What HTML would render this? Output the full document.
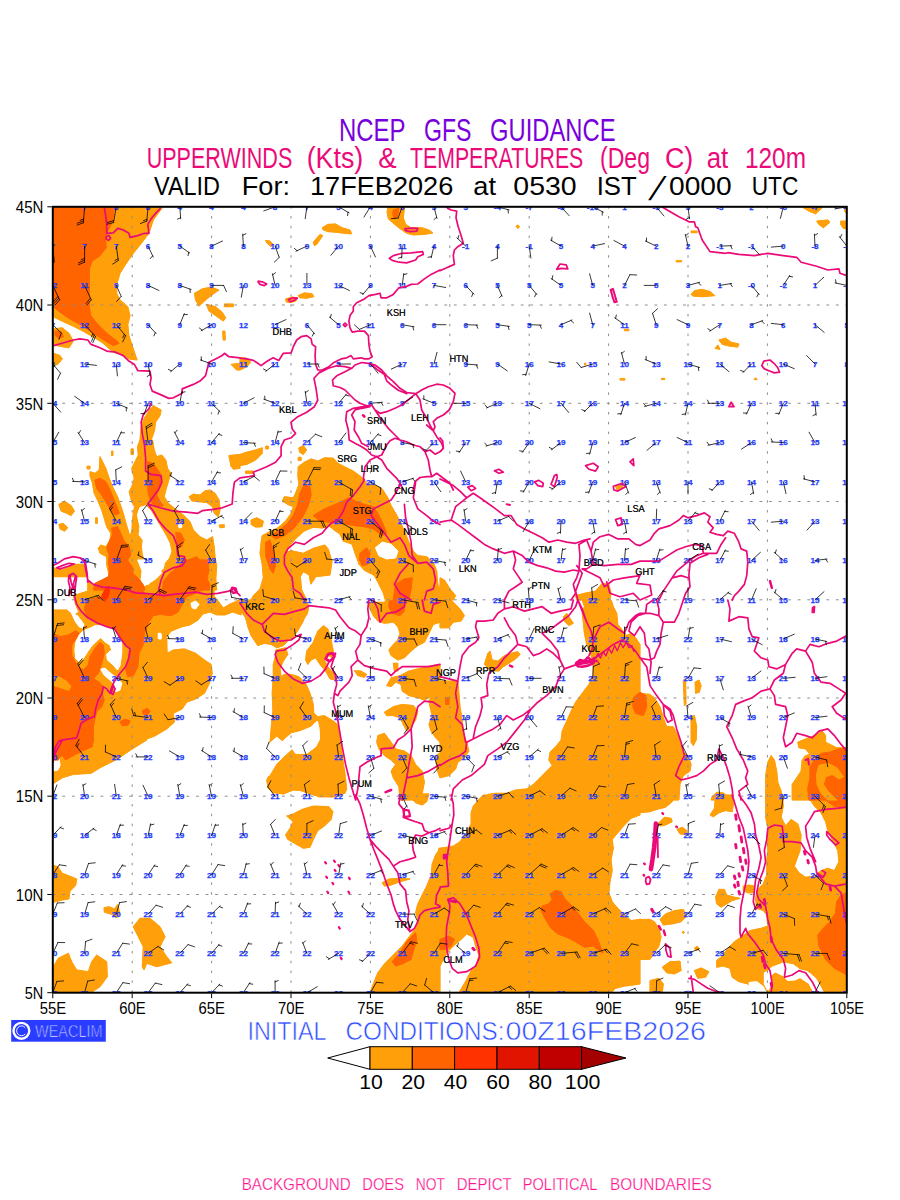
<!DOCTYPE html>
<html lang="en"><head><meta charset="utf-8"><title>NCEP GFS GUIDANCE - Upperwinds and Temperatures at 120m</title>
<style>html,body{margin:0;padding:0;background:#fff}body{width:900px;height:1200px;overflow:hidden}svg{display:block}text{font-family:"Liberation Sans",sans-serif}</style>
</head><body>
<svg width="900" height="1200" viewBox="0 0 900 1200">
<rect width="900" height="1200" fill="#fff"/>
<defs><clipPath id="mc"><rect x="52.8" y="206.8" width="794.0" height="785.9"/></clipPath></defs>
<g clip-path="url(#mc)">
<g fill="#FFA00A" stroke="#FFA00A" stroke-width="0.8" stroke-linejoin="round"><path d="M53.8 207.8L162.2 207.8L153.3 220.0L148.9 233.3L142.2 242.2L133.3 253.3L125.6 264.4L120.0 273.3L116.7 284.4L116.7 293.3L120.0 300.0L127.8 306.7L130.0 315.6L127.8 324.4L128.9 335.6L133.3 348.9L137.1 360.0L128.9 358.9L122.2 354.4L115.6 353.3L110.0 349.3L101.8 342.2L91.8 336.2L83.3 331.3L73.3 326.2L61.8 320.9L53.8 317.1Z"/><path d="M53.8 328.9L62.2 327.8L68.9 333.3L73.3 341.1L68.9 347.8L62.2 346.7L53.8 344.9Z"/><path d="M53.8 353.3L60.0 355.6L62.2 358.9L57.8 364.4L53.8 365.6Z"/><path d="M194.4 293.3L202.2 288.9L211.1 287.1L218.9 290.0L211.1 295.6L204.4 301.1L198.9 306.2L195.6 300.0Z"/><path d="M206.7 304.4L215.6 306.7L222.2 312.2L225.6 317.8L223.3 321.1L215.6 315.6L208.9 311.1Z"/><path d="M224.4 304.0L233.3 304.0L233.3 306.7L224.4 306.7Z"/><path d="M222.7 331.1L224.9 331.1L225.3 340.0L223.1 340.0Z"/><path d="M231.1 364.4L240.0 363.3L240.0 370.0L236.7 370.0Z"/><path d="M322.2 227.8L327.8 224.4L335.6 224.0L342.2 227.8L350.0 230.0L351.6 233.8L344.4 233.3L335.6 232.2L327.8 231.6L323.3 230.0Z"/><path d="M313.3 242.2L320.0 234.4L322.7 235.6L316.7 244.4L314.4 245.6Z"/><path d="M265.6 240.4L270.0 241.1L273.3 244.4L271.1 246.7L267.1 243.3Z"/><path d="M387.8 207.8L404.4 207.8L403.3 217.8L405.6 224.4L411.1 227.8L422.2 227.8L428.9 230.0L432.9 232.9L424.4 234.4L413.3 234.9L406.7 233.3L398.9 227.8L393.3 223.3L388.4 218.9L387.1 212.2Z"/><path d="M298.2 295.6L304.4 292.9L312.2 293.8L313.8 296.7L306.7 298.2L300.0 297.8Z"/><path d="M285.6 298.9L292.2 297.1L297.3 297.8L295.6 301.1L290.0 302.7L286.2 301.8Z"/><path d="M240.0 357.8L246.7 358.2L250.7 362.2L246.7 366.7L240.0 370.0Z"/><path d="M516.0 226.2L517.8 225.1L519.6 226.7L517.8 228.4Z"/><path d="M624.4 329.3L628.9 329.3L628.9 330.7L624.4 330.7Z"/><path d="M620.0 378.7L624.9 378.7L624.9 380.0L620.0 380.0Z"/><path d="M584.4 363.3L585.8 363.3L585.8 364.9L584.4 364.9Z"/><path d="M691.1 294.4L694.4 290.7L702.2 289.3L710.0 291.6L714.9 295.6L703.3 296.7L693.3 296.2Z"/><path d="M718.9 340.0L725.6 338.2L731.1 342.2L738.9 344.0L737.8 347.1L730.0 346.2L722.2 344.4Z"/><path d="M715.1 348.4L717.8 344.9L720.0 349.3Z"/><path d="M676.2 260.7L681.6 260.7L681.6 261.8L676.2 261.8Z"/><path d="M691.1 231.1L697.1 231.1L697.1 232.7L691.1 232.7Z"/><path d="M661.6 378.4L664.7 378.4L664.7 379.6L661.6 379.6Z"/><path d="M754.0 379.6L755.6 377.8L757.1 379.6Z"/><path d="M803.3 207.8L822.2 207.8L815.6 213.8L808.9 211.1Z"/><path d="M816.7 221.1L827.8 220.0L830.0 222.2L823.3 227.8L818.9 224.4Z"/><path d="M840.7 221.1L846.9 221.1L846.9 228.9L843.3 228.4L840.7 224.4Z"/><path d="M844.4 208.4L846.9 208.4L846.9 213.8L845.1 212.2Z"/><path d="M100.0 456.7L102.5 461.7L105.8 468.3L109.2 478.3L113.3 488.3L117.5 496.7L120.5 505.0L123.3 513.3L125.5 521.7L128.0 530.0L130.0 536.7L132.0 530.0L132.3 521.7L133.3 513.3L134.5 506.7L131.7 501.7L129.2 491.7L132.5 485.0L134.2 478.3L131.7 468.3L135.0 461.7L138.3 455.0L137.5 446.7L140.0 440.0L152.5 440.0L154.2 450.0L156.7 456.7L161.7 455.0L165.8 460.0L167.5 468.3L170.8 473.3L168.3 481.7L165.8 490.0L164.2 496.7L168.3 503.3L176.7 510.0L183.3 515.0L190.0 521.7L193.3 530.0L200.0 536.7L206.7 540.0L212.5 536.7L214.2 546.7L215.0 556.7L216.7 566.7L215.8 578.3L216.7 590.0L90.0 590.0L90.0 580.0L95.0 576.7L101.7 575.0L108.3 571.7L106.7 565.0L106.7 556.7L100.0 553.3L98.3 548.3L100.8 545.0L105.8 546.7L110.0 540.0L110.8 533.3L106.7 526.7L104.2 518.3L101.7 510.0L98.3 501.7L94.2 493.3L92.5 483.3L90.0 475.8L90.0 471.7L95.0 473.3L99.2 470.0Z"/><path d="M189.2 496.7L193.3 494.2L200.0 495.0L205.0 490.8L210.0 490.0L215.0 493.3L219.2 500.0L220.0 510.0L218.3 516.7L214.2 513.3L212.5 506.7L206.7 502.5L198.3 501.7L191.7 500.8Z"/><path d="M219.2 525.0L224.2 524.7L224.2 527.5L220.0 527.7Z"/><path d="M230.8 465.0L234.2 460.0L240.0 458.3L240.0 468.3L233.3 469.2Z"/><path d="M140.0 440.0L141.1 426.7L144.4 417.8L148.9 411.1L153.3 405.6L161.1 410.0L160.0 415.6L155.6 422.2L154.4 431.1L151.1 440.0L152.4 441.1L140.0 441.1Z"/><path d="M131.1 448.9L133.3 448.9L133.3 454.4L131.1 454.4Z"/><path d="M111.6 451.1L112.9 451.1L112.9 455.6L111.6 455.6Z"/><path d="M87.1 466.2L90.0 466.2L90.0 468.9L87.1 468.9Z"/><path d="M58.9 504.4L64.4 501.1L71.1 505.6L74.4 511.1L71.1 515.6L66.7 513.3L61.1 511.1Z"/><path d="M58.9 524.4L63.3 523.3L67.8 527.8L64.4 531.1L60.0 528.9Z"/><path d="M95.6 517.8L97.3 517.8L97.3 523.3L95.6 523.3Z"/><path d="M53.8 576.7L53.8 567.8L62.2 570.0L73.3 564.4L84.4 564.4L87.8 576.7Z"/><path d="M87.8 591.1L87.8 582.2L214.0 582.2L214.0 596.0L219.3 602.7L223.3 608.0L230.0 604.0L236.7 601.3L241.1 602.2L241.1 614.9L232.9 612.0L224.9 614.9L216.9 614.9L210.0 612.0L202.9 614.0L198.0 620.0L190.0 624.9L182.2 626.7L171.1 631.1L166.7 636.7L167.1 653.3L173.3 650.0L184.4 648.9L195.6 653.3L204.4 660.0L211.1 664.4L212.2 673.3L208.9 684.4L204.4 693.3L195.6 698.9L186.7 702.2L182.2 708.9L173.3 713.3L174.4 722.2L166.7 728.9L155.6 735.6L144.4 740.0L135.6 744.4L128.9 751.1L117.8 757.8L113.3 760.0L53.8 760.0L53.8 610.0L66.7 610.0L73.3 615.6L78.9 612.2L75.6 604.4L73.3 595.6L87.8 591.1Z"/><path d="M90.0 580.0L214.0 580.0L214.0 591.1L90.0 591.1Z"/><path d="M53.8 740.0L146.7 740.0L137.8 745.6L128.9 751.1L117.8 758.9L106.7 764.4L100.0 767.8L91.1 773.3L73.3 774.4L62.2 777.8L53.8 783.3Z"/><path d="M53.8 865.6L57.8 866.7L62.2 873.3L71.1 876.7L76.7 878.9L75.6 885.6L70.0 891.1L68.9 898.9L62.2 900.0L53.8 902.2Z"/><path d="M104.0 907.8L108.9 906.7L114.4 908.9L117.8 904.4L119.6 913.3L116.7 917.8L112.2 914.4L104.4 912.2Z"/><path d="M133.3 926.7L140.0 918.3L150.0 918.3L160.0 926.7L165.0 936.7L160.0 946.7L166.7 956.7L171.7 962.7L156.7 966.7L146.7 963.3L144.0 970.0L142.3 966.7L143.3 946.7L138.3 936.7Z"/><path d="M53.3 966.7L58.3 958.3L68.3 953.3L71.7 961.7L76.7 970.0L88.3 971.7L91.7 961.7L96.7 955.0L106.7 961.7L107.3 976.7L100.0 986.7L90.0 993.3L53.3 993.3Z"/><path d="M251.1 600.0L253.3 595.6L260.0 588.9L263.3 577.8L262.2 564.4L260.0 553.3L261.1 542.2L262.2 535.6L268.9 532.2L277.8 527.8L285.6 521.1L291.1 513.3L293.3 506.7L287.8 504.4L282.2 501.1L284.4 496.7L293.3 497.8L295.6 493.3L298.9 484.4L297.8 475.6L298.2 466.7L304.4 462.2L311.1 458.9L317.8 461.1L324.4 457.8L333.3 458.2L337.8 463.3L344.4 466.7L353.3 471.1L361.1 476.7L366.7 483.3L375.6 485.6L382.2 488.9L387.8 497.8L391.1 505.6L395.6 513.3L400.0 521.1L404.4 531.1L408.9 542.2L413.3 551.1L417.8 555.6L426.7 556.7L433.3 562.2L436.7 571.1L437.8 584.4L440.0 588.9L440.0 600.0Z"/><path d="M228.9 455.6L240.0 454.4L246.7 452.2L255.6 450.0L262.2 447.8L262.2 453.3L255.6 460.0L246.7 464.4L240.0 465.6L231.1 466.7Z"/><path d="M298.9 447.8L303.3 445.6L306.7 450.0L303.3 454.4L299.6 452.2Z"/><path d="M251.1 520.0L256.7 517.8L263.3 521.1L262.2 526.7L255.6 527.1L251.1 524.4Z"/><path d="M265.6 446.2L268.4 446.2L268.4 448.9L265.6 448.9Z"/><path d="M298.2 457.3L301.1 457.3L301.1 460.4L298.2 460.4Z"/><path d="M245.6 471.1L253.3 471.1L253.3 473.3L245.6 473.3Z"/><path d="M440.0 577.8L444.4 580.0L450.0 588.9L455.6 595.6L453.3 600.0L440.0 600.0Z"/><path d="M575.6 595.6L584.4 593.3L595.6 591.1L602.2 583.3L608.9 584.4L611.1 593.3L610.0 600.0L576.7 600.0Z"/><path d="M615.6 486.2L622.2 484.4L622.7 487.8L616.7 489.3Z"/><path d="M237.8 600.0L306.7 600.0L305.6 611.1L303.3 621.1L298.2 630.0L293.3 636.7L287.8 641.1L283.3 645.6L276.7 647.8L271.1 644.4L264.4 643.3L257.8 645.6L251.1 635.6L247.8 626.7L245.6 617.8L240.0 610.0L237.8 608.9Z"/><path d="M275.6 650.0L285.6 647.8L287.8 654.4L283.3 661.1L280.0 668.9L281.1 676.7L284.4 674.4L291.1 674.4L298.9 676.7L305.6 683.3L310.0 693.3L313.3 704.4L313.8 713.3L317.8 716.7L324.4 715.6L333.3 721.1L337.3 724.4L340.0 737.8L342.2 755.6L344.9 773.3L346.7 788.9L344.9 793.3L333.3 797.1L315.6 795.6L300.0 790.4L293.3 790.0L283.3 794.0L273.3 792.7L268.2 788.2L266.7 780.0L268.9 775.6L266.7 768.9L267.8 755.6L270.0 743.3L271.1 728.9L272.9 711.1L272.2 693.3L273.3 675.6L273.3 664.4L275.6 655.6Z"/><path d="M305.6 660.0L306.7 651.1L313.3 642.2L317.8 631.1L323.3 625.6L327.8 628.9L331.1 640.0L333.3 651.1L332.2 657.8L328.9 655.6L324.4 660.0L327.8 666.7L333.3 673.3L335.6 680.0L330.0 678.9L325.6 671.1L320.0 664.4L315.6 657.8L311.1 660.0L307.8 664.4Z"/><path d="M368.9 600.0L440.0 600.0L440.0 622.2L433.3 624.4L428.9 633.3L424.4 642.2L417.8 645.6L411.1 651.1L404.4 657.8L397.8 660.0L391.1 655.6L388.9 650.0L393.3 644.4L397.8 640.0L400.0 633.3L397.8 626.7L393.3 622.2L384.4 623.3L377.8 621.1L373.3 615.6L370.0 608.9Z"/><path d="M386.7 685.6L391.1 677.8L400.0 675.6L408.9 671.1L417.8 668.9L426.7 666.7L440.0 664.4L440.0 697.8L435.6 700.0L428.9 697.8L424.4 700.0L417.8 697.8L408.9 695.6L402.2 691.1L401.1 684.4L395.6 682.2L391.1 686.7Z"/><path d="M393.3 663.3L397.8 663.3L397.8 671.1L394.4 671.1Z"/><path d="M354.4 670.7L361.1 671.1L366.7 674.4L364.4 677.3L357.8 675.6Z"/><path d="M384.4 712.2L393.3 706.7L402.2 704.4L413.3 705.6L417.8 711.1L415.6 720.0L411.1 726.7L406.7 731.1L403.3 724.4L400.0 717.8L393.3 715.6L386.7 715.6Z"/><path d="M377.8 735.6L384.4 733.3L391.1 742.2L395.6 748.9L404.4 751.1L411.1 755.6L415.6 764.4L422.2 771.1L424.4 782.2L422.2 793.3L417.8 800.0L400.0 800.0L398.9 786.7L393.3 777.8L391.1 771.1L395.6 764.4L391.1 760.0L384.4 755.6L378.9 748.9L376.7 742.2Z"/><path d="M428.9 700.0L440.0 697.8L440.0 742.2L435.6 737.8L431.1 731.1L428.9 724.4L432.2 715.6L430.0 706.7Z"/><path d="M435.6 755.6L440.0 753.3L440.0 777.8L436.7 768.9Z"/><path d="M582.2 600.0L584.4 606.7L582.2 613.3L583.3 622.2L584.4 633.3L586.7 644.4L591.1 655.6L593.3 666.7L593.3 675.6L588.9 684.4L582.2 693.3L575.6 702.2L571.1 711.1L566.7 721.1L562.2 731.1L561.1 740.0L555.6 746.7L550.0 752.2L548.9 760.0L552.2 765.6L546.7 771.1L540.0 777.8L533.3 784.4L526.7 788.9L515.6 790.0L506.7 793.3L495.6 793.3L487.8 794.4L482.2 800.0L640.0 800.0L640.0 644.4L635.6 637.8L631.1 633.3L626.7 635.6L617.8 624.4L616.7 613.3L613.3 606.7L611.1 600.0Z"/><path d="M440.0 600.0L451.1 600.0L460.0 608.9L464.4 615.6L461.1 621.1L453.3 622.2L448.9 627.8L440.0 627.8Z"/><path d="M440.0 681.1L457.8 681.1L458.9 693.3L460.0 706.7L462.2 720.0L463.3 733.3L466.7 742.2L468.9 751.1L464.4 757.8L457.8 762.2L455.6 768.9L448.9 775.6L440.0 777.8Z"/><path d="M484.4 664.4L487.8 653.3L490.0 651.1L492.2 660.0L497.8 661.1L504.4 655.6L511.1 653.3L517.8 651.6L520.0 654.4L515.6 658.9L508.9 663.3L503.3 666.7L498.9 671.1L492.2 670.7L487.8 667.8Z"/><path d="M563.3 616.7L566.7 613.3L571.1 620.0L573.3 623.3L568.9 625.6L564.4 621.1Z"/><path d="M638.9 693.3L650.0 694.4L654.4 697.8L660.0 706.7L663.3 717.8L666.7 726.7L673.3 726.7L678.9 737.8L682.2 751.1L687.8 755.6L691.1 764.4L690.0 771.1L683.3 775.6L680.0 784.4L678.9 800.0L638.9 800.0Z"/><path d="M683.3 680.0L685.6 678.9L686.0 704.4L684.4 705.6Z"/><path d="M695.1 682.2L698.9 680.0L701.1 685.6L699.3 692.2L695.6 693.3Z"/><path d="M691.1 716.7L694.4 715.6L696.7 726.7L696.2 740.0L693.3 745.6L691.1 742.2Z"/><path d="M712.2 796.7L716.7 792.2L723.3 792.9L727.8 796.7L730.0 800.0L711.1 800.0Z"/><path d="M765.6 775.6L767.8 762.2L771.1 755.6L774.4 760.0L776.7 771.1L777.8 782.2L781.1 791.1L783.3 800.0L765.6 800.0Z"/><path d="M797.8 742.2L805.6 738.9L814.4 735.6L822.2 731.1L825.6 735.6L825.6 742.2L836.7 747.8L846.9 747.8L846.9 800.0L792.2 800.0L792.2 784.4L796.7 777.8L801.1 771.1L802.2 760.0L805.6 755.6L810.0 754.4L805.6 748.9L798.9 747.8Z"/><path d="M286.7 816.1L293.3 813.9L302.2 809.4L313.3 806.1L328.9 806.6L332.9 811.7L331.1 819.4L324.4 826.1L317.8 830.6L313.3 839.4L310.0 847.2L303.3 848.3L295.6 843.9L287.8 839.4L285.6 835.0L290.0 828.3L293.3 821.7Z"/><path d="M315.6 792.8L333.3 792.8L328.9 796.8L317.8 796.8Z"/><path d="M408.9 793.9L428.9 793.9L426.7 801.7L422.2 805.0L415.6 802.8L411.1 798.3Z"/><path d="M382.2 882.8L388.9 879.0L400.0 878.3L410.0 879.0L400.0 881.7L391.1 885.0L384.4 886.1Z"/><path d="M440.0 848.3L435.6 855.0L432.2 863.9L431.1 875.0L426.7 886.1L422.2 895.0L417.8 903.9L415.6 912.8L417.8 919.4L415.6 928.3L408.9 937.2L402.2 946.1L393.3 955.0L384.4 963.9L377.8 972.8L373.3 983.9L370.0 992.8L440.0 992.8Z"/><path d="M438.9 848.3L446.7 847.2L453.3 846.1L460.0 841.7L466.7 832.8L471.1 823.9L471.1 812.8L473.3 806.1L477.8 800.6L483.3 795.0L640.0 795.0L640.0 815.0L631.1 818.3L624.4 825.0L617.8 832.8L612.2 839.4L613.3 848.3L611.1 859.4L612.2 870.6L610.0 881.7L608.9 892.8L612.2 901.7L617.8 908.3L624.4 915.0L631.1 920.6L640.0 919.4L640.0 983.9L633.3 985.0L624.4 986.1L615.6 988.3L611.1 992.8L458.9 992.8L462.2 987.2L466.7 979.4L471.1 970.6L476.7 963.9L478.9 955.0L475.6 946.1L473.3 937.2L466.7 933.9L461.1 939.4L455.6 943.9L448.9 950.6L444.4 957.2L440.0 966.1L438.9 966.1Z"/><path d="M638.9 795.0L675.6 795.0L672.2 801.7L665.6 807.2L656.7 809.4L650.0 811.7L638.9 812.8Z"/><path d="M658.9 822.8L664.4 817.2L671.1 818.3L672.2 821.7L665.6 825.0L660.0 826.1Z"/><path d="M677.1 829.4L682.2 827.2L686.7 830.6L685.6 834.6L680.0 833.9Z"/><path d="M710.0 815.0L714.4 808.3L715.6 795.0L732.2 795.0L733.3 803.9L732.2 811.7L725.6 810.6L718.9 812.8L713.3 816.8Z"/><path d="M715.6 897.2L718.9 889.4L724.4 889.4L726.7 895.0L734.4 897.2L740.0 898.3L732.2 900.6L726.7 903.9L721.1 907.2L716.7 903.9Z"/><path d="M743.3 886.1L748.9 885.0L754.4 886.1L754.4 892.8L747.8 892.8L743.3 890.6Z"/><path d="M660.0 919.4L665.6 913.9L674.4 910.6L683.3 909.4L686.7 916.1L681.1 921.7L672.2 923.9L663.3 925.0Z"/><path d="M638.9 919.4L650.0 919.4L654.4 921.7L658.9 928.3L661.1 937.2L658.9 946.1L654.4 952.8L650.0 959.4L638.9 959.4Z"/><path d="M662.2 967.2L670.0 961.7L680.0 961.2L681.1 970.6L674.4 973.9L666.7 972.8Z"/><path d="M694.4 970.6L701.1 967.9L708.9 971.7L705.6 977.2L697.8 978.3Z"/><path d="M694.4 948.3L697.1 946.1L699.3 948.8L696.2 950.6Z"/><path d="M682.2 932.3L683.3 931.2L684.4 932.3L683.3 933.4Z"/><path d="M650.0 980.6L658.9 978.3L663.3 983.9L662.2 992.8L650.0 992.8Z"/><path d="M765.6 795.0L782.2 795.0L783.3 806.1L781.1 817.2L785.6 826.1L791.1 819.4L797.8 823.9L801.1 835.0L800.0 850.6L796.7 859.4L794.4 866.1L798.9 872.8L805.6 877.2L814.4 876.1L821.1 870.6L827.8 868.3L834.4 870.6L838.9 861.7L837.8 850.6L832.2 839.4L827.8 830.6L825.6 821.7L821.1 812.8L814.4 806.1L810.0 799.4L805.6 795.0L846.9 795.0L846.9 992.8L822.2 992.8L754.4 992.8L747.8 983.9L738.9 981.7L732.2 977.2L730.0 968.3L723.3 966.1L716.7 967.2L716.7 960.6L723.3 955.0L727.8 948.3L734.4 941.7L741.1 937.2L750.0 930.6L761.1 928.3L767.8 926.1L766.7 915.0L763.3 910.6L756.7 908.3L755.6 899.4L756.7 890.6L763.3 883.9L766.7 875.0L766.7 861.7L767.8 850.6L766.7 839.4L767.8 828.3L765.6 817.2Z"/><path d="M53.8 207.8L162.2 207.8L153.3 220.0L148.9 233.3L142.2 242.2L133.3 253.3L125.6 264.4L120.0 273.3L116.7 284.4L116.7 293.3L120.0 300.0L127.8 306.7L130.0 315.6L127.8 324.4L128.9 335.6L133.3 348.9L137.1 360.0L128.9 358.9L122.2 354.4L115.6 353.3L110.0 349.3L101.8 342.2L91.8 336.2L83.3 331.3L73.3 326.2L61.8 320.9L53.8 317.1Z"/><path d="M53.8 328.9L62.2 327.8L68.9 333.3L73.3 341.1L68.9 347.8L62.2 346.7L53.8 344.9Z"/><path d="M53.8 353.3L60.0 355.6L62.2 358.9L57.8 364.4L53.8 365.6Z"/><path d="M194.4 293.3L202.2 288.9L211.1 287.1L218.9 290.0L211.1 295.6L204.4 301.1L198.9 306.2L195.6 300.0Z"/><path d="M206.7 304.4L215.6 306.7L222.2 312.2L225.6 317.8L223.3 321.1L215.6 315.6L208.9 311.1Z"/><path d="M224.4 304.0L233.3 304.0L233.3 306.7L224.4 306.7Z"/><path d="M222.7 331.1L224.9 331.1L225.3 340.0L223.1 340.0Z"/><path d="M231.1 364.4L240.0 363.3L240.0 370.0L236.7 370.0Z"/><path d="M322.2 227.8L327.8 224.4L335.6 224.0L342.2 227.8L350.0 230.0L351.6 233.8L344.4 233.3L335.6 232.2L327.8 231.6L323.3 230.0Z"/><path d="M313.3 242.2L320.0 234.4L322.7 235.6L316.7 244.4L314.4 245.6Z"/><path d="M265.6 240.4L270.0 241.1L273.3 244.4L271.1 246.7L267.1 243.3Z"/><path d="M387.8 207.8L404.4 207.8L403.3 217.8L405.6 224.4L411.1 227.8L422.2 227.8L428.9 230.0L432.9 232.9L424.4 234.4L413.3 234.9L406.7 233.3L398.9 227.8L393.3 223.3L388.4 218.9L387.1 212.2Z"/><path d="M298.2 295.6L304.4 292.9L312.2 293.8L313.8 296.7L306.7 298.2L300.0 297.8Z"/><path d="M285.6 298.9L292.2 297.1L297.3 297.8L295.6 301.1L290.0 302.7L286.2 301.8Z"/><path d="M240.0 357.8L246.7 358.2L250.7 362.2L246.7 366.7L240.0 370.0Z"/><path d="M516.0 226.2L517.8 225.1L519.6 226.7L517.8 228.4Z"/><path d="M624.4 329.3L628.9 329.3L628.9 330.7L624.4 330.7Z"/><path d="M620.0 378.7L624.9 378.7L624.9 380.0L620.0 380.0Z"/><path d="M584.4 363.3L585.8 363.3L585.8 364.9L584.4 364.9Z"/><path d="M691.1 294.4L694.4 290.7L702.2 289.3L710.0 291.6L714.9 295.6L703.3 296.7L693.3 296.2Z"/><path d="M718.9 340.0L725.6 338.2L731.1 342.2L738.9 344.0L737.8 347.1L730.0 346.2L722.2 344.4Z"/><path d="M715.1 348.4L717.8 344.9L720.0 349.3Z"/><path d="M676.2 260.7L681.6 260.7L681.6 261.8L676.2 261.8Z"/><path d="M691.1 231.1L697.1 231.1L697.1 232.7L691.1 232.7Z"/><path d="M661.6 378.4L664.7 378.4L664.7 379.6L661.6 379.6Z"/><path d="M754.0 379.6L755.6 377.8L757.1 379.6Z"/><path d="M803.3 207.8L822.2 207.8L815.6 213.8L808.9 211.1Z"/><path d="M816.7 221.1L827.8 220.0L830.0 222.2L823.3 227.8L818.9 224.4Z"/><path d="M840.7 221.1L846.9 221.1L846.9 228.9L843.3 228.4L840.7 224.4Z"/><path d="M844.4 208.4L846.9 208.4L846.9 213.8L845.1 212.2Z"/><path d="M100.0 456.7L102.5 461.7L105.8 468.3L109.2 478.3L113.3 488.3L117.5 496.7L120.5 505.0L123.3 513.3L125.5 521.7L128.0 530.0L130.0 536.7L132.0 530.0L132.3 521.7L133.3 513.3L134.5 506.7L131.7 501.7L129.2 491.7L132.5 485.0L134.2 478.3L131.7 468.3L135.0 461.7L138.3 455.0L137.5 446.7L140.0 440.0L152.5 440.0L154.2 450.0L156.7 456.7L161.7 455.0L165.8 460.0L167.5 468.3L170.8 473.3L168.3 481.7L165.8 490.0L164.2 496.7L168.3 503.3L176.7 510.0L183.3 515.0L190.0 521.7L193.3 530.0L200.0 536.7L206.7 540.0L212.5 536.7L214.2 546.7L215.0 556.7L216.7 566.7L215.8 578.3L216.7 590.0L90.0 590.0L90.0 580.0L95.0 576.7L101.7 575.0L108.3 571.7L106.7 565.0L106.7 556.7L100.0 553.3L98.3 548.3L100.8 545.0L105.8 546.7L110.0 540.0L110.8 533.3L106.7 526.7L104.2 518.3L101.7 510.0L98.3 501.7L94.2 493.3L92.5 483.3L90.0 475.8L90.0 471.7L95.0 473.3L99.2 470.0Z"/><path d="M189.2 496.7L193.3 494.2L200.0 495.0L205.0 490.8L210.0 490.0L215.0 493.3L219.2 500.0L220.0 510.0L218.3 516.7L214.2 513.3L212.5 506.7L206.7 502.5L198.3 501.7L191.7 500.8Z"/><path d="M219.2 525.0L224.2 524.7L224.2 527.5L220.0 527.7Z"/><path d="M230.8 465.0L234.2 460.0L240.0 458.3L240.0 468.3L233.3 469.2Z"/><path d="M140.0 440.0L141.1 426.7L144.4 417.8L148.9 411.1L153.3 405.6L161.1 410.0L160.0 415.6L155.6 422.2L154.4 431.1L151.1 440.0L152.4 441.1L140.0 441.1Z"/><path d="M131.1 448.9L133.3 448.9L133.3 454.4L131.1 454.4Z"/><path d="M111.6 451.1L112.9 451.1L112.9 455.6L111.6 455.6Z"/><path d="M87.1 466.2L90.0 466.2L90.0 468.9L87.1 468.9Z"/><path d="M58.9 504.4L64.4 501.1L71.1 505.6L74.4 511.1L71.1 515.6L66.7 513.3L61.1 511.1Z"/><path d="M58.9 524.4L63.3 523.3L67.8 527.8L64.4 531.1L60.0 528.9Z"/><path d="M95.6 517.8L97.3 517.8L97.3 523.3L95.6 523.3Z"/><path d="M53.8 576.7L53.8 567.8L62.2 570.0L73.3 564.4L84.4 564.4L87.8 576.7Z"/><path d="M87.8 591.1L87.8 582.2L214.0 582.2L214.0 596.0L219.3 602.7L223.3 608.0L230.0 604.0L236.7 601.3L241.1 602.2L241.1 614.9L232.9 612.0L224.9 614.9L216.9 614.9L210.0 612.0L202.9 614.0L198.0 620.0L190.0 624.9L182.2 626.7L171.1 631.1L166.7 636.7L167.1 653.3L173.3 650.0L184.4 648.9L195.6 653.3L204.4 660.0L211.1 664.4L212.2 673.3L208.9 684.4L204.4 693.3L195.6 698.9L186.7 702.2L182.2 708.9L173.3 713.3L174.4 722.2L166.7 728.9L155.6 735.6L144.4 740.0L135.6 744.4L128.9 751.1L117.8 757.8L113.3 760.0L53.8 760.0L53.8 610.0L66.7 610.0L73.3 615.6L78.9 612.2L75.6 604.4L73.3 595.6L87.8 591.1Z"/><path d="M90.0 580.0L214.0 580.0L214.0 591.1L90.0 591.1Z"/><path d="M53.8 740.0L146.7 740.0L137.8 745.6L128.9 751.1L117.8 758.9L106.7 764.4L100.0 767.8L91.1 773.3L73.3 774.4L62.2 777.8L53.8 783.3Z"/><path d="M53.8 865.6L57.8 866.7L62.2 873.3L71.1 876.7L76.7 878.9L75.6 885.6L70.0 891.1L68.9 898.9L62.2 900.0L53.8 902.2Z"/><path d="M104.0 907.8L108.9 906.7L114.4 908.9L117.8 904.4L119.6 913.3L116.7 917.8L112.2 914.4L104.4 912.2Z"/><path d="M133.3 926.7L140.0 918.3L150.0 918.3L160.0 926.7L165.0 936.7L160.0 946.7L166.7 956.7L171.7 962.7L156.7 966.7L146.7 963.3L144.0 970.0L142.3 966.7L143.3 946.7L138.3 936.7Z"/><path d="M53.3 966.7L58.3 958.3L68.3 953.3L71.7 961.7L76.7 970.0L88.3 971.7L91.7 961.7L96.7 955.0L106.7 961.7L107.3 976.7L100.0 986.7L90.0 993.3L53.3 993.3Z"/><path d="M251.1 600.0L253.3 595.6L260.0 588.9L263.3 577.8L262.2 564.4L260.0 553.3L261.1 542.2L262.2 535.6L268.9 532.2L277.8 527.8L285.6 521.1L291.1 513.3L293.3 506.7L287.8 504.4L282.2 501.1L284.4 496.7L293.3 497.8L295.6 493.3L298.9 484.4L297.8 475.6L298.2 466.7L304.4 462.2L311.1 458.9L317.8 461.1L324.4 457.8L333.3 458.2L337.8 463.3L344.4 466.7L353.3 471.1L361.1 476.7L366.7 483.3L375.6 485.6L382.2 488.9L387.8 497.8L391.1 505.6L395.6 513.3L400.0 521.1L404.4 531.1L408.9 542.2L413.3 551.1L417.8 555.6L426.7 556.7L433.3 562.2L436.7 571.1L437.8 584.4L440.0 588.9L440.0 600.0Z"/><path d="M228.9 455.6L240.0 454.4L246.7 452.2L255.6 450.0L262.2 447.8L262.2 453.3L255.6 460.0L246.7 464.4L240.0 465.6L231.1 466.7Z"/><path d="M298.9 447.8L303.3 445.6L306.7 450.0L303.3 454.4L299.6 452.2Z"/><path d="M251.1 520.0L256.7 517.8L263.3 521.1L262.2 526.7L255.6 527.1L251.1 524.4Z"/><path d="M265.6 446.2L268.4 446.2L268.4 448.9L265.6 448.9Z"/><path d="M298.2 457.3L301.1 457.3L301.1 460.4L298.2 460.4Z"/><path d="M245.6 471.1L253.3 471.1L253.3 473.3L245.6 473.3Z"/><path d="M440.0 577.8L444.4 580.0L450.0 588.9L455.6 595.6L453.3 600.0L440.0 600.0Z"/><path d="M575.6 595.6L584.4 593.3L595.6 591.1L602.2 583.3L608.9 584.4L611.1 593.3L610.0 600.0L576.7 600.0Z"/><path d="M615.6 486.2L622.2 484.4L622.7 487.8L616.7 489.3Z"/><path d="M237.8 600.0L306.7 600.0L305.6 611.1L303.3 621.1L298.2 630.0L293.3 636.7L287.8 641.1L283.3 645.6L276.7 647.8L271.1 644.4L264.4 643.3L257.8 645.6L251.1 635.6L247.8 626.7L245.6 617.8L240.0 610.0L237.8 608.9Z"/><path d="M275.6 650.0L285.6 647.8L287.8 654.4L283.3 661.1L280.0 668.9L281.1 676.7L284.4 674.4L291.1 674.4L298.9 676.7L305.6 683.3L310.0 693.3L313.3 704.4L313.8 713.3L317.8 716.7L324.4 715.6L333.3 721.1L337.3 724.4L340.0 737.8L342.2 755.6L344.9 773.3L346.7 788.9L344.9 793.3L333.3 797.1L315.6 795.6L300.0 790.4L293.3 790.0L283.3 794.0L273.3 792.7L268.2 788.2L266.7 780.0L268.9 775.6L266.7 768.9L267.8 755.6L270.0 743.3L271.1 728.9L272.9 711.1L272.2 693.3L273.3 675.6L273.3 664.4L275.6 655.6Z"/><path d="M305.6 660.0L306.7 651.1L313.3 642.2L317.8 631.1L323.3 625.6L327.8 628.9L331.1 640.0L333.3 651.1L332.2 657.8L328.9 655.6L324.4 660.0L327.8 666.7L333.3 673.3L335.6 680.0L330.0 678.9L325.6 671.1L320.0 664.4L315.6 657.8L311.1 660.0L307.8 664.4Z"/><path d="M368.9 600.0L440.0 600.0L440.0 622.2L433.3 624.4L428.9 633.3L424.4 642.2L417.8 645.6L411.1 651.1L404.4 657.8L397.8 660.0L391.1 655.6L388.9 650.0L393.3 644.4L397.8 640.0L400.0 633.3L397.8 626.7L393.3 622.2L384.4 623.3L377.8 621.1L373.3 615.6L370.0 608.9Z"/><path d="M386.7 685.6L391.1 677.8L400.0 675.6L408.9 671.1L417.8 668.9L426.7 666.7L440.0 664.4L440.0 697.8L435.6 700.0L428.9 697.8L424.4 700.0L417.8 697.8L408.9 695.6L402.2 691.1L401.1 684.4L395.6 682.2L391.1 686.7Z"/><path d="M393.3 663.3L397.8 663.3L397.8 671.1L394.4 671.1Z"/><path d="M354.4 670.7L361.1 671.1L366.7 674.4L364.4 677.3L357.8 675.6Z"/><path d="M384.4 712.2L393.3 706.7L402.2 704.4L413.3 705.6L417.8 711.1L415.6 720.0L411.1 726.7L406.7 731.1L403.3 724.4L400.0 717.8L393.3 715.6L386.7 715.6Z"/><path d="M377.8 735.6L384.4 733.3L391.1 742.2L395.6 748.9L404.4 751.1L411.1 755.6L415.6 764.4L422.2 771.1L424.4 782.2L422.2 793.3L417.8 800.0L400.0 800.0L398.9 786.7L393.3 777.8L391.1 771.1L395.6 764.4L391.1 760.0L384.4 755.6L378.9 748.9L376.7 742.2Z"/><path d="M428.9 700.0L440.0 697.8L440.0 742.2L435.6 737.8L431.1 731.1L428.9 724.4L432.2 715.6L430.0 706.7Z"/><path d="M435.6 755.6L440.0 753.3L440.0 777.8L436.7 768.9Z"/><path d="M582.2 600.0L584.4 606.7L582.2 613.3L583.3 622.2L584.4 633.3L586.7 644.4L591.1 655.6L593.3 666.7L593.3 675.6L588.9 684.4L582.2 693.3L575.6 702.2L571.1 711.1L566.7 721.1L562.2 731.1L561.1 740.0L555.6 746.7L550.0 752.2L548.9 760.0L552.2 765.6L546.7 771.1L540.0 777.8L533.3 784.4L526.7 788.9L515.6 790.0L506.7 793.3L495.6 793.3L487.8 794.4L482.2 800.0L640.0 800.0L640.0 644.4L635.6 637.8L631.1 633.3L626.7 635.6L617.8 624.4L616.7 613.3L613.3 606.7L611.1 600.0Z"/><path d="M440.0 600.0L451.1 600.0L460.0 608.9L464.4 615.6L461.1 621.1L453.3 622.2L448.9 627.8L440.0 627.8Z"/><path d="M440.0 681.1L457.8 681.1L458.9 693.3L460.0 706.7L462.2 720.0L463.3 733.3L466.7 742.2L468.9 751.1L464.4 757.8L457.8 762.2L455.6 768.9L448.9 775.6L440.0 777.8Z"/><path d="M484.4 664.4L487.8 653.3L490.0 651.1L492.2 660.0L497.8 661.1L504.4 655.6L511.1 653.3L517.8 651.6L520.0 654.4L515.6 658.9L508.9 663.3L503.3 666.7L498.9 671.1L492.2 670.7L487.8 667.8Z"/><path d="M563.3 616.7L566.7 613.3L571.1 620.0L573.3 623.3L568.9 625.6L564.4 621.1Z"/><path d="M638.9 693.3L650.0 694.4L654.4 697.8L660.0 706.7L663.3 717.8L666.7 726.7L673.3 726.7L678.9 737.8L682.2 751.1L687.8 755.6L691.1 764.4L690.0 771.1L683.3 775.6L680.0 784.4L678.9 800.0L638.9 800.0Z"/><path d="M683.3 680.0L685.6 678.9L686.0 704.4L684.4 705.6Z"/><path d="M695.1 682.2L698.9 680.0L701.1 685.6L699.3 692.2L695.6 693.3Z"/><path d="M691.1 716.7L694.4 715.6L696.7 726.7L696.2 740.0L693.3 745.6L691.1 742.2Z"/><path d="M712.2 796.7L716.7 792.2L723.3 792.9L727.8 796.7L730.0 800.0L711.1 800.0Z"/><path d="M765.6 775.6L767.8 762.2L771.1 755.6L774.4 760.0L776.7 771.1L777.8 782.2L781.1 791.1L783.3 800.0L765.6 800.0Z"/><path d="M797.8 742.2L805.6 738.9L814.4 735.6L822.2 731.1L825.6 735.6L825.6 742.2L836.7 747.8L846.9 747.8L846.9 800.0L792.2 800.0L792.2 784.4L796.7 777.8L801.1 771.1L802.2 760.0L805.6 755.6L810.0 754.4L805.6 748.9L798.9 747.8Z"/><path d="M286.7 816.1L293.3 813.9L302.2 809.4L313.3 806.1L328.9 806.6L332.9 811.7L331.1 819.4L324.4 826.1L317.8 830.6L313.3 839.4L310.0 847.2L303.3 848.3L295.6 843.9L287.8 839.4L285.6 835.0L290.0 828.3L293.3 821.7Z"/><path d="M315.6 792.8L333.3 792.8L328.9 796.8L317.8 796.8Z"/><path d="M408.9 793.9L428.9 793.9L426.7 801.7L422.2 805.0L415.6 802.8L411.1 798.3Z"/><path d="M382.2 882.8L388.9 879.0L400.0 878.3L410.0 879.0L400.0 881.7L391.1 885.0L384.4 886.1Z"/><path d="M440.0 848.3L435.6 855.0L432.2 863.9L431.1 875.0L426.7 886.1L422.2 895.0L417.8 903.9L415.6 912.8L417.8 919.4L415.6 928.3L408.9 937.2L402.2 946.1L393.3 955.0L384.4 963.9L377.8 972.8L373.3 983.9L370.0 992.8L440.0 992.8Z"/><path d="M438.9 848.3L446.7 847.2L453.3 846.1L460.0 841.7L466.7 832.8L471.1 823.9L471.1 812.8L473.3 806.1L477.8 800.6L483.3 795.0L640.0 795.0L640.0 815.0L631.1 818.3L624.4 825.0L617.8 832.8L612.2 839.4L613.3 848.3L611.1 859.4L612.2 870.6L610.0 881.7L608.9 892.8L612.2 901.7L617.8 908.3L624.4 915.0L631.1 920.6L640.0 919.4L640.0 983.9L633.3 985.0L624.4 986.1L615.6 988.3L611.1 992.8L458.9 992.8L462.2 987.2L466.7 979.4L471.1 970.6L476.7 963.9L478.9 955.0L475.6 946.1L473.3 937.2L466.7 933.9L461.1 939.4L455.6 943.9L448.9 950.6L444.4 957.2L440.0 966.1L438.9 966.1Z"/><path d="M638.9 795.0L675.6 795.0L672.2 801.7L665.6 807.2L656.7 809.4L650.0 811.7L638.9 812.8Z"/><path d="M658.9 822.8L664.4 817.2L671.1 818.3L672.2 821.7L665.6 825.0L660.0 826.1Z"/><path d="M677.1 829.4L682.2 827.2L686.7 830.6L685.6 834.6L680.0 833.9Z"/><path d="M710.0 815.0L714.4 808.3L715.6 795.0L732.2 795.0L733.3 803.9L732.2 811.7L725.6 810.6L718.9 812.8L713.3 816.8Z"/><path d="M715.6 897.2L718.9 889.4L724.4 889.4L726.7 895.0L734.4 897.2L740.0 898.3L732.2 900.6L726.7 903.9L721.1 907.2L716.7 903.9Z"/><path d="M743.3 886.1L748.9 885.0L754.4 886.1L754.4 892.8L747.8 892.8L743.3 890.6Z"/><path d="M660.0 919.4L665.6 913.9L674.4 910.6L683.3 909.4L686.7 916.1L681.1 921.7L672.2 923.9L663.3 925.0Z"/><path d="M638.9 919.4L650.0 919.4L654.4 921.7L658.9 928.3L661.1 937.2L658.9 946.1L654.4 952.8L650.0 959.4L638.9 959.4Z"/><path d="M662.2 967.2L670.0 961.7L680.0 961.2L681.1 970.6L674.4 973.9L666.7 972.8Z"/><path d="M694.4 970.6L701.1 967.9L708.9 971.7L705.6 977.2L697.8 978.3Z"/><path d="M694.4 948.3L697.1 946.1L699.3 948.8L696.2 950.6Z"/><path d="M682.2 932.3L683.3 931.2L684.4 932.3L683.3 933.4Z"/><path d="M650.0 980.6L658.9 978.3L663.3 983.9L662.2 992.8L650.0 992.8Z"/><path d="M765.6 795.0L782.2 795.0L783.3 806.1L781.1 817.2L785.6 826.1L791.1 819.4L797.8 823.9L801.1 835.0L800.0 850.6L796.7 859.4L794.4 866.1L798.9 872.8L805.6 877.2L814.4 876.1L821.1 870.6L827.8 868.3L834.4 870.6L838.9 861.7L837.8 850.6L832.2 839.4L827.8 830.6L825.6 821.7L821.1 812.8L814.4 806.1L810.0 799.4L805.6 795.0L846.9 795.0L846.9 992.8L822.2 992.8L754.4 992.8L747.8 983.9L738.9 981.7L732.2 977.2L730.0 968.3L723.3 966.1L716.7 967.2L716.7 960.6L723.3 955.0L727.8 948.3L734.4 941.7L741.1 937.2L750.0 930.6L761.1 928.3L767.8 926.1L766.7 915.0L763.3 910.6L756.7 908.3L755.6 899.4L756.7 890.6L763.3 883.9L766.7 875.0L766.7 861.7L767.8 850.6L766.7 839.4L767.8 828.3L765.6 817.2Z"/></g>
<g fill="#fff" stroke="#fff" stroke-width="0.8" stroke-linejoin="round"><path d="M140.0 507.5L145.8 505.8L150.0 510.0L155.0 518.3L160.0 526.7L165.0 535.0L169.2 543.3L170.8 551.7L168.3 558.3L164.2 563.3L163.3 568.3L156.7 573.3L151.7 580.0L147.5 585.0L144.2 581.7L145.8 573.3L148.3 566.7L145.0 560.0L143.3 553.3L142.5 546.7L143.3 540.0L139.2 535.0L140.0 526.7L137.5 515.0Z"/><path d="M178.3 524.2L181.3 523.8L182.0 527.0L179.2 528.0Z"/><path d="M87.8 573.3L95.6 570.0L106.7 571.1L108.9 577.8L100.0 583.3L92.2 584.4Z"/><path d="M137.8 560.0L160.0 560.0L161.1 573.3L155.6 578.9L148.9 583.3L144.4 585.6L141.1 580.0L142.2 571.1Z"/><path d="M191.1 603.3L195.6 601.1L198.9 604.4L195.6 608.9L192.2 607.8Z"/><path d="M158.9 634.4L161.1 634.4L161.1 638.9L158.9 638.9Z"/><path d="M75.8 642.5L79.2 635.0L83.3 630.8L90.0 628.3L95.0 625.8L101.7 625.8L110.0 626.7L115.0 630.0L118.3 636.7L121.7 643.3L121.7 653.3L120.0 665.0L117.5 670.0L113.3 665.0L107.5 660.0L106.7 654.2L111.7 650.0L110.0 645.0L105.0 641.7L100.8 637.5L96.7 640.8L91.7 645.8L87.5 651.7L83.3 658.3L79.2 661.7L75.8 658.3L75.0 650.0Z"/><path d="M100.8 669.2L105.0 668.3L111.7 674.2L117.5 678.3L121.7 683.3L120.0 690.0L115.8 691.7L115.0 685.0L110.0 680.0L104.2 675.0Z"/><path d="M71.7 613.3L77.5 615.8L83.7 624.2L83.0 628.0L79.2 626.7L75.0 620.8Z"/><path d="M158.3 633.3L160.8 633.3L160.8 638.3L158.3 638.3Z"/><path d="M52.2 744.4L56.7 746.7L58.9 755.6L60.0 765.6L57.8 770.0L52.2 771.1Z"/><path d="M285.6 553.3L291.1 545.6L296.7 538.9L304.4 532.2L313.3 528.4L322.2 529.3L328.9 527.1L334.4 531.6L338.9 534.4L342.7 542.2L351.1 544.9L353.8 553.3L357.8 564.4L364.4 571.6L373.3 576.0L377.8 584.4L382.2 593.3L384.4 601.1L291.1 601.1L287.8 595.6L284.4 591.1L280.0 586.7L278.9 575.6L282.2 564.4Z"/><path d="M375.6 547.8L382.2 542.2L391.1 544.4L397.8 551.1L395.6 557.8L386.7 558.9L378.9 555.6Z"/><path d="M270.0 743.3L276.7 737.3L282.2 741.8L291.1 734.0L300.0 731.8L311.1 727.3L317.3 721.1L318.9 727.8L319.6 738.9L315.6 746.7L306.7 753.3L295.6 753.3L292.2 748.4L284.4 755.6L275.6 764.4L268.9 775.6L264.4 771.1L265.6 755.6Z"/><path d="M765.8 974.2L771.7 967.5L783.3 963.0L793.7 965.0L800.0 970.0L807.5 971.7L815.3 978.0L820.8 987.5L823.7 993.0L814.2 993.0L809.2 983.7L800.0 977.5L794.7 980.0L787.5 980.3L783.3 975.8L775.0 971.7L768.7 977.5Z"/><path d="M749.2 982.5L756.7 981.7L763.3 986.7L766.3 993.0L749.2 993.0Z"/><path d="M764.4 972.8L770.0 970.6L772.2 983.9L767.8 990.6L764.4 983.9Z"/><path d="M140.0 507.5L145.8 505.8L150.0 510.0L155.0 518.3L160.0 526.7L165.0 535.0L169.2 543.3L170.8 551.7L168.3 558.3L164.2 563.3L163.3 568.3L156.7 573.3L151.7 580.0L147.5 585.0L144.2 581.7L145.8 573.3L148.3 566.7L145.0 560.0L143.3 553.3L142.5 546.7L143.3 540.0L139.2 535.0L140.0 526.7L137.5 515.0Z"/><path d="M178.3 524.2L181.3 523.8L182.0 527.0L179.2 528.0Z"/><path d="M87.8 573.3L95.6 570.0L106.7 571.1L108.9 577.8L100.0 583.3L92.2 584.4Z"/><path d="M137.8 560.0L160.0 560.0L161.1 573.3L155.6 578.9L148.9 583.3L144.4 585.6L141.1 580.0L142.2 571.1Z"/><path d="M191.1 603.3L195.6 601.1L198.9 604.4L195.6 608.9L192.2 607.8Z"/><path d="M158.9 634.4L161.1 634.4L161.1 638.9L158.9 638.9Z"/><path d="M75.8 642.5L79.2 635.0L83.3 630.8L90.0 628.3L95.0 625.8L101.7 625.8L110.0 626.7L115.0 630.0L118.3 636.7L121.7 643.3L121.7 653.3L120.0 665.0L117.5 670.0L113.3 665.0L107.5 660.0L106.7 654.2L111.7 650.0L110.0 645.0L105.0 641.7L100.8 637.5L96.7 640.8L91.7 645.8L87.5 651.7L83.3 658.3L79.2 661.7L75.8 658.3L75.0 650.0Z"/><path d="M100.8 669.2L105.0 668.3L111.7 674.2L117.5 678.3L121.7 683.3L120.0 690.0L115.8 691.7L115.0 685.0L110.0 680.0L104.2 675.0Z"/><path d="M71.7 613.3L77.5 615.8L83.7 624.2L83.0 628.0L79.2 626.7L75.0 620.8Z"/><path d="M158.3 633.3L160.8 633.3L160.8 638.3L158.3 638.3Z"/><path d="M52.2 744.4L56.7 746.7L58.9 755.6L60.0 765.6L57.8 770.0L52.2 771.1Z"/><path d="M285.6 553.3L291.1 545.6L296.7 538.9L304.4 532.2L313.3 528.4L322.2 529.3L328.9 527.1L334.4 531.6L338.9 534.4L342.7 542.2L351.1 544.9L353.8 553.3L357.8 564.4L364.4 571.6L373.3 576.0L377.8 584.4L382.2 593.3L384.4 601.1L291.1 601.1L287.8 595.6L284.4 591.1L280.0 586.7L278.9 575.6L282.2 564.4Z"/><path d="M375.6 547.8L382.2 542.2L391.1 544.4L397.8 551.1L395.6 557.8L386.7 558.9L378.9 555.6Z"/><path d="M270.0 743.3L276.7 737.3L282.2 741.8L291.1 734.0L300.0 731.8L311.1 727.3L317.3 721.1L318.9 727.8L319.6 738.9L315.6 746.7L306.7 753.3L295.6 753.3L292.2 748.4L284.4 755.6L275.6 764.4L268.9 775.6L264.4 771.1L265.6 755.6Z"/><path d="M765.8 974.2L771.7 967.5L783.3 963.0L793.7 965.0L800.0 970.0L807.5 971.7L815.3 978.0L820.8 987.5L823.7 993.0L814.2 993.0L809.2 983.7L800.0 977.5L794.7 980.0L787.5 980.3L783.3 975.8L775.0 971.7L768.7 977.5Z"/><path d="M749.2 982.5L756.7 981.7L763.3 986.7L766.3 993.0L749.2 993.0Z"/><path d="M764.4 972.8L770.0 970.6L772.2 983.9L767.8 990.6L764.4 983.9Z"/></g>
<g fill="#FFA00A" stroke="#FFA00A" stroke-width="0.8" stroke-linejoin="round"><path d="M266.7 541.7L280.0 545.0L286.7 551.7L291.7 550.8L303.3 553.3L313.3 548.3L325.0 545.0L328.3 549.2L332.0 561.7L330.0 575.0L315.8 576.7L310.8 584.2L309.2 575.0L303.3 571.7L300.3 576.7L301.7 590.0L305.8 598.3L308.7 606.7L307.5 613.3L303.3 620.0L296.7 626.7L286.7 633.3L280.0 635.0L266.7 633.3Z"/><path d="M266.7 541.7L280.0 545.0L286.7 551.7L291.7 550.8L303.3 553.3L313.3 548.3L325.0 545.0L328.3 549.2L332.0 561.7L330.0 575.0L315.8 576.7L310.8 584.2L309.2 575.0L303.3 571.7L300.3 576.7L301.7 590.0L305.8 598.3L308.7 606.7L307.5 613.3L303.3 620.0L296.7 626.7L286.7 633.3L280.0 635.0L266.7 633.3Z"/></g>
<g fill="#FF6400" stroke="#FF6400" stroke-width="0.8" stroke-linejoin="round"><path d="M53.8 207.8L114.4 207.8L112.2 222.2L106.7 233.3L105.6 240.0L106.2 247.8L100.0 255.6L92.2 261.1L89.3 268.9L89.3 306.7L90.7 315.6L97.8 324.4L106.7 333.3L115.6 340.0L118.9 343.3L113.3 345.6L102.2 338.9L93.3 332.9L80.0 324.4L68.9 318.2L60.0 312.2L53.8 307.1Z"/><path d="M55.1 331.1L61.1 331.6L63.3 336.7L58.9 338.2L55.1 335.6Z"/><path d="M393.3 210.0L398.9 208.4L397.3 216.7L394.4 218.9L392.9 214.4Z"/><path d="M95.0 480.0L100.0 478.3L105.8 481.7L110.0 490.0L113.3 498.3L116.7 506.7L119.2 513.3L115.0 515.0L110.8 510.0L106.7 503.3L101.7 495.0L96.7 488.3Z"/><path d="M111.7 528.3L117.5 526.7L120.8 533.3L123.3 540.0L129.2 546.7L130.8 555.0L127.5 560.0L131.7 566.7L132.5 573.3L138.3 578.3L143.3 585.0L145.0 590.0L93.3 590.0L95.0 583.3L101.7 580.0L108.3 576.7L110.0 570.0L108.3 563.3L109.2 555.0L106.7 548.3L110.0 540.0L112.5 535.0Z"/><path d="M147.5 461.7L152.5 463.3L156.7 468.3L160.0 473.3L161.7 481.7L159.2 488.3L156.7 495.0L160.0 501.7L163.3 505.8L156.7 506.7L150.8 501.7L148.3 493.3L147.5 483.3L148.3 473.3Z"/><path d="M175.8 532.5L180.8 533.3L184.2 540.0L181.7 546.7L177.5 548.3L176.7 540.0Z"/><path d="M170.0 573.3L176.7 568.3L183.3 565.0L188.3 560.0L196.7 556.7L201.7 561.7L206.7 563.3L209.2 570.0L206.7 578.3L210.0 585.0L209.2 590.0L163.3 590.0L163.3 581.7Z"/><path d="M85.6 603.3L91.1 598.9L102.2 596.7L106.7 588.9L111.1 577.8L108.9 568.9L113.3 563.3L128.9 562.2L133.3 568.9L132.2 576.7L137.8 584.4L144.4 593.3L151.1 595.6L161.1 591.1L164.4 582.2L171.1 573.3L177.8 566.7L184.4 560.0L208.9 560.0L207.8 568.9L206.7 580.0L204.4 588.9L195.6 593.3L186.7 596.7L182.2 604.4L177.8 612.2L171.1 615.6L160.0 614.4L153.3 615.6L148.9 622.2L144.4 633.3L143.3 644.4L138.9 653.3L137.8 666.7L133.3 675.6L127.8 676.7L125.6 668.9L128.9 657.8L130.0 648.9L124.4 644.4L120.0 636.7L114.4 628.9L106.7 625.6L97.8 622.2L87.8 616.7L84.4 610.0Z"/><path d="M53.0 633.3L60.0 636.7L68.3 635.0L75.8 630.8L79.2 633.3L75.0 640.0L71.7 645.0L71.7 655.0L75.0 661.7L78.3 666.7L83.3 670.0L88.3 665.0L90.0 656.7L95.0 648.3L100.0 642.5L103.3 645.0L104.2 653.3L101.7 663.3L98.3 673.3L93.3 678.3L98.3 681.7L103.3 686.7L101.7 691.7L104.2 700.0L101.7 706.7L96.7 711.7L95.0 718.3L93.3 726.7L93.3 741.7L88.3 745.0L81.7 748.3L76.7 753.3L71.7 755.0L65.0 753.3L60.0 756.7L58.3 760.0L53.0 760.0Z"/><path d="M120.0 721.7L125.0 719.2L130.0 720.8L128.3 725.0L122.5 725.8Z"/><path d="M142.5 710.8L147.5 708.3L150.0 711.7L146.7 715.0L143.3 714.2Z"/><path d="M58.9 740.0L93.3 740.0L92.2 746.7L84.4 750.0L77.8 753.3L71.1 756.7L65.6 760.0L61.1 753.3L58.9 746.7Z"/><path d="M304.4 484.4L310.0 486.7L311.1 495.6L307.8 506.7L302.2 517.8L293.3 528.9L284.4 535.6L275.6 538.9L271.1 535.6L277.8 531.1L286.7 524.4L293.3 515.6L297.8 504.4L300.0 493.3Z"/><path d="M265.6 542.2L270.0 540.0L273.3 551.1L275.6 564.4L273.3 573.3L270.0 568.9L265.6 555.6Z"/><path d="M313.3 515.6L324.4 508.9L337.8 503.3L348.9 497.8L355.6 501.1L364.4 504.4L373.3 506.7L377.8 513.3L382.2 522.2L386.7 533.3L382.2 535.6L373.3 528.9L364.4 526.7L355.6 525.6L346.7 524.4L337.8 523.3L328.9 522.2L320.0 521.1Z"/><path d="M360.0 553.3L366.7 547.8L370.0 553.3L367.8 564.4L362.2 565.6L359.6 560.0Z"/><path d="M395.6 584.4L404.4 578.9L412.2 577.8L411.1 588.9L408.9 600.0L393.3 600.0Z"/><path d="M389.3 601.1L403.3 600.0L404.4 611.1L400.0 615.6L392.2 613.3L388.9 606.7Z"/><path d="M633.3 697.8L640.0 692.2L645.6 695.6L646.7 706.7L643.3 715.6L635.6 713.3L632.9 706.7Z"/><path d="M445.6 697.8L448.9 697.8L448.9 704.4L445.6 704.4Z"/><path d="M810.0 766.7L814.4 760.0L821.1 753.3L830.0 752.2L838.9 748.9L846.9 747.8L846.9 800.0L808.9 800.0L807.8 788.9L810.0 777.8Z"/><path d="M392.2 961.7L400.0 952.8L406.7 941.7L411.1 937.2L415.6 932.8L416.7 941.7L413.3 950.6L411.1 959.4L402.2 963.9L395.6 966.1Z"/><path d="M550.0 893.9L555.6 890.6L561.1 891.7L564.4 898.3L571.1 905.0L577.8 912.8L584.4 921.7L593.3 930.6L597.8 939.4L601.1 948.3L603.3 952.8L598.9 950.6L593.3 946.1L584.4 947.2L575.6 941.7L566.7 937.2L557.8 933.9L551.1 928.3L545.6 919.4L541.1 910.6L542.2 906.1L548.9 903.9L552.2 899.4Z"/><path d="M440.0 939.4L448.9 936.1L454.4 939.4L451.1 946.1L444.4 949.4L440.0 949.4Z"/><path d="M821.1 795.0L846.9 795.0L846.9 806.1L841.1 807.2L834.4 806.1L827.8 801.7Z"/><path d="M846.9 892.8L841.1 895.0L836.7 901.7L835.6 912.8L830.0 921.7L823.3 928.3L817.8 935.0L818.9 946.1L825.6 959.4L834.4 968.3L843.3 972.8L846.9 975.0Z"/><path d="M53.8 207.8L114.4 207.8L112.2 222.2L106.7 233.3L105.6 240.0L106.2 247.8L100.0 255.6L92.2 261.1L89.3 268.9L89.3 306.7L90.7 315.6L97.8 324.4L106.7 333.3L115.6 340.0L118.9 343.3L113.3 345.6L102.2 338.9L93.3 332.9L80.0 324.4L68.9 318.2L60.0 312.2L53.8 307.1Z"/><path d="M55.1 331.1L61.1 331.6L63.3 336.7L58.9 338.2L55.1 335.6Z"/><path d="M393.3 210.0L398.9 208.4L397.3 216.7L394.4 218.9L392.9 214.4Z"/><path d="M95.0 480.0L100.0 478.3L105.8 481.7L110.0 490.0L113.3 498.3L116.7 506.7L119.2 513.3L115.0 515.0L110.8 510.0L106.7 503.3L101.7 495.0L96.7 488.3Z"/><path d="M111.7 528.3L117.5 526.7L120.8 533.3L123.3 540.0L129.2 546.7L130.8 555.0L127.5 560.0L131.7 566.7L132.5 573.3L138.3 578.3L143.3 585.0L145.0 590.0L93.3 590.0L95.0 583.3L101.7 580.0L108.3 576.7L110.0 570.0L108.3 563.3L109.2 555.0L106.7 548.3L110.0 540.0L112.5 535.0Z"/><path d="M147.5 461.7L152.5 463.3L156.7 468.3L160.0 473.3L161.7 481.7L159.2 488.3L156.7 495.0L160.0 501.7L163.3 505.8L156.7 506.7L150.8 501.7L148.3 493.3L147.5 483.3L148.3 473.3Z"/><path d="M175.8 532.5L180.8 533.3L184.2 540.0L181.7 546.7L177.5 548.3L176.7 540.0Z"/><path d="M170.0 573.3L176.7 568.3L183.3 565.0L188.3 560.0L196.7 556.7L201.7 561.7L206.7 563.3L209.2 570.0L206.7 578.3L210.0 585.0L209.2 590.0L163.3 590.0L163.3 581.7Z"/><path d="M85.6 603.3L91.1 598.9L102.2 596.7L106.7 588.9L111.1 577.8L108.9 568.9L113.3 563.3L128.9 562.2L133.3 568.9L132.2 576.7L137.8 584.4L144.4 593.3L151.1 595.6L161.1 591.1L164.4 582.2L171.1 573.3L177.8 566.7L184.4 560.0L208.9 560.0L207.8 568.9L206.7 580.0L204.4 588.9L195.6 593.3L186.7 596.7L182.2 604.4L177.8 612.2L171.1 615.6L160.0 614.4L153.3 615.6L148.9 622.2L144.4 633.3L143.3 644.4L138.9 653.3L137.8 666.7L133.3 675.6L127.8 676.7L125.6 668.9L128.9 657.8L130.0 648.9L124.4 644.4L120.0 636.7L114.4 628.9L106.7 625.6L97.8 622.2L87.8 616.7L84.4 610.0Z"/><path d="M53.0 633.3L60.0 636.7L68.3 635.0L75.8 630.8L79.2 633.3L75.0 640.0L71.7 645.0L71.7 655.0L75.0 661.7L78.3 666.7L83.3 670.0L88.3 665.0L90.0 656.7L95.0 648.3L100.0 642.5L103.3 645.0L104.2 653.3L101.7 663.3L98.3 673.3L93.3 678.3L98.3 681.7L103.3 686.7L101.7 691.7L104.2 700.0L101.7 706.7L96.7 711.7L95.0 718.3L93.3 726.7L93.3 741.7L88.3 745.0L81.7 748.3L76.7 753.3L71.7 755.0L65.0 753.3L60.0 756.7L58.3 760.0L53.0 760.0Z"/><path d="M120.0 721.7L125.0 719.2L130.0 720.8L128.3 725.0L122.5 725.8Z"/><path d="M142.5 710.8L147.5 708.3L150.0 711.7L146.7 715.0L143.3 714.2Z"/><path d="M58.9 740.0L93.3 740.0L92.2 746.7L84.4 750.0L77.8 753.3L71.1 756.7L65.6 760.0L61.1 753.3L58.9 746.7Z"/><path d="M304.4 484.4L310.0 486.7L311.1 495.6L307.8 506.7L302.2 517.8L293.3 528.9L284.4 535.6L275.6 538.9L271.1 535.6L277.8 531.1L286.7 524.4L293.3 515.6L297.8 504.4L300.0 493.3Z"/><path d="M265.6 542.2L270.0 540.0L273.3 551.1L275.6 564.4L273.3 573.3L270.0 568.9L265.6 555.6Z"/><path d="M313.3 515.6L324.4 508.9L337.8 503.3L348.9 497.8L355.6 501.1L364.4 504.4L373.3 506.7L377.8 513.3L382.2 522.2L386.7 533.3L382.2 535.6L373.3 528.9L364.4 526.7L355.6 525.6L346.7 524.4L337.8 523.3L328.9 522.2L320.0 521.1Z"/><path d="M360.0 553.3L366.7 547.8L370.0 553.3L367.8 564.4L362.2 565.6L359.6 560.0Z"/><path d="M395.6 584.4L404.4 578.9L412.2 577.8L411.1 588.9L408.9 600.0L393.3 600.0Z"/><path d="M389.3 601.1L403.3 600.0L404.4 611.1L400.0 615.6L392.2 613.3L388.9 606.7Z"/><path d="M633.3 697.8L640.0 692.2L645.6 695.6L646.7 706.7L643.3 715.6L635.6 713.3L632.9 706.7Z"/><path d="M445.6 697.8L448.9 697.8L448.9 704.4L445.6 704.4Z"/><path d="M810.0 766.7L814.4 760.0L821.1 753.3L830.0 752.2L838.9 748.9L846.9 747.8L846.9 800.0L808.9 800.0L807.8 788.9L810.0 777.8Z"/><path d="M392.2 961.7L400.0 952.8L406.7 941.7L411.1 937.2L415.6 932.8L416.7 941.7L413.3 950.6L411.1 959.4L402.2 963.9L395.6 966.1Z"/><path d="M550.0 893.9L555.6 890.6L561.1 891.7L564.4 898.3L571.1 905.0L577.8 912.8L584.4 921.7L593.3 930.6L597.8 939.4L601.1 948.3L603.3 952.8L598.9 950.6L593.3 946.1L584.4 947.2L575.6 941.7L566.7 937.2L557.8 933.9L551.1 928.3L545.6 919.4L541.1 910.6L542.2 906.1L548.9 903.9L552.2 899.4Z"/><path d="M440.0 939.4L448.9 936.1L454.4 939.4L451.1 946.1L444.4 949.4L440.0 949.4Z"/><path d="M821.1 795.0L846.9 795.0L846.9 806.1L841.1 807.2L834.4 806.1L827.8 801.7Z"/><path d="M846.9 892.8L841.1 895.0L836.7 901.7L835.6 912.8L830.0 921.7L823.3 928.3L817.8 935.0L818.9 946.1L825.6 959.4L834.4 968.3L843.3 972.8L846.9 975.0Z"/></g>
<g fill="#FFA00A" stroke="#FFA00A" stroke-width="0.8" stroke-linejoin="round"><path d="M53.0 675.8L60.0 677.5L66.7 681.3L70.8 686.3L68.7 690.3L61.7 688.0L53.0 685.3Z"/><path d="M818.9 765.6L827.8 763.3L836.7 767.8L843.3 776.7L838.9 778.9L832.2 774.4L825.6 776.7L823.3 784.4L827.8 791.1L836.7 800.0L827.8 800.0L821.1 793.3L817.1 784.4L816.7 774.4Z"/><path d="M53.0 675.8L60.0 677.5L66.7 681.3L70.8 686.3L68.7 690.3L61.7 688.0L53.0 685.3Z"/><path d="M818.9 765.6L827.8 763.3L836.7 767.8L843.3 776.7L838.9 778.9L832.2 774.4L825.6 776.7L823.3 784.4L827.8 791.1L836.7 800.0L827.8 800.0L821.1 793.3L817.1 784.4L816.7 774.4Z"/></g>
<g fill="#FF3200" stroke="#FF3200" stroke-width="0.8" stroke-linejoin="round"><path d="M102.0 595.3L105.3 589.3L108.7 586.0L109.7 590.0L108.0 596.7L104.7 601.3L102.7 599.3Z"/><path d="M102.0 595.3L105.3 589.3L108.7 586.0L109.7 590.0L108.0 596.7L104.7 601.3L102.7 599.3Z"/></g>
<path d="M52.8 894.5H846.8M52.8 796.2H846.8M52.8 698.0H846.8M52.8 599.8H846.8M52.8 501.5H846.8M52.8 403.3H846.8M52.8 305.0H846.8" stroke="#8c8c8c" stroke-width="1" stroke-dasharray="2.8 6.75" fill="none"/>
<path d="M132.2 992.7V206.8M211.6 992.7V206.8M291.0 992.7V206.8M370.4 992.7V206.8M449.8 992.7V206.8M529.2 992.7V206.8M608.6 992.7V206.8M688.0 992.7V206.8M767.4 992.7V206.8" stroke="#8c8c8c" stroke-width="1" stroke-dasharray="2.5 7.3" fill="none"/>
<g font-size="8.1" font-weight="bold" fill="#1E3CFF" stroke="#1E3CFF" stroke-width="0.25" text-anchor="middle"><text x="52.8" y="209.6">7</text><text x="84.6" y="209.6">7</text><text x="116.3" y="209.6">8</text><text x="148.1" y="209.6">8</text><text x="179.8" y="209.6">4</text><text x="211.6" y="209.6">4</text><text x="243.4" y="209.6">4</text><text x="275.1" y="209.6">8</text><text x="306.9" y="209.6">7</text><text x="338.6" y="209.6">5</text><text x="370.4" y="209.6">4</text><text x="402.2" y="209.6">9</text><text x="433.9" y="209.6">5</text><text x="465.7" y="209.6">3</text><text x="497.4" y="209.6">-4</text><text x="529.2" y="209.6">-7</text><text x="561.0" y="209.6">-8</text><text x="592.7" y="209.6">-10</text><text x="624.5" y="209.6">1</text><text x="656.2" y="209.6">-5</text><text x="688.0" y="209.6">5</text><text x="719.8" y="209.6">-3</text><text x="751.5" y="209.6">2</text><text x="783.3" y="209.6">-6</text><text x="815.0" y="209.6">-7</text><text x="846.8" y="209.6">-9</text><text x="52.8" y="248.9">7</text><text x="84.6" y="248.9">7</text><text x="116.3" y="248.9">7</text><text x="148.1" y="248.9">6</text><text x="179.8" y="248.9">5</text><text x="211.6" y="248.9">8</text><text x="243.4" y="248.9">8</text><text x="275.1" y="248.9">10</text><text x="306.9" y="248.9">9</text><text x="338.6" y="248.9">10</text><text x="370.4" y="248.9">9</text><text x="402.2" y="248.9">11</text><text x="433.9" y="248.9">4</text><text x="465.7" y="248.9">-1</text><text x="497.4" y="248.9">4</text><text x="529.2" y="248.9">-1</text><text x="561.0" y="248.9">5</text><text x="592.7" y="248.9">4</text><text x="624.5" y="248.9">4</text><text x="656.2" y="248.9">2</text><text x="688.0" y="248.9">2</text><text x="719.8" y="248.9">-1</text><text x="751.5" y="248.9">-1</text><text x="783.3" y="248.9">0</text><text x="815.0" y="248.9">-8</text><text x="846.8" y="248.9">-9</text><text x="52.8" y="288.2">12</text><text x="84.6" y="288.2">11</text><text x="116.3" y="288.2">9</text><text x="148.1" y="288.2">8</text><text x="179.8" y="288.2">8</text><text x="211.6" y="288.2">9</text><text x="243.4" y="288.2">10</text><text x="275.1" y="288.2">10</text><text x="306.9" y="288.2">13</text><text x="338.6" y="288.2">12</text><text x="370.4" y="288.2">9</text><text x="402.2" y="288.2">11</text><text x="433.9" y="288.2">7</text><text x="465.7" y="288.2">6</text><text x="497.4" y="288.2">5</text><text x="529.2" y="288.2">5</text><text x="561.0" y="288.2">5</text><text x="592.7" y="288.2">5</text><text x="624.5" y="288.2">2</text><text x="656.2" y="288.2">5</text><text x="688.0" y="288.2">3</text><text x="719.8" y="288.2">1</text><text x="751.5" y="288.2">-0</text><text x="783.3" y="288.2">-2</text><text x="815.0" y="288.2">1</text><text x="846.8" y="288.2">-1</text><text x="52.8" y="327.5">7</text><text x="84.6" y="327.5">12</text><text x="116.3" y="327.5">12</text><text x="148.1" y="327.5">9</text><text x="179.8" y="327.5">9</text><text x="211.6" y="327.5">10</text><text x="243.4" y="327.5">12</text><text x="275.1" y="327.5">11</text><text x="306.9" y="327.5">6</text><text x="338.6" y="327.5">5</text><text x="370.4" y="327.5">11</text><text x="402.2" y="327.5">6</text><text x="433.9" y="327.5">6</text><text x="465.7" y="327.5">6</text><text x="497.4" y="327.5">5</text><text x="529.2" y="327.5">5</text><text x="561.0" y="327.5">4</text><text x="592.7" y="327.5">7</text><text x="624.5" y="327.5">11</text><text x="656.2" y="327.5">9</text><text x="688.0" y="327.5">9</text><text x="719.8" y="327.5">7</text><text x="751.5" y="327.5">8</text><text x="783.3" y="327.5">6</text><text x="815.0" y="327.5">1</text><text x="846.8" y="327.5">5</text><text x="52.8" y="366.8">8</text><text x="84.6" y="366.8">12</text><text x="116.3" y="366.8">13</text><text x="148.1" y="366.8">10</text><text x="179.8" y="366.8">9</text><text x="211.6" y="366.8">10</text><text x="243.4" y="366.8">11</text><text x="275.1" y="366.8">11</text><text x="306.9" y="366.8">11</text><text x="338.6" y="366.8">5</text><text x="370.4" y="366.8">6</text><text x="402.2" y="366.8">17</text><text x="433.9" y="366.8">11</text><text x="465.7" y="366.8">9</text><text x="497.4" y="366.8">9</text><text x="529.2" y="366.8">16</text><text x="561.0" y="366.8">16</text><text x="592.7" y="366.8">15</text><text x="624.5" y="366.8">10</text><text x="656.2" y="366.8">13</text><text x="688.0" y="366.8">13</text><text x="719.8" y="366.8">11</text><text x="751.5" y="366.8">11</text><text x="783.3" y="366.8">10</text><text x="815.0" y="366.8">7</text><text x="846.8" y="366.8">8</text><text x="52.8" y="406.1">14</text><text x="84.6" y="406.1">14</text><text x="116.3" y="406.1">11</text><text x="148.1" y="406.1">13</text><text x="179.8" y="406.1">10</text><text x="211.6" y="406.1">11</text><text x="243.4" y="406.1">10</text><text x="275.1" y="406.1">12</text><text x="306.9" y="406.1">16</text><text x="338.6" y="406.1">12</text><text x="370.4" y="406.1">6</text><text x="402.2" y="406.1">9</text><text x="433.9" y="406.1">5</text><text x="465.7" y="406.1">15</text><text x="497.4" y="406.1">19</text><text x="529.2" y="406.1">17</text><text x="561.0" y="406.1">17</text><text x="592.7" y="406.1">16</text><text x="624.5" y="406.1">14</text><text x="656.2" y="406.1">14</text><text x="688.0" y="406.1">14</text><text x="719.8" y="406.1">13</text><text x="751.5" y="406.1">13</text><text x="783.3" y="406.1">12</text><text x="815.0" y="406.1">11</text><text x="846.8" y="406.1">10</text><text x="52.8" y="445.4">15</text><text x="84.6" y="445.4">13</text><text x="116.3" y="445.4">11</text><text x="148.1" y="445.4">10</text><text x="179.8" y="445.4">14</text><text x="211.6" y="445.4">14</text><text x="243.4" y="445.4">13</text><text x="275.1" y="445.4">14</text><text x="306.9" y="445.4">21</text><text x="338.6" y="445.4">19</text><text x="370.4" y="445.4">11</text><text x="402.2" y="445.4">8</text><text x="433.9" y="445.4">11</text><text x="465.7" y="445.4">17</text><text x="497.4" y="445.4">20</text><text x="529.2" y="445.4">20</text><text x="561.0" y="445.4">19</text><text x="592.7" y="445.4">19</text><text x="624.5" y="445.4">15</text><text x="656.2" y="445.4">17</text><text x="688.0" y="445.4">11</text><text x="719.8" y="445.4">15</text><text x="751.5" y="445.4">16</text><text x="783.3" y="445.4">16</text><text x="815.0" y="445.4">15</text><text x="846.8" y="445.4">14</text><text x="52.8" y="484.7">15</text><text x="84.6" y="484.7">13</text><text x="116.3" y="484.7">14</text><text x="148.1" y="484.7">12</text><text x="179.8" y="484.7">12</text><text x="211.6" y="484.7">14</text><text x="243.4" y="484.7">16</text><text x="275.1" y="484.7">16</text><text x="306.9" y="484.7">21</text><text x="338.6" y="484.7">21</text><text x="370.4" y="484.7">20</text><text x="402.2" y="484.7">15</text><text x="433.9" y="484.7">10</text><text x="465.7" y="484.7">13</text><text x="497.4" y="484.7">15</text><text x="529.2" y="484.7">20</text><text x="561.0" y="484.7">19</text><text x="592.7" y="484.7">19</text><text x="624.5" y="484.7">19</text><text x="656.2" y="484.7">13</text><text x="688.0" y="484.7">14</text><text x="719.8" y="484.7">15</text><text x="751.5" y="484.7">14</text><text x="783.3" y="484.7">13</text><text x="815.0" y="484.7">17</text><text x="846.8" y="484.7">16</text><text x="52.8" y="524.0">14</text><text x="84.6" y="524.0">15</text><text x="116.3" y="524.0">14</text><text x="148.1" y="524.0">12</text><text x="179.8" y="524.0">13</text><text x="211.6" y="524.0">14</text><text x="243.4" y="524.0">14</text><text x="275.1" y="524.0">20</text><text x="306.9" y="524.0">21</text><text x="338.6" y="524.0">23</text><text x="370.4" y="524.0">22</text><text x="402.2" y="524.0">21</text><text x="433.9" y="524.0">20</text><text x="465.7" y="524.0">14</text><text x="497.4" y="524.0">11</text><text x="529.2" y="524.0">18</text><text x="561.0" y="524.0">20</text><text x="592.7" y="524.0">21</text><text x="624.5" y="524.0">21</text><text x="656.2" y="524.0">17</text><text x="688.0" y="524.0">13</text><text x="719.8" y="524.0">10</text><text x="751.5" y="524.0">17</text><text x="783.3" y="524.0">14</text><text x="815.0" y="524.0">13</text><text x="846.8" y="524.0">12</text><text x="52.8" y="563.3">21</text><text x="84.6" y="563.3">20</text><text x="116.3" y="563.3">16</text><text x="148.1" y="563.3">15</text><text x="179.8" y="563.3">12</text><text x="211.6" y="563.3">13</text><text x="243.4" y="563.3">17</text><text x="275.1" y="563.3">20</text><text x="306.9" y="563.3">20</text><text x="338.6" y="563.3">22</text><text x="370.4" y="563.3">20</text><text x="402.2" y="563.3">21</text><text x="433.9" y="563.3">22</text><text x="465.7" y="563.3">20</text><text x="497.4" y="563.3">20</text><text x="529.2" y="563.3">20</text><text x="561.0" y="563.3">17</text><text x="592.7" y="563.3">19</text><text x="624.5" y="563.3">15</text><text x="656.2" y="563.3">19</text><text x="688.0" y="563.3">25</text><text x="719.8" y="563.3">17</text><text x="751.5" y="563.3">14</text><text x="783.3" y="563.3">16</text><text x="815.0" y="563.3">14</text><text x="846.8" y="563.3">13</text><text x="52.8" y="602.5">20</text><text x="84.6" y="602.5">19</text><text x="116.3" y="602.5">16</text><text x="148.1" y="602.5">17</text><text x="179.8" y="602.5">16</text><text x="211.6" y="602.5">20</text><text x="243.4" y="602.5">13</text><text x="275.1" y="602.5">20</text><text x="306.9" y="602.5">21</text><text x="338.6" y="602.5">22</text><text x="370.4" y="602.5">20</text><text x="402.2" y="602.5">21</text><text x="433.9" y="602.5">21</text><text x="465.7" y="602.5">21</text><text x="497.4" y="602.5">21</text><text x="529.2" y="602.5">19</text><text x="561.0" y="602.5">20</text><text x="592.7" y="602.5">22</text><text x="624.5" y="602.5">21</text><text x="656.2" y="602.5">21</text><text x="688.0" y="602.5">19</text><text x="719.8" y="602.5">19</text><text x="751.5" y="602.5">11</text><text x="783.3" y="602.5">15</text><text x="815.0" y="602.5">15</text><text x="846.8" y="602.5">14</text><text x="52.8" y="641.8">19</text><text x="84.6" y="641.8">18</text><text x="116.3" y="641.8">18</text><text x="148.1" y="641.8">19</text><text x="179.8" y="641.8">18</text><text x="211.6" y="641.8">18</text><text x="243.4" y="641.8">17</text><text x="275.1" y="641.8">17</text><text x="306.9" y="641.8">20</text><text x="338.6" y="641.8">23</text><text x="370.4" y="641.8">23</text><text x="402.2" y="641.8">20</text><text x="433.9" y="641.8">21</text><text x="465.7" y="641.8">18</text><text x="497.4" y="641.8">14</text><text x="529.2" y="641.8">17</text><text x="561.0" y="641.8">21</text><text x="592.7" y="641.8">22</text><text x="624.5" y="641.8">22</text><text x="656.2" y="641.8">11</text><text x="688.0" y="641.8">22</text><text x="719.8" y="641.8">17</text><text x="751.5" y="641.8">12</text><text x="783.3" y="641.8">18</text><text x="815.0" y="641.8">18</text><text x="846.8" y="641.8">17</text><text x="52.8" y="681.1">17</text><text x="84.6" y="681.1">18</text><text x="116.3" y="681.1">20</text><text x="148.1" y="681.1">19</text><text x="179.8" y="681.1">19</text><text x="211.6" y="681.1">17</text><text x="243.4" y="681.1">17</text><text x="275.1" y="681.1">18</text><text x="306.9" y="681.1">22</text><text x="338.6" y="681.1">23</text><text x="370.4" y="681.1">25</text><text x="402.2" y="681.1">25</text><text x="433.9" y="681.1">23</text><text x="465.7" y="681.1">21</text><text x="497.4" y="681.1">21</text><text x="529.2" y="681.1">19</text><text x="561.0" y="681.1">21</text><text x="592.7" y="681.1">22</text><text x="624.5" y="681.1">22</text><text x="656.2" y="681.1">23</text><text x="688.0" y="681.1">23</text><text x="719.8" y="681.1">17</text><text x="751.5" y="681.1">13</text><text x="783.3" y="681.1">21</text><text x="815.0" y="681.1">18</text><text x="846.8" y="681.1">18</text><text x="52.8" y="720.4">19</text><text x="84.6" y="720.4">20</text><text x="116.3" y="720.4">20</text><text x="148.1" y="720.4">21</text><text x="179.8" y="720.4">20</text><text x="211.6" y="720.4">19</text><text x="243.4" y="720.4">18</text><text x="275.1" y="720.4">19</text><text x="306.9" y="720.4">20</text><text x="338.6" y="720.4">23</text><text x="370.4" y="720.4">24</text><text x="402.2" y="720.4">24</text><text x="433.9" y="720.4">21</text><text x="465.7" y="720.4">19</text><text x="497.4" y="720.4">18</text><text x="529.2" y="720.4">20</text><text x="561.0" y="720.4">21</text><text x="592.7" y="720.4">22</text><text x="624.5" y="720.4">22</text><text x="656.2" y="720.4">23</text><text x="688.0" y="720.4">24</text><text x="719.8" y="720.4">19</text><text x="751.5" y="720.4">19</text><text x="783.3" y="720.4">22</text><text x="815.0" y="720.4">22</text><text x="846.8" y="720.4">21</text><text x="52.8" y="759.7">15</text><text x="84.6" y="759.7">21</text><text x="116.3" y="759.7">22</text><text x="148.1" y="759.7">22</text><text x="179.8" y="759.7">19</text><text x="211.6" y="759.7">18</text><text x="243.4" y="759.7">18</text><text x="275.1" y="759.7">20</text><text x="306.9" y="759.7">20</text><text x="338.6" y="759.7">22</text><text x="370.4" y="759.7">23</text><text x="402.2" y="759.7">22</text><text x="433.9" y="759.7">20</text><text x="465.7" y="759.7">19</text><text x="497.4" y="759.7">19</text><text x="529.2" y="759.7">19</text><text x="561.0" y="759.7">22</text><text x="592.7" y="759.7">22</text><text x="624.5" y="759.7">19</text><text x="656.2" y="759.7">20</text><text x="688.0" y="759.7">25</text><text x="719.8" y="759.7">26</text><text x="751.5" y="759.7">26</text><text x="783.3" y="759.7">25</text><text x="815.0" y="759.7">28</text><text x="846.8" y="759.7">27</text><text x="52.8" y="799.0">22</text><text x="84.6" y="799.0">20</text><text x="116.3" y="799.0">21</text><text x="148.1" y="799.0">19</text><text x="179.8" y="799.0">19</text><text x="211.6" y="799.0">19</text><text x="243.4" y="799.0">19</text><text x="275.1" y="799.0">21</text><text x="306.9" y="799.0">21</text><text x="338.6" y="799.0">22</text><text x="370.4" y="799.0">21</text><text x="402.2" y="799.0">21</text><text x="433.9" y="799.0">20</text><text x="465.7" y="799.0">20</text><text x="497.4" y="799.0">20</text><text x="529.2" y="799.0">19</text><text x="561.0" y="799.0">19</text><text x="592.7" y="799.0">19</text><text x="624.5" y="799.0">20</text><text x="656.2" y="799.0">21</text><text x="688.0" y="799.0">25</text><text x="719.8" y="799.0">23</text><text x="751.5" y="799.0">24</text><text x="783.3" y="799.0">25</text><text x="815.0" y="799.0">23</text><text x="846.8" y="799.0">22</text><text x="52.8" y="838.3">19</text><text x="84.6" y="838.3">18</text><text x="116.3" y="838.3">18</text><text x="148.1" y="838.3">18</text><text x="179.8" y="838.3">19</text><text x="211.6" y="838.3">19</text><text x="243.4" y="838.3">20</text><text x="275.1" y="838.3">21</text><text x="306.9" y="838.3">22</text><text x="338.6" y="838.3">22</text><text x="370.4" y="838.3">22</text><text x="402.2" y="838.3">20</text><text x="433.9" y="838.3">18</text><text x="465.7" y="838.3">20</text><text x="497.4" y="838.3">20</text><text x="529.2" y="838.3">20</text><text x="561.0" y="838.3">20</text><text x="592.7" y="838.3">20</text><text x="624.5" y="838.3">21</text><text x="656.2" y="838.3">22</text><text x="688.0" y="838.3">22</text><text x="719.8" y="838.3">24</text><text x="751.5" y="838.3">22</text><text x="783.3" y="838.3">23</text><text x="815.0" y="838.3">24</text><text x="846.8" y="838.3">23</text><text x="52.8" y="877.6">18</text><text x="84.6" y="877.6">20</text><text x="116.3" y="877.6">19</text><text x="148.1" y="877.6">20</text><text x="179.8" y="877.6">20</text><text x="211.6" y="877.6">20</text><text x="243.4" y="877.6">21</text><text x="275.1" y="877.6">21</text><text x="306.9" y="877.6">21</text><text x="338.6" y="877.6">22</text><text x="370.4" y="877.6">22</text><text x="402.2" y="877.6">19</text><text x="433.9" y="877.6">19</text><text x="465.7" y="877.6">20</text><text x="497.4" y="877.6">21</text><text x="529.2" y="877.6">21</text><text x="561.0" y="877.6">21</text><text x="592.7" y="877.6">21</text><text x="624.5" y="877.6">21</text><text x="656.2" y="877.6">22</text><text x="688.0" y="877.6">22</text><text x="719.8" y="877.6">23</text><text x="751.5" y="877.6">23</text><text x="783.3" y="877.6">22</text><text x="815.0" y="877.6">24</text><text x="846.8" y="877.6">23</text><text x="52.8" y="916.9">19</text><text x="84.6" y="916.9">19</text><text x="116.3" y="916.9">20</text><text x="148.1" y="916.9">22</text><text x="179.8" y="916.9">21</text><text x="211.6" y="916.9">21</text><text x="243.4" y="916.9">21</text><text x="275.1" y="916.9">21</text><text x="306.9" y="916.9">22</text><text x="338.6" y="916.9">22</text><text x="370.4" y="916.9">22</text><text x="402.2" y="916.9">21</text><text x="433.9" y="916.9">21</text><text x="465.7" y="916.9">21</text><text x="497.4" y="916.9">21</text><text x="529.2" y="916.9">22</text><text x="561.0" y="916.9">22</text><text x="592.7" y="916.9">22</text><text x="624.5" y="916.9">22</text><text x="656.2" y="916.9">23</text><text x="688.0" y="916.9">23</text><text x="719.8" y="916.9">23</text><text x="751.5" y="916.9">22</text><text x="783.3" y="916.9">22</text><text x="815.0" y="916.9">22</text><text x="846.8" y="916.9">22</text><text x="52.8" y="956.2">20</text><text x="84.6" y="956.2">20</text><text x="116.3" y="956.2">21</text><text x="148.1" y="956.2">22</text><text x="179.8" y="956.2">22</text><text x="211.6" y="956.2">22</text><text x="243.4" y="956.2">22</text><text x="275.1" y="956.2">22</text><text x="306.9" y="956.2">22</text><text x="338.6" y="956.2">22</text><text x="370.4" y="956.2">22</text><text x="402.2" y="956.2">21</text><text x="433.9" y="956.2">21</text><text x="465.7" y="956.2">19</text><text x="497.4" y="956.2">22</text><text x="529.2" y="956.2">23</text><text x="561.0" y="956.2">23</text><text x="592.7" y="956.2">22</text><text x="624.5" y="956.2">23</text><text x="656.2" y="956.2">23</text><text x="688.0" y="956.2">23</text><text x="719.8" y="956.2">23</text><text x="751.5" y="956.2">22</text><text x="783.3" y="956.2">22</text><text x="815.0" y="956.2">22</text><text x="846.8" y="956.2">22</text><text x="52.8" y="995.5">22</text><text x="84.6" y="995.5">21</text><text x="116.3" y="995.5">22</text><text x="148.1" y="995.5">22</text><text x="179.8" y="995.5">22</text><text x="211.6" y="995.5">22</text><text x="243.4" y="995.5">22</text><text x="275.1" y="995.5">22</text><text x="306.9" y="995.5">23</text><text x="338.6" y="995.5">22</text><text x="370.4" y="995.5">22</text><text x="402.2" y="995.5">22</text><text x="433.9" y="995.5">22</text><text x="465.7" y="995.5">22</text><text x="497.4" y="995.5">23</text><text x="529.2" y="995.5">23</text><text x="561.0" y="995.5">23</text><text x="592.7" y="995.5">23</text><text x="624.5" y="995.5">23</text><text x="656.2" y="995.5">23</text><text x="688.0" y="995.5">23</text><text x="719.8" y="995.5">23</text><text x="751.5" y="995.5">22</text><text x="783.3" y="995.5">24</text><text x="815.0" y="995.5">22</text><text x="846.8" y="995.5">22</text></g>
<path d="M53.8 345.6L62.2 343.3L73.3 340.0L80.0 338.9L87.8 340.0L91.1 344.4L100.0 347.8L106.7 351.1L115.6 352.2L123.3 355.6L128.9 361.1L134.4 364.4L137.8 370.7L150.0 371.1L151.1 377.8L150.0 384.4L152.2 391.1L160.0 394.4L168.9 398.4L173.3 397.8L182.2 393.3L182.2 388.9L193.3 384.4L200.0 381.1L205.6 375.6L208.9 362.2L215.6 358.9L222.2 355.6L224.4 353.3L228.9 356.7L240.0 357.8M104.4 207.8L105.6 215.6L106.7 224.4L106.7 233.3L113.3 232.9L117.8 228.4L123.3 230.0L128.9 233.3L130.0 237.3L137.8 235.6L144.4 233.3L148.9 233.3L147.8 224.4L151.1 218.9L155.6 213.3L160.0 208.9M106.2 236.7L108.9 235.6L110.7 238.2L108.4 240.4L106.2 238.9ZM258.2 281.1L262.2 281.8L266.7 284.0L264.4 285.6L260.0 284.4L258.2 282.2ZM288.4 299.6L293.3 297.8L297.3 298.2L294.4 300.4L290.0 301.8ZM404.9 228.9L411.1 228.2L417.8 228.4L416.7 231.1L410.0 231.6L405.6 230.7ZM389.3 258.2L393.3 255.6L402.2 253.3L411.1 252.9L422.7 251.6L423.3 254.4L417.8 256.7L415.6 260.0L406.7 262.9L398.9 262.2L392.2 260.4ZM343.3 324.9L345.1 323.1L346.9 324.9L345.1 326.7ZM240.0 358.2L246.7 358.9L253.3 360.4L257.8 363.3L261.1 365.6L265.6 362.2L270.0 359.6L273.3 357.8L275.6 358.9L278.9 360.4L281.1 356.7L283.3 353.3L291.1 352.9L293.3 346.7L296.7 340.0L301.1 336.7L306.7 335.6L311.1 338.9L312.2 344.4L315.6 346.7L315.1 355.6L315.6 364.4L317.8 370.0L322.2 370.0L328.9 366.7L334.4 362.2L341.1 358.9L346.7 357.8L351.1 355.6L353.3 358.9L361.1 357.8L364.4 358.9L368.9 358.9L372.2 356.7L370.0 351.1L368.9 344.4L368.4 335.6L364.4 331.1L357.8 331.1L352.2 332.2L350.0 327.8L348.9 321.1L350.0 315.6L353.3 311.1L353.3 306.7L356.7 302.7L364.4 298.9L368.9 295.6L375.6 294.4L380.0 293.3L381.1 297.8L386.7 297.8L393.3 294.4L398.9 287.8L405.6 286.7L411.1 284.4L417.8 284.0L424.4 278.9L431.1 274.4L440.0 270.0M440.0 270.7L448.9 266.7L454.4 264.4L453.3 255.6L454.4 250.0L457.8 246.7L463.3 243.3L461.1 235.6L458.2 226.7L456.0 217.8L456.7 211.1L451.1 210.0L447.8 208.4L446.7 206.9M556.7 269.3L560.0 264.0L566.2 264.9L567.8 268.9L561.1 268.4ZM662.2 206.9L671.1 212.2L678.9 216.7L685.6 220.0L688.9 221.8L694.4 221.8L695.6 226.7L697.8 227.8L702.2 240.0L710.0 251.6L725.6 253.3L727.8 252.7L738.9 254.4L754.4 255.6L761.1 254.4L767.8 253.3L783.3 255.6L796.7 257.3L801.1 262.2L816.7 266.2L827.8 270.0L838.9 268.9L840.0 273.3L846.9 275.6M761.8 365.6L763.8 361.1L770.0 360.0L774.0 363.3L777.8 367.8L779.6 372.2L774.4 372.9L768.9 370.7L764.4 368.9ZM151.1 403.3L148.9 408.9L143.3 414.4L141.1 422.2L142.2 433.3L144.4 444.4L145.6 457.8L145.6 471.1L151.1 474.4L161.1 475.6L161.8 482.2L158.9 488.9L153.3 496.7L147.8 504.0M147.8 504.0L160.0 507.8L173.3 511.1L186.7 512.2L197.8 513.3L202.2 510.7L213.3 509.3L222.2 507.8L232.2 504.0L232.9 493.3L234.4 482.2L240.0 477.8M147.8 504.0L153.3 511.1L158.9 521.1L165.6 528.9L173.3 535.6L176.7 544.4L177.8 555.6L184.4 556.7L185.6 561.1L182.2 565.6L173.3 567.8L164.4 572.2L161.1 580.0L158.9 588.9L160.0 593.3M84.4 560.0L85.6 568.9L87.8 580.0L93.3 584.4L102.2 587.1L113.3 587.8L126.7 590.0L135.6 592.9L144.4 593.3L155.6 594.4L164.4 595.6L173.3 594.4L184.4 593.3L195.6 592.2L206.7 594.4L217.8 593.3L228.9 591.1L233.3 588.9L236.7 592.2L240.0 595.6M52.9 565.6L57.8 563.3L64.4 558.9L73.3 556.7L81.1 558.2L85.6 563.3L87.1 573.3L87.8 582.2M56.7 567.8L62.2 565.6L68.9 563.3L74.4 564.0L66.7 566.7L60.0 568.9ZM68.9 575.6L73.3 573.3L75.6 575.6L73.3 584.4L71.1 591.1L68.9 595.6L70.0 587.8L68.4 581.1ZM70.0 575.6L73.3 573.3L76.7 576.7L75.6 584.4L74.4 595.6L76.7 604.4L81.1 611.1L87.8 617.8L97.8 623.3L106.7 626.7L114.4 628.9L120.0 637.8L125.6 645.6L130.0 648.9L128.9 657.8L125.6 666.7L120.0 673.3L114.4 681.1L111.1 688.9L110.0 693.3L106.7 688.9L103.3 686.7L102.2 693.3L98.2 700.0L95.6 708.9L94.4 716.7L87.8 718.9L81.1 723.3L78.9 731.1L76.7 737.8L64.4 739.6L58.9 741.1L55.6 746.7L53.8 753.3L52.9 760.0M70.0 575.6L71.1 582.2L73.3 588.9L75.6 584.4M111.1 693.3L113.3 685.6L115.1 688.9L112.9 694.4ZM52.9 762.2L54.4 755.6L56.7 750.0L60.0 744.4L62.2 740.0M317.8 400.0L314.4 406.7L306.7 412.2L297.8 416.7L291.1 422.2L292.2 428.9L295.6 433.3L291.1 437.8L284.4 440.0L281.1 446.7L281.1 455.6L275.6 462.2L266.7 466.7L258.9 470.0L253.3 472.2L254.4 475.6L248.9 476.7L240.0 477.8M364.4 480.0L360.0 486.7L353.3 495.6L346.7 502.2L343.3 511.1L337.8 520.0L331.1 523.3L325.6 528.9L322.2 533.3L313.3 537.8L304.4 544.4L295.6 542.2L287.8 548.9L284.4 555.6L284.4 564.4L287.8 571.1L292.2 577.8L293.3 588.9L300.0 593.3L304.4 600.0M400.0 484.4L395.6 493.3L391.1 500.0L382.2 504.4L373.3 508.9L371.1 515.6L377.8 524.4L384.4 533.3L391.1 542.2L400.0 537.8L404.4 544.4L408.9 555.6L417.8 563.3L426.7 562.2L433.3 568.9L435.6 580.0L433.3 588.9L426.7 591.1L424.4 600.0M415.6 482.2L413.3 497.8L417.8 508.9L426.7 515.6L433.3 521.1L440.0 524.4M404.4 504.4L405.6 517.8L408.9 531.1L411.1 542.2L412.2 555.6L417.8 563.3M408.9 563.3L400.0 573.3L394.4 584.4L400.0 593.3L411.1 600.0M440.0 478.9L446.7 482.2L453.3 485.6L460.0 491.1L466.7 497.8L473.3 493.3L480.0 497.8L487.8 503.3L495.6 508.9L504.4 515.6L511.1 515.6L516.7 524.4L524.4 528.9L533.3 533.3L542.2 537.8L548.9 542.2L557.8 540.0L566.7 542.2L575.6 543.3L584.4 540.0L590.0 538.9M451.1 520.0L457.8 524.4L466.7 531.1L475.6 537.8L484.4 544.4L493.3 548.9L504.4 553.3L513.3 551.1L522.2 555.6L528.9 562.2L537.8 565.6L546.7 567.8L555.6 571.1L564.4 572.2L573.3 570.0L578.9 571.1L580.0 555.6L578.9 544.4M466.7 497.8L455.6 506.7L451.1 520.0L440.0 522.2M440.0 437.8L442.7 441.1L443.3 447.8L441.1 451.1M578.9 544.4L586.7 540.0L591.1 551.1L593.3 542.2L600.0 536.7L608.9 534.4L617.8 538.9L628.9 538.9L635.6 544.4L640.0 545.6L650.0 540.0M593.3 564.4L604.4 565.6L617.8 564.4L631.1 564.4L640.0 561.1L650.0 561.1M513.3 551.1L515.6 560.0L513.3 568.9L517.8 575.6L522.2 582.2L515.6 586.7L508.9 591.1L504.4 600.0M578.9 571.1L576.7 577.8L573.3 584.4L575.6 593.3L571.1 600.0M582.2 568.9L591.1 573.3L600.0 577.8L604.4 586.7L613.3 580.0L624.4 577.8L640.0 575.6M640.0 575.0L636.7 583.3L650.0 585.0L651.7 595.0L640.0 600.0L633.3 593.3L620.0 596.7L610.0 593.3L606.7 581.7M591.1 551.1L593.3 564.4L586.7 568.9L582.2 568.9M494.4 470.7L498.9 469.3L503.3 472.2L498.9 473.3ZM467.8 487.1L472.2 485.6L475.6 488.4L471.1 490.7ZM534.4 481.8L538.9 480.4L543.3 483.3L542.7 486.7L537.8 485.6ZM551.1 484.4L554.4 475.6L556.7 474.4L557.3 477.3L554.4 486.7ZM585.6 465.6L593.3 463.3L598.2 466.7L595.6 471.1L588.9 469.3ZM613.3 486.2L622.2 483.3L625.6 486.7L617.8 491.1L613.8 490.0ZM630.0 461.8L633.3 458.9L633.8 465.6ZM615.6 519.6L621.1 517.8L622.2 524.4L617.8 525.6ZM650.0 540.0L654.4 533.3L658.9 528.9L670.0 525.6L678.9 520.0L683.3 515.6L687.8 517.8L696.7 515.6L704.4 512.9L710.0 516.7L707.8 522.2L713.3 527.8L710.0 532.2L716.7 534.4L723.3 535.6L727.8 531.1L734.4 533.3L738.9 542.2L741.1 548.9L746.7 551.1L747.8 562.2L746.7 575.6L744.4 584.4L738.9 591.1L734.4 595.6L732.2 600.0M650.0 561.1L658.9 561.1L667.8 555.6L676.7 550.0L685.6 546.7L694.4 544.4L702.2 545.6L703.3 553.3L696.7 555.6L690.0 560.0L683.3 565.6L676.7 571.1L672.2 577.8L667.8 584.4L663.3 591.1L658.9 600.0M703.3 553.3L710.0 553.3L716.7 553.3L721.1 544.4L725.6 537.8M690.0 563.3L698.9 557.8L707.8 554.4M690.0 563.3L688.9 575.6L690.0 586.7L685.6 593.3L683.3 600.0M672.2 577.8L681.1 575.6L687.8 577.8M728.9 406.7L731.1 402.2L734.0 406.7ZM240.0 603.3L246.7 613.3L253.3 620.0L262.2 624.4L264.4 631.1L271.1 636.7L280.0 641.1L291.1 640.0L295.6 636.7L301.1 634.4L298.9 640.0L293.3 644.4L284.4 650.0L276.7 651.1L275.1 654.4L277.8 662.2L284.4 671.1L293.3 678.9L302.2 683.3L311.1 681.1L320.0 675.6L325.6 668.9L328.9 662.2L325.6 658.9L328.9 653.3L335.6 653.3L333.3 660.0L331.1 666.7L335.6 675.6L336.7 684.4L334.4 693.3L333.3 702.2L335.6 711.1L337.8 720.0L340.0 733.3L342.2 746.7L345.6 764.4L348.9 777.8L352.2 788.9L355.6 800.0M262.2 624.4L268.9 617.8L273.3 613.3L284.4 614.4L295.6 611.1L304.4 608.9L308.9 605.6L317.8 606.7L328.9 607.8L335.6 610.0L340.0 616.7L344.4 622.2L348.9 627.8L355.6 631.1L361.1 635.6L366.7 626.7L368.9 617.8L367.8 608.9L368.9 600.0M361.1 635.6L360.0 644.4L355.6 651.1L357.8 660.0L351.1 666.7L352.2 675.6L348.9 682.2L344.4 686.7L340.0 691.1L337.8 695.6L334.4 693.3M357.8 660.0L364.4 665.6L375.6 668.9L386.7 671.1L391.1 675.6L395.6 671.1L402.2 666.7L415.6 666.7L428.9 666.7L440.0 664.4M355.6 800.0L357.8 788.9L358.9 777.8L360.0 766.7L366.7 762.2L375.6 757.8L381.1 755.6L381.1 748.9L393.3 747.8L397.8 740.0L404.4 735.6L411.1 728.9L415.6 715.6L417.8 706.7L424.4 701.1L433.3 702.2L440.0 706.7M411.1 728.9L412.2 746.7L408.9 764.4L406.7 777.8L404.4 788.9L402.2 800.0M406.7 777.8L417.8 775.6L428.9 771.1L440.0 764.4M373.3 600.0L377.8 608.9L380.0 622.2L386.7 613.3L395.6 612.2L404.4 606.7L405.6 600.0M422.2 600.0L424.4 611.1L431.1 613.3L433.3 604.4L440.0 602.2M451.1 800.0L453.3 788.9L462.2 780.0L471.1 775.6L484.4 764.4L487.8 755.6L497.8 748.9L506.7 742.2L515.6 731.1L524.4 720.0L531.1 708.9L537.8 702.2L546.7 695.6L555.6 686.7L560.0 675.6L564.4 668.9L573.3 665.6L577.8 664.4M595.6 657.8L604.4 651.1L613.3 644.4L622.2 640.0L628.9 644.4L635.6 651.1L640.0 657.8L646.7 666.7L650.0 685.6M440.0 765.6L448.9 760.0L460.0 755.6L465.6 751.1L466.7 742.2L475.6 737.8L484.4 733.3L493.3 728.9L500.0 724.4L506.7 715.6L513.3 720.0L522.2 715.6L531.1 708.9M457.8 681.1L460.0 666.7L462.2 655.6L468.9 646.7L475.6 642.2L478.9 637.8L475.6 626.7L476.7 621.1L484.4 621.1L493.3 620.0L497.8 613.3L504.4 608.9L504.4 600.0M440.0 676.7L448.9 678.9L457.8 681.1L455.6 693.3L457.8 706.7L455.6 717.8L462.2 724.4L465.6 742.2M504.4 617.8L508.9 626.7L515.6 635.6L517.8 644.4L511.1 651.1L504.4 657.8L497.8 666.7L488.9 673.3L486.7 684.4L487.8 695.6L481.1 697.8L482.2 706.7L480.0 715.6L475.6 726.7L473.3 737.8M504.4 608.9L513.3 606.7L524.4 611.1L533.3 608.9L542.2 606.7L551.1 613.3L560.0 611.1L571.1 608.9L573.3 600.0M517.8 644.4L526.7 646.7L533.3 655.6L540.0 653.3L546.7 648.9L553.3 653.3L560.0 660.0L564.4 668.9M542.2 633.3L551.1 642.2L557.8 651.1L560.0 660.0M542.2 633.3L551.1 628.9L560.0 622.2L568.9 615.6L575.6 606.7L577.8 600.0M577.8 600.0L582.2 611.1L586.7 622.2L591.1 631.1L593.3 640.0L600.0 626.7L608.9 622.2L617.8 628.9L624.4 633.3L628.9 622.2L635.6 615.6L640.0 613.3L650.0 613.3M593.3 640.0L592.2 648.9L588.9 655.6M727.8 600.0L730.0 608.9L728.9 621.1L738.9 616.7L747.8 617.8L748.9 628.9L752.2 636.7L758.9 637.8L754.4 651.1L761.1 657.8L767.8 660.0L768.9 666.7L776.7 668.9L785.6 664.4L783.3 673.3L774.4 680.0L770.0 688.9L774.4 695.6L775.6 704.4L785.6 706.7L787.8 715.6L785.6 726.7L783.3 737.8L785.6 746.7L792.2 742.2L796.7 733.3L805.6 735.6L812.2 737.8L818.9 731.1L827.8 728.9L834.4 735.6L841.1 744.4L846.9 751.1M785.6 664.4L792.2 653.3L796.7 648.9L805.6 651.1L810.0 644.4L818.9 646.7L827.8 643.3L836.7 641.1L846.9 635.6M805.6 651.1L812.2 662.2L814.4 673.3L821.1 682.2L830.0 683.3L838.9 688.9L845.6 693.3L841.1 700.0L832.2 706.7L836.7 713.3L846.9 720.0M770.0 688.9L761.1 691.1L752.2 697.8L743.3 701.1L735.6 704.4L732.2 715.6L726.7 726.7L732.2 737.8L736.7 748.9L743.3 760.0L747.8 771.1L745.6 777.8L747.8 784.4L738.9 791.1L741.1 800.0M650.0 685.6L656.7 695.6L663.3 704.4L670.0 708.9L673.3 715.6L676.7 728.9L681.1 742.2L684.4 755.6L678.9 766.7L675.6 775.6L681.1 780.0L690.0 777.8L696.7 775.6L703.3 771.1L710.0 764.4L716.7 760.0L718.9 748.9L723.3 757.8L726.7 766.7L730.0 777.8L732.2 788.9L733.3 800.0M663.3 704.4L670.0 711.1L672.2 720.0L667.8 722.2L664.4 715.6ZM650.0 613.3L658.9 615.6L663.3 622.2L661.1 633.3L660.0 644.4L656.7 651.1L654.4 657.8L650.0 660.0L640.0 658.2M663.3 622.2L674.4 622.2L678.9 613.3L683.3 600.0M656.7 600.0L658.9 608.9L658.9 615.6M355.6 795.0L360.0 803.9L363.3 815.0L366.7 828.3L370.0 839.4L373.3 848.3L377.8 859.4L382.2 870.6L386.7 883.9L391.1 895.0L393.3 903.9L395.6 910.6L400.0 919.4L405.6 926.1L410.0 931.7L414.4 928.3L417.8 921.7L420.0 915.0L424.4 910.6L433.3 908.3L440.0 907.2M370.0 839.4L375.6 846.1L382.2 852.8L388.9 859.4L393.3 866.1L397.8 872.8L400.0 883.9L405.6 890.6L406.7 901.7L408.9 910.6L407.8 919.4L410.0 931.7M393.3 866.1L400.0 861.7L408.9 859.4L415.6 857.2L413.3 850.6L412.2 841.7L415.6 835.0L422.2 836.1L428.9 832.8L435.6 830.6L440.0 828.3M400.0 795.0L398.9 803.9L404.4 810.6L403.3 817.2L408.9 819.4L415.6 821.7L422.2 823.9L424.4 830.6L428.9 832.8M440.0 888.3L436.7 895.0L435.6 903.9L440.0 906.1M451.1 795.0L453.3 803.9L453.8 815.0L452.2 823.9L448.9 828.3L440.0 830.6M452.2 823.9L450.0 839.4L447.8 852.8L446.7 861.7L447.8 872.8L448.4 886.1L440.0 887.2M447.8 899.4L453.3 897.7L460.0 903.9L466.7 915.0L471.1 926.1L475.6 937.2L478.9 948.3L479.6 957.2L475.6 966.1L466.7 971.7L457.8 972.8L452.2 968.3L448.9 959.4L446.7 948.3L446.2 937.2L446.7 926.1L448.9 915.0L450.0 906.1ZM665.6 943.9L670.0 948.3L671.1 957.2L667.8 956.1L666.0 950.6ZM688.9 978.3L694.4 979.4L701.1 983.9L707.8 988.3L716.7 991.7L723.3 992.8M691.1 976.1L692.2 983.9L693.3 992.8M732.2 795.0L735.6 806.1L738.9 817.2L743.3 828.3L745.6 839.4L747.8 850.6L748.9 861.7L747.8 872.8L745.6 883.9L743.3 895.0L741.1 906.1L740.0 919.4L740.0 932.8L741.1 937.2L745.6 928.3L747.8 933.9L754.4 941.7L758.9 948.3L763.3 955.0L765.6 963.9L770.0 970.6L772.2 983.9L771.1 992.8M738.9 795.0L745.6 803.9L751.1 812.8L754.4 823.9L755.6 835.0L758.9 846.1L761.1 857.2L758.9 868.3L755.6 879.4L754.4 890.6L753.3 901.7L755.6 909.4L758.9 906.1M765.6 861.7L764.4 850.6L766.7 839.4L767.8 828.3L774.4 825.0L782.2 826.1L783.3 835.0L783.3 841.7L792.2 841.7L801.1 842.8L805.6 850.6L812.2 857.2L815.6 866.1L816.7 872.8L823.3 877.2L825.6 872.8L822.2 870.6M765.6 861.7L763.3 870.6L758.9 881.7L756.7 892.8L758.9 899.4L765.6 906.1L767.8 919.4L770.0 928.3L771.1 939.4L776.7 950.6L783.3 959.4L785.6 968.3L784.4 977.2L792.2 975.0L798.9 970.6L805.6 972.8L812.2 981.7L817.8 992.8M846.9 807.2L836.7 808.3L825.6 809.4L814.4 811.7L810.0 819.4L805.6 826.1L806.7 837.2L810.0 848.3L815.6 861.7M826.7 831.7L832.2 837.2L838.9 842.8L835.6 845.0L830.0 839.4L826.7 835.0ZM816.7 872.8L825.6 883.9L834.4 886.1L846.9 883.9M834.4 886.1L841.1 892.8L843.3 906.1L845.6 919.4L846.9 923.9M320.0 372.5L328.3 368.3L336.7 365.8L345.0 366.7L351.7 368.3L355.0 365.0L361.7 362.5L368.3 363.3M368.3 363.3L375.0 365.0L381.7 370.0L386.7 375.8L393.3 381.7L400.0 388.3L406.7 392.5L415.8 393.7M371.7 365.0L376.7 369.2L384.2 374.2L386.7 380.8L391.7 385.3L398.3 390.3L406.7 393.7M351.7 368.3L345.0 371.7L336.7 375.8L332.5 380.0L333.3 385.8L340.0 387.5L345.0 390.0L350.0 395.0L355.0 400.0L360.0 403.3L366.7 405.8L371.7 405.0M371.7 405.0L375.0 410.0L380.0 413.3L386.7 411.7L395.0 408.3L403.3 404.2L410.0 398.3L415.8 393.7M415.8 393.7L421.7 390.0L428.3 386.7L436.7 384.2L443.3 385.0L450.0 388.3L455.0 393.3L453.3 401.7L449.2 410.0L443.3 415.0L436.7 418.3L433.3 421.7L435.0 426.7L433.3 430.8L426.7 425.0M415.8 393.7L420.0 400.0L421.7 410.0L426.7 418.3L431.7 428.3L433.3 430.8M433.3 430.8L436.7 436.7L441.7 443.3L443.3 448.3L440.0 451.7L435.0 454.2L430.0 450.0L425.0 451.7L420.0 446.7L413.3 445.0L406.7 441.7L400.0 440.0L395.0 438.3L390.0 440.8L386.7 445.0L384.2 450.0L381.7 455.0L376.7 456.7M371.7 405.0L363.3 406.7L353.3 408.3L346.7 411.7L345.8 420.0L348.3 430.0L349.2 440.0L355.0 443.3L361.7 446.7L366.7 450.0L371.7 455.0L376.7 456.7M370.0 406.7L361.7 408.3L355.0 410.0L351.7 415.0L355.0 421.7L354.2 430.0L358.3 436.7L361.7 443.3L368.3 446.7M375.0 410.0L381.7 420.0L388.3 428.3L395.0 435.0L400.0 440.0M376.7 456.7L370.0 460.0L365.0 466.7L363.3 478.3L364.5 480.0M376.7 456.7L381.7 460.0L386.7 468.3L391.7 473.3L396.7 478.3L400.0 483.3L403.3 490.0M425.0 451.7L428.3 460.0L430.0 470.0L431.7 476.7L436.7 473.3L443.3 478.3L450.0 483.3L453.3 490.0M413.3 490.0L415.0 481.7L420.0 477.5L426.7 476.7L431.7 476.7M320.0 371.7L314.0 378.3L316.0 388.3L317.7 400.0M653.3 600.0L646.7 604.4L645.6 613.3L637.8 615.6L631.1 622.2L628.9 631.1L634.4 635.6L640.0 626.7L644.4 633.3L645.6 644.4L648.9 648.9L651.1 662.2L650.0 673.3M576.7 565.6L582.2 573.3L578.9 582.2L575.6 591.1L577.8 600.0L582.2 608.9L586.7 622.2M53.8 345.6L62.2 343.3L73.3 340.0L80.0 338.9L87.8 340.0L91.1 344.4L100.0 347.8L106.7 351.1L115.6 352.2L123.3 355.6L128.9 361.1L134.4 364.4L137.8 370.7L150.0 371.1L151.1 377.8L150.0 384.4L152.2 391.1L160.0 394.4L168.9 398.4L173.3 397.8L182.2 393.3L182.2 388.9L193.3 384.4L200.0 381.1L205.6 375.6L208.9 362.2L215.6 358.9L222.2 355.6L224.4 353.3L228.9 356.7L240.0 357.8M104.4 207.8L105.6 215.6L106.7 224.4L106.7 233.3L113.3 232.9L117.8 228.4L123.3 230.0L128.9 233.3L130.0 237.3L137.8 235.6L144.4 233.3L148.9 233.3L147.8 224.4L151.1 218.9L155.6 213.3L160.0 208.9M106.2 236.7L108.9 235.6L110.7 238.2L108.4 240.4L106.2 238.9ZM258.2 281.1L262.2 281.8L266.7 284.0L264.4 285.6L260.0 284.4L258.2 282.2ZM288.4 299.6L293.3 297.8L297.3 298.2L294.4 300.4L290.0 301.8ZM404.9 228.9L411.1 228.2L417.8 228.4L416.7 231.1L410.0 231.6L405.6 230.7ZM389.3 258.2L393.3 255.6L402.2 253.3L411.1 252.9L422.7 251.6L423.3 254.4L417.8 256.7L415.6 260.0L406.7 262.9L398.9 262.2L392.2 260.4ZM343.3 324.9L345.1 323.1L346.9 324.9L345.1 326.7ZM240.0 358.2L246.7 358.9L253.3 360.4L257.8 363.3L261.1 365.6L265.6 362.2L270.0 359.6L273.3 357.8L275.6 358.9L278.9 360.4L281.1 356.7L283.3 353.3L291.1 352.9L293.3 346.7L296.7 340.0L301.1 336.7L306.7 335.6L311.1 338.9L312.2 344.4L315.6 346.7L315.1 355.6L315.6 364.4L317.8 370.0L322.2 370.0L328.9 366.7L334.4 362.2L341.1 358.9L346.7 357.8L351.1 355.6L353.3 358.9L361.1 357.8L364.4 358.9L368.9 358.9L372.2 356.7L370.0 351.1L368.9 344.4L368.4 335.6L364.4 331.1L357.8 331.1L352.2 332.2L350.0 327.8L348.9 321.1L350.0 315.6L353.3 311.1L353.3 306.7L356.7 302.7L364.4 298.9L368.9 295.6L375.6 294.4L380.0 293.3L381.1 297.8L386.7 297.8L393.3 294.4L398.9 287.8L405.6 286.7L411.1 284.4L417.8 284.0L424.4 278.9L431.1 274.4L440.0 270.0M440.0 270.7L448.9 266.7L454.4 264.4L453.3 255.6L454.4 250.0L457.8 246.7L463.3 243.3L461.1 235.6L458.2 226.7L456.0 217.8L456.7 211.1L451.1 210.0L447.8 208.4L446.7 206.9M556.7 269.3L560.0 264.0L566.2 264.9L567.8 268.9L561.1 268.4ZM662.2 206.9L671.1 212.2L678.9 216.7L685.6 220.0L688.9 221.8L694.4 221.8L695.6 226.7L697.8 227.8L702.2 240.0L710.0 251.6L725.6 253.3L727.8 252.7L738.9 254.4L754.4 255.6L761.1 254.4L767.8 253.3L783.3 255.6L796.7 257.3L801.1 262.2L816.7 266.2L827.8 270.0L838.9 268.9L840.0 273.3L846.9 275.6M761.8 365.6L763.8 361.1L770.0 360.0L774.0 363.3L777.8 367.8L779.6 372.2L774.4 372.9L768.9 370.7L764.4 368.9ZM151.1 403.3L148.9 408.9L143.3 414.4L141.1 422.2L142.2 433.3L144.4 444.4L145.6 457.8L145.6 471.1L151.1 474.4L161.1 475.6L161.8 482.2L158.9 488.9L153.3 496.7L147.8 504.0M147.8 504.0L160.0 507.8L173.3 511.1L186.7 512.2L197.8 513.3L202.2 510.7L213.3 509.3L222.2 507.8L232.2 504.0L232.9 493.3L234.4 482.2L240.0 477.8M147.8 504.0L153.3 511.1L158.9 521.1L165.6 528.9L173.3 535.6L176.7 544.4L177.8 555.6L184.4 556.7L185.6 561.1L182.2 565.6L173.3 567.8L164.4 572.2L161.1 580.0L158.9 588.9L160.0 593.3M84.4 560.0L85.6 568.9L87.8 580.0L93.3 584.4L102.2 587.1L113.3 587.8L126.7 590.0L135.6 592.9L144.4 593.3L155.6 594.4L164.4 595.6L173.3 594.4L184.4 593.3L195.6 592.2L206.7 594.4L217.8 593.3L228.9 591.1L233.3 588.9L236.7 592.2L240.0 595.6M52.9 565.6L57.8 563.3L64.4 558.9L73.3 556.7L81.1 558.2L85.6 563.3L87.1 573.3L87.8 582.2M56.7 567.8L62.2 565.6L68.9 563.3L74.4 564.0L66.7 566.7L60.0 568.9ZM68.9 575.6L73.3 573.3L75.6 575.6L73.3 584.4L71.1 591.1L68.9 595.6L70.0 587.8L68.4 581.1ZM70.0 575.6L73.3 573.3L76.7 576.7L75.6 584.4L74.4 595.6L76.7 604.4L81.1 611.1L87.8 617.8L97.8 623.3L106.7 626.7L114.4 628.9L120.0 637.8L125.6 645.6L130.0 648.9L128.9 657.8L125.6 666.7L120.0 673.3L114.4 681.1L111.1 688.9L110.0 693.3L106.7 688.9L103.3 686.7L102.2 693.3L98.2 700.0L95.6 708.9L94.4 716.7L87.8 718.9L81.1 723.3L78.9 731.1L76.7 737.8L64.4 739.6L58.9 741.1L55.6 746.7L53.8 753.3L52.9 760.0M70.0 575.6L71.1 582.2L73.3 588.9L75.6 584.4M111.1 693.3L113.3 685.6L115.1 688.9L112.9 694.4ZM52.9 762.2L54.4 755.6L56.7 750.0L60.0 744.4L62.2 740.0M317.8 400.0L314.4 406.7L306.7 412.2L297.8 416.7L291.1 422.2L292.2 428.9L295.6 433.3L291.1 437.8L284.4 440.0L281.1 446.7L281.1 455.6L275.6 462.2L266.7 466.7L258.9 470.0L253.3 472.2L254.4 475.6L248.9 476.7L240.0 477.8M364.4 480.0L360.0 486.7L353.3 495.6L346.7 502.2L343.3 511.1L337.8 520.0L331.1 523.3L325.6 528.9L322.2 533.3L313.3 537.8L304.4 544.4L295.6 542.2L287.8 548.9L284.4 555.6L284.4 564.4L287.8 571.1L292.2 577.8L293.3 588.9L300.0 593.3L304.4 600.0M400.0 484.4L395.6 493.3L391.1 500.0L382.2 504.4L373.3 508.9L371.1 515.6L377.8 524.4L384.4 533.3L391.1 542.2L400.0 537.8L404.4 544.4L408.9 555.6L417.8 563.3L426.7 562.2L433.3 568.9L435.6 580.0L433.3 588.9L426.7 591.1L424.4 600.0M415.6 482.2L413.3 497.8L417.8 508.9L426.7 515.6L433.3 521.1L440.0 524.4M404.4 504.4L405.6 517.8L408.9 531.1L411.1 542.2L412.2 555.6L417.8 563.3M408.9 563.3L400.0 573.3L394.4 584.4L400.0 593.3L411.1 600.0M440.0 478.9L446.7 482.2L453.3 485.6L460.0 491.1L466.7 497.8L473.3 493.3L480.0 497.8L487.8 503.3L495.6 508.9L504.4 515.6L511.1 515.6L516.7 524.4L524.4 528.9L533.3 533.3L542.2 537.8L548.9 542.2L557.8 540.0L566.7 542.2L575.6 543.3L584.4 540.0L590.0 538.9M451.1 520.0L457.8 524.4L466.7 531.1L475.6 537.8L484.4 544.4L493.3 548.9L504.4 553.3L513.3 551.1L522.2 555.6L528.9 562.2L537.8 565.6L546.7 567.8L555.6 571.1L564.4 572.2L573.3 570.0L578.9 571.1L580.0 555.6L578.9 544.4M466.7 497.8L455.6 506.7L451.1 520.0L440.0 522.2M440.0 437.8L442.7 441.1L443.3 447.8L441.1 451.1M578.9 544.4L586.7 540.0L591.1 551.1L593.3 542.2L600.0 536.7L608.9 534.4L617.8 538.9L628.9 538.9L635.6 544.4L640.0 545.6L650.0 540.0M593.3 564.4L604.4 565.6L617.8 564.4L631.1 564.4L640.0 561.1L650.0 561.1M513.3 551.1L515.6 560.0L513.3 568.9L517.8 575.6L522.2 582.2L515.6 586.7L508.9 591.1L504.4 600.0M578.9 571.1L576.7 577.8L573.3 584.4L575.6 593.3L571.1 600.0M582.2 568.9L591.1 573.3L600.0 577.8L604.4 586.7L613.3 580.0L624.4 577.8L640.0 575.6M640.0 575.0L636.7 583.3L650.0 585.0L651.7 595.0L640.0 600.0L633.3 593.3L620.0 596.7L610.0 593.3L606.7 581.7M591.1 551.1L593.3 564.4L586.7 568.9L582.2 568.9M494.4 470.7L498.9 469.3L503.3 472.2L498.9 473.3ZM467.8 487.1L472.2 485.6L475.6 488.4L471.1 490.7ZM534.4 481.8L538.9 480.4L543.3 483.3L542.7 486.7L537.8 485.6ZM551.1 484.4L554.4 475.6L556.7 474.4L557.3 477.3L554.4 486.7ZM585.6 465.6L593.3 463.3L598.2 466.7L595.6 471.1L588.9 469.3ZM613.3 486.2L622.2 483.3L625.6 486.7L617.8 491.1L613.8 490.0ZM630.0 461.8L633.3 458.9L633.8 465.6ZM615.6 519.6L621.1 517.8L622.2 524.4L617.8 525.6ZM650.0 540.0L654.4 533.3L658.9 528.9L670.0 525.6L678.9 520.0L683.3 515.6L687.8 517.8L696.7 515.6L704.4 512.9L710.0 516.7L707.8 522.2L713.3 527.8L710.0 532.2L716.7 534.4L723.3 535.6L727.8 531.1L734.4 533.3L738.9 542.2L741.1 548.9L746.7 551.1L747.8 562.2L746.7 575.6L744.4 584.4L738.9 591.1L734.4 595.6L732.2 600.0M650.0 561.1L658.9 561.1L667.8 555.6L676.7 550.0L685.6 546.7L694.4 544.4L702.2 545.6L703.3 553.3L696.7 555.6L690.0 560.0L683.3 565.6L676.7 571.1L672.2 577.8L667.8 584.4L663.3 591.1L658.9 600.0M703.3 553.3L710.0 553.3L716.7 553.3L721.1 544.4L725.6 537.8M690.0 563.3L698.9 557.8L707.8 554.4M690.0 563.3L688.9 575.6L690.0 586.7L685.6 593.3L683.3 600.0M672.2 577.8L681.1 575.6L687.8 577.8M728.9 406.7L731.1 402.2L734.0 406.7ZM240.0 603.3L246.7 613.3L253.3 620.0L262.2 624.4L264.4 631.1L271.1 636.7L280.0 641.1L291.1 640.0L295.6 636.7L301.1 634.4L298.9 640.0L293.3 644.4L284.4 650.0L276.7 651.1L275.1 654.4L277.8 662.2L284.4 671.1L293.3 678.9L302.2 683.3L311.1 681.1L320.0 675.6L325.6 668.9L328.9 662.2L325.6 658.9L328.9 653.3L335.6 653.3L333.3 660.0L331.1 666.7L335.6 675.6L336.7 684.4L334.4 693.3L333.3 702.2L335.6 711.1L337.8 720.0L340.0 733.3L342.2 746.7L345.6 764.4L348.9 777.8L352.2 788.9L355.6 800.0M262.2 624.4L268.9 617.8L273.3 613.3L284.4 614.4L295.6 611.1L304.4 608.9L308.9 605.6L317.8 606.7L328.9 607.8L335.6 610.0L340.0 616.7L344.4 622.2L348.9 627.8L355.6 631.1L361.1 635.6L366.7 626.7L368.9 617.8L367.8 608.9L368.9 600.0M361.1 635.6L360.0 644.4L355.6 651.1L357.8 660.0L351.1 666.7L352.2 675.6L348.9 682.2L344.4 686.7L340.0 691.1L337.8 695.6L334.4 693.3M357.8 660.0L364.4 665.6L375.6 668.9L386.7 671.1L391.1 675.6L395.6 671.1L402.2 666.7L415.6 666.7L428.9 666.7L440.0 664.4M355.6 800.0L357.8 788.9L358.9 777.8L360.0 766.7L366.7 762.2L375.6 757.8L381.1 755.6L381.1 748.9L393.3 747.8L397.8 740.0L404.4 735.6L411.1 728.9L415.6 715.6L417.8 706.7L424.4 701.1L433.3 702.2L440.0 706.7M411.1 728.9L412.2 746.7L408.9 764.4L406.7 777.8L404.4 788.9L402.2 800.0M406.7 777.8L417.8 775.6L428.9 771.1L440.0 764.4M373.3 600.0L377.8 608.9L380.0 622.2L386.7 613.3L395.6 612.2L404.4 606.7L405.6 600.0M422.2 600.0L424.4 611.1L431.1 613.3L433.3 604.4L440.0 602.2M451.1 800.0L453.3 788.9L462.2 780.0L471.1 775.6L484.4 764.4L487.8 755.6L497.8 748.9L506.7 742.2L515.6 731.1L524.4 720.0L531.1 708.9L537.8 702.2L546.7 695.6L555.6 686.7L560.0 675.6L564.4 668.9L573.3 665.6L577.8 664.4M595.6 657.8L604.4 651.1L613.3 644.4L622.2 640.0L628.9 644.4L635.6 651.1L640.0 657.8L646.7 666.7L650.0 685.6M440.0 765.6L448.9 760.0L460.0 755.6L465.6 751.1L466.7 742.2L475.6 737.8L484.4 733.3L493.3 728.9L500.0 724.4L506.7 715.6L513.3 720.0L522.2 715.6L531.1 708.9M457.8 681.1L460.0 666.7L462.2 655.6L468.9 646.7L475.6 642.2L478.9 637.8L475.6 626.7L476.7 621.1L484.4 621.1L493.3 620.0L497.8 613.3L504.4 608.9L504.4 600.0M440.0 676.7L448.9 678.9L457.8 681.1L455.6 693.3L457.8 706.7L455.6 717.8L462.2 724.4L465.6 742.2M504.4 617.8L508.9 626.7L515.6 635.6L517.8 644.4L511.1 651.1L504.4 657.8L497.8 666.7L488.9 673.3L486.7 684.4L487.8 695.6L481.1 697.8L482.2 706.7L480.0 715.6L475.6 726.7L473.3 737.8M504.4 608.9L513.3 606.7L524.4 611.1L533.3 608.9L542.2 606.7L551.1 613.3L560.0 611.1L571.1 608.9L573.3 600.0M517.8 644.4L526.7 646.7L533.3 655.6L540.0 653.3L546.7 648.9L553.3 653.3L560.0 660.0L564.4 668.9M542.2 633.3L551.1 642.2L557.8 651.1L560.0 660.0M542.2 633.3L551.1 628.9L560.0 622.2L568.9 615.6L575.6 606.7L577.8 600.0M577.8 600.0L582.2 611.1L586.7 622.2L591.1 631.1L593.3 640.0L600.0 626.7L608.9 622.2L617.8 628.9L624.4 633.3L628.9 622.2L635.6 615.6L640.0 613.3L650.0 613.3M593.3 640.0L592.2 648.9L588.9 655.6M727.8 600.0L730.0 608.9L728.9 621.1L738.9 616.7L747.8 617.8L748.9 628.9L752.2 636.7L758.9 637.8L754.4 651.1L761.1 657.8L767.8 660.0L768.9 666.7L776.7 668.9L785.6 664.4L783.3 673.3L774.4 680.0L770.0 688.9L774.4 695.6L775.6 704.4L785.6 706.7L787.8 715.6L785.6 726.7L783.3 737.8L785.6 746.7L792.2 742.2L796.7 733.3L805.6 735.6L812.2 737.8L818.9 731.1L827.8 728.9L834.4 735.6L841.1 744.4L846.9 751.1M785.6 664.4L792.2 653.3L796.7 648.9L805.6 651.1L810.0 644.4L818.9 646.7L827.8 643.3L836.7 641.1L846.9 635.6M805.6 651.1L812.2 662.2L814.4 673.3L821.1 682.2L830.0 683.3L838.9 688.9L845.6 693.3L841.1 700.0L832.2 706.7L836.7 713.3L846.9 720.0M770.0 688.9L761.1 691.1L752.2 697.8L743.3 701.1L735.6 704.4L732.2 715.6L726.7 726.7L732.2 737.8L736.7 748.9L743.3 760.0L747.8 771.1L745.6 777.8L747.8 784.4L738.9 791.1L741.1 800.0M650.0 685.6L656.7 695.6L663.3 704.4L670.0 708.9L673.3 715.6L676.7 728.9L681.1 742.2L684.4 755.6L678.9 766.7L675.6 775.6L681.1 780.0L690.0 777.8L696.7 775.6L703.3 771.1L710.0 764.4L716.7 760.0L718.9 748.9L723.3 757.8L726.7 766.7L730.0 777.8L732.2 788.9L733.3 800.0M663.3 704.4L670.0 711.1L672.2 720.0L667.8 722.2L664.4 715.6ZM650.0 613.3L658.9 615.6L663.3 622.2L661.1 633.3L660.0 644.4L656.7 651.1L654.4 657.8L650.0 660.0L640.0 658.2M663.3 622.2L674.4 622.2L678.9 613.3L683.3 600.0M656.7 600.0L658.9 608.9L658.9 615.6M355.6 795.0L360.0 803.9L363.3 815.0L366.7 828.3L370.0 839.4L373.3 848.3L377.8 859.4L382.2 870.6L386.7 883.9L391.1 895.0L393.3 903.9L395.6 910.6L400.0 919.4L405.6 926.1L410.0 931.7L414.4 928.3L417.8 921.7L420.0 915.0L424.4 910.6L433.3 908.3L440.0 907.2M370.0 839.4L375.6 846.1L382.2 852.8L388.9 859.4L393.3 866.1L397.8 872.8L400.0 883.9L405.6 890.6L406.7 901.7L408.9 910.6L407.8 919.4L410.0 931.7M393.3 866.1L400.0 861.7L408.9 859.4L415.6 857.2L413.3 850.6L412.2 841.7L415.6 835.0L422.2 836.1L428.9 832.8L435.6 830.6L440.0 828.3M400.0 795.0L398.9 803.9L404.4 810.6L403.3 817.2L408.9 819.4L415.6 821.7L422.2 823.9L424.4 830.6L428.9 832.8M440.0 888.3L436.7 895.0L435.6 903.9L440.0 906.1M451.1 795.0L453.3 803.9L453.8 815.0L452.2 823.9L448.9 828.3L440.0 830.6M452.2 823.9L450.0 839.4L447.8 852.8L446.7 861.7L447.8 872.8L448.4 886.1L440.0 887.2M447.8 899.4L453.3 897.7L460.0 903.9L466.7 915.0L471.1 926.1L475.6 937.2L478.9 948.3L479.6 957.2L475.6 966.1L466.7 971.7L457.8 972.8L452.2 968.3L448.9 959.4L446.7 948.3L446.2 937.2L446.7 926.1L448.9 915.0L450.0 906.1ZM665.6 943.9L670.0 948.3L671.1 957.2L667.8 956.1L666.0 950.6ZM688.9 978.3L694.4 979.4L701.1 983.9L707.8 988.3L716.7 991.7L723.3 992.8M691.1 976.1L692.2 983.9L693.3 992.8M732.2 795.0L735.6 806.1L738.9 817.2L743.3 828.3L745.6 839.4L747.8 850.6L748.9 861.7L747.8 872.8L745.6 883.9L743.3 895.0L741.1 906.1L740.0 919.4L740.0 932.8L741.1 937.2L745.6 928.3L747.8 933.9L754.4 941.7L758.9 948.3L763.3 955.0L765.6 963.9L770.0 970.6L772.2 983.9L771.1 992.8M738.9 795.0L745.6 803.9L751.1 812.8L754.4 823.9L755.6 835.0L758.9 846.1L761.1 857.2L758.9 868.3L755.6 879.4L754.4 890.6L753.3 901.7L755.6 909.4L758.9 906.1M765.6 861.7L764.4 850.6L766.7 839.4L767.8 828.3L774.4 825.0L782.2 826.1L783.3 835.0L783.3 841.7L792.2 841.7L801.1 842.8L805.6 850.6L812.2 857.2L815.6 866.1L816.7 872.8L823.3 877.2L825.6 872.8L822.2 870.6M765.6 861.7L763.3 870.6L758.9 881.7L756.7 892.8L758.9 899.4L765.6 906.1L767.8 919.4L770.0 928.3L771.1 939.4L776.7 950.6L783.3 959.4L785.6 968.3L784.4 977.2L792.2 975.0L798.9 970.6L805.6 972.8L812.2 981.7L817.8 992.8M846.9 807.2L836.7 808.3L825.6 809.4L814.4 811.7L810.0 819.4L805.6 826.1L806.7 837.2L810.0 848.3L815.6 861.7M826.7 831.7L832.2 837.2L838.9 842.8L835.6 845.0L830.0 839.4L826.7 835.0ZM816.7 872.8L825.6 883.9L834.4 886.1L846.9 883.9M834.4 886.1L841.1 892.8L843.3 906.1L845.6 919.4L846.9 923.9M320.0 372.5L328.3 368.3L336.7 365.8L345.0 366.7L351.7 368.3L355.0 365.0L361.7 362.5L368.3 363.3M368.3 363.3L375.0 365.0L381.7 370.0L386.7 375.8L393.3 381.7L400.0 388.3L406.7 392.5L415.8 393.7M371.7 365.0L376.7 369.2L384.2 374.2L386.7 380.8L391.7 385.3L398.3 390.3L406.7 393.7M351.7 368.3L345.0 371.7L336.7 375.8L332.5 380.0L333.3 385.8L340.0 387.5L345.0 390.0L350.0 395.0L355.0 400.0L360.0 403.3L366.7 405.8L371.7 405.0M371.7 405.0L375.0 410.0L380.0 413.3L386.7 411.7L395.0 408.3L403.3 404.2L410.0 398.3L415.8 393.7M415.8 393.7L421.7 390.0L428.3 386.7L436.7 384.2L443.3 385.0L450.0 388.3L455.0 393.3L453.3 401.7L449.2 410.0L443.3 415.0L436.7 418.3L433.3 421.7L435.0 426.7L433.3 430.8L426.7 425.0M415.8 393.7L420.0 400.0L421.7 410.0L426.7 418.3L431.7 428.3L433.3 430.8M433.3 430.8L436.7 436.7L441.7 443.3L443.3 448.3L440.0 451.7L435.0 454.2L430.0 450.0L425.0 451.7L420.0 446.7L413.3 445.0L406.7 441.7L400.0 440.0L395.0 438.3L390.0 440.8L386.7 445.0L384.2 450.0L381.7 455.0L376.7 456.7M371.7 405.0L363.3 406.7L353.3 408.3L346.7 411.7L345.8 420.0L348.3 430.0L349.2 440.0L355.0 443.3L361.7 446.7L366.7 450.0L371.7 455.0L376.7 456.7M370.0 406.7L361.7 408.3L355.0 410.0L351.7 415.0L355.0 421.7L354.2 430.0L358.3 436.7L361.7 443.3L368.3 446.7M375.0 410.0L381.7 420.0L388.3 428.3L395.0 435.0L400.0 440.0M376.7 456.7L370.0 460.0L365.0 466.7L363.3 478.3L364.5 480.0M376.7 456.7L381.7 460.0L386.7 468.3L391.7 473.3L396.7 478.3L400.0 483.3L403.3 490.0M425.0 451.7L428.3 460.0L430.0 470.0L431.7 476.7L436.7 473.3L443.3 478.3L450.0 483.3L453.3 490.0M413.3 490.0L415.0 481.7L420.0 477.5L426.7 476.7L431.7 476.7M320.0 371.7L314.0 378.3L316.0 388.3L317.7 400.0M653.3 600.0L646.7 604.4L645.6 613.3L637.8 615.6L631.1 622.2L628.9 631.1L634.4 635.6L640.0 626.7L644.4 633.3L645.6 644.4L648.9 648.9L651.1 662.2L650.0 673.3M576.7 565.6L582.2 573.3L578.9 582.2L575.6 591.1L577.8 600.0L582.2 608.9L586.7 622.2" fill="none" stroke="#EB0A78" stroke-width="1.7" stroke-linejoin="round" stroke-linecap="round"/>
<path d="M610.7 290.0L612.9 288.9L615.6 297.8L616.7 301.8L614.4 302.2L612.2 295.6ZM506.7 504.2L510.0 504.9M812.7 607.8L814.4 606.7L814.0 612.2L812.4 612.2ZM805.6 760.0L808.2 758.9L808.9 764.4M610.7 290.0L612.9 288.9L615.6 297.8L616.7 301.8L614.4 302.2L612.2 295.6ZM506.7 504.2L510.0 504.9M812.7 607.8L814.4 606.7L814.0 612.2L812.4 612.2ZM805.6 760.0L808.2 758.9L808.9 764.4" fill="none" stroke="#EB0A78" stroke-width="2" stroke-linejoin="round" stroke-linecap="round"/>
<path d="M232.2 587.8L235.6 588.4L236.7 592.2L233.3 592.9L231.1 590.7ZM363.3 415.6L364.4 416.7M770.0 581.1L771.8 587.8M325.6 658.9L327.8 654.4L332.2 653.3L334.4 656.7L330.0 661.1ZM385.6 792.2L391.1 790.0M510.0 665.6L512.2 666.7M444.0 855.0L446.2 855.0L446.2 858.3L444.0 858.3ZM658.9 926.1L660.7 929.4M663.8 930.6L665.1 935.0M363.0 415.3L364.3 416.3M232.2 587.8L235.6 588.4L236.7 592.2L233.3 592.9L231.1 590.7ZM363.3 415.6L364.4 416.7M770.0 581.1L771.8 587.8M325.6 658.9L327.8 654.4L332.2 653.3L334.4 656.7L330.0 661.1ZM385.6 792.2L391.1 790.0M510.0 665.6L512.2 666.7M444.0 855.0L446.2 855.0L446.2 858.3L444.0 858.3ZM658.9 926.1L660.7 929.4M663.8 930.6L665.1 935.0M363.0 415.3L364.3 416.3" fill="none" stroke="#EB0A78" stroke-width="2.5" stroke-linejoin="round" stroke-linecap="round"/>
<path d="M576.0 663.3L580.0 660.0L584.4 661.1L587.8 657.3L591.1 660.4L594.4 658.2L593.3 663.3L587.8 665.6L582.2 666.7L577.8 666.2ZM576.0 663.3L580.0 660.0L584.4 661.1L587.8 657.3L591.1 660.4L594.4 658.2L593.3 663.3L587.8 665.6L582.2 666.7L577.8 666.2Z" fill="none" stroke="#EB0A78" stroke-width="2.6" stroke-linejoin="round" stroke-linecap="round"/>
<path d="M578.9 663.3L592.2 661.1M578.9 663.3L592.2 661.1" fill="none" stroke="#EB0A78" stroke-width="4" stroke-linejoin="round" stroke-linecap="round"/>
<path d="M403.3 809.4L408.9 810.6L410.0 816.1L404.4 817.2ZM325.1 862.1L326.0 863.4M334.0 860.6L334.9 861.9M338.4 865.0L339.3 866.3M334.7 869.9L335.6 871.2M326.2 876.6L327.1 877.9M332.4 882.8L333.3 884.1M348.9 877.7L349.8 879.0M327.3 891.7L328.2 893.0M348.4 891.7L349.3 893.0M338.9 927.2L339.8 928.6M340.7 957.7L341.6 959.0M403.3 809.4L408.9 810.6L410.0 816.1L404.4 817.2ZM325.1 862.1L326.0 863.4M334.0 860.6L334.9 861.9M338.4 865.0L339.3 866.3M334.7 869.9L335.6 871.2M326.2 876.6L327.1 877.9M332.4 882.8L333.3 884.1M348.9 877.7L349.8 879.0M327.3 891.7L328.2 893.0M348.4 891.7L349.3 893.0M338.9 927.2L339.8 928.6M340.7 957.7L341.6 959.0" fill="none" stroke="#EB0A78" stroke-width="2.2" stroke-linejoin="round" stroke-linecap="round"/>
<path d="M472.9 948.3L474.2 949.7M450.0 900.6L455.6 901.7M651.8 909.4L653.1 911.7M472.9 948.3L474.2 949.7M450.0 900.6L455.6 901.7M651.8 909.4L653.1 911.7" fill="none" stroke="#EB0A78" stroke-width="3" stroke-linejoin="round" stroke-linecap="round"/>
<path d="M655.9 823.6L655.2 836.7L654.1 847.8L652.4 860.0L650.9 869.1M655.9 823.6L655.2 836.7L654.1 847.8L652.4 860.0L650.9 869.1" fill="none" stroke="#EB0A78" stroke-width="4.6" stroke-linejoin="round" stroke-linecap="round"/>
<path d="M657.6 836.7L657.8 847.8L658.0 857.2M646.1 877.8L648.9 876.7L650.6 879.4L649.4 883.9L646.7 884.4L645.6 881.1ZM657.6 836.7L657.8 847.8L658.0 857.2M646.1 877.8L648.9 876.7L650.6 879.4L649.4 883.9L646.7 884.4L645.6 881.1Z" fill="none" stroke="#EB0A78" stroke-width="1.8" stroke-linejoin="round" stroke-linecap="round"/>
<path d="M662.4 813.2L663.1 813.9M676.3 826.6L677.0 827.2M644.1 863.6L644.8 864.2M643.6 874.9L644.2 875.6M662.4 813.2L663.1 813.9M676.3 826.6L677.0 827.2M644.1 863.6L644.8 864.2M643.6 874.9L644.2 875.6" fill="none" stroke="#EB0A78" stroke-width="2.4" stroke-linejoin="round" stroke-linecap="round"/>
<path d="M735.6 815.0L736.2 819.4M738.9 825.7L739.6 831.0M741.1 836.8L741.8 842.1M735.6 844.3L736.2 847.9M743.3 848.3L744.0 852.8M740.0 857.2L740.7 861.7M745.6 859.9L746.2 863.4M742.2 866.6L742.9 870.1M738.9 873.7L739.6 876.3M734.4 875.9L735.1 878.6M737.8 882.1L738.4 885.7M734.4 885.0L735.1 887.2M738.9 891.4L739.6 894.1M764.4 899.4L765.1 903.9M762.2 957.2L762.9 961.7M764.4 964.3L765.1 967.9M771.1 937.2L771.8 941.7M771.1 983.2L771.8 986.8M760.0 904.8L760.7 907.4M807.8 860.3L808.4 863.0M804.4 851.4L805.1 854.1M830.0 886.6L830.7 890.1M735.6 815.0L736.2 819.4M738.9 825.7L739.6 831.0M741.1 836.8L741.8 842.1M735.6 844.3L736.2 847.9M743.3 848.3L744.0 852.8M740.0 857.2L740.7 861.7M745.6 859.9L746.2 863.4M742.2 866.6L742.9 870.1M738.9 873.7L739.6 876.3M734.4 875.9L735.1 878.6M737.8 882.1L738.4 885.7M734.4 885.0L735.1 887.2M738.9 891.4L739.6 894.1M764.4 899.4L765.1 903.9M762.2 957.2L762.9 961.7M764.4 964.3L765.1 967.9M771.1 937.2L771.8 941.7M771.1 983.2L771.8 986.8M760.0 904.8L760.7 907.4M807.8 860.3L808.4 863.0M804.4 851.4L805.1 854.1M830.0 886.6L830.7 890.1" fill="none" stroke="#EB0A78" stroke-width="2.8" stroke-linejoin="round" stroke-linecap="round"/>
<path d="M595.6 658.2L598.2 653.3L600.4 658.2L603.3 651.6L605.8 656.0L608.9 648.4L611.6 653.3L614.7 645.6L617.3 650.7L620.4 642.7L623.1 647.8L626.2 642.2L628.9 647.8L632.0 645.6L633.8 651.6M593.3 663.3L596.7 660.0L598.9 663.3M595.6 658.2L598.2 653.3L600.4 658.2L603.3 651.6L605.8 656.0L608.9 648.4L611.6 653.3L614.7 645.6L617.3 650.7L620.4 642.7L623.1 647.8L626.2 642.2L628.9 647.8L632.0 645.6L633.8 651.6M593.3 663.3L596.7 660.0L598.9 663.3" fill="none" stroke="#EB0A78" stroke-width="1.3" stroke-linejoin="round" stroke-linecap="round"/>
<path d="M84.6 206.8L83.4 222.8M83.4 222.8L77.1 225.1M83.6 220.9L77.2 223.2M83.7 219.0L80.2 220.3M116.3 206.8L113.5 222.6M113.5 222.6L107.0 224.2M113.9 220.7L107.3 222.4M148.1 206.8L146.8 221.2M146.8 221.2L140.4 223.5M147.0 219.4L143.5 220.6M179.8 206.8L180.7 218.8M180.6 217.6L177.5 219.2M275.1 206.8L263.8 210.9M306.9 206.8L305.2 218.7M338.6 206.8L349.0 212.8M348.0 212.2L347.6 215.7M370.4 206.8L364.0 217.0M402.2 206.8L398.1 218.1M398.1 218.1L391.3 218.6M433.9 206.8L437.0 218.4M436.7 217.2L434.0 219.5M497.4 206.8L509.0 209.9M507.9 209.6L508.4 213.1M561.0 206.8L569.1 215.6M592.7 206.8L603.4 212.2M602.3 211.7L602.2 215.2M656.2 206.8L664.0 216.0M688.0 206.8L689.5 218.7M689.3 217.5L686.3 219.3M783.3 206.8L780.4 218.4M846.8 206.8L835.0 208.9M836.2 208.7L834.2 205.8M52.8 246.1L54.2 262.0M54.2 262.0L48.3 265.4M54.0 260.1L48.1 263.5M53.9 258.2L50.6 260.1M84.6 246.1L84.6 262.1M84.6 262.1L78.4 264.9M84.6 260.2L78.4 263.0M84.6 258.3L81.2 259.8M116.3 246.1L118.3 260.5M118.3 260.5L112.6 264.1M118.1 258.6L114.9 260.6M148.1 246.1L153.2 257.0M152.6 255.9L150.4 258.5M179.8 246.1L189.7 253.0M188.7 252.3L188.0 255.7M211.6 246.1L222.5 241.0M243.4 246.1L242.7 234.1M242.8 235.3L245.9 233.7M275.1 246.1L279.2 257.4M279.2 257.4L274.4 262.1M306.9 246.1L296.0 251.2M297.1 250.7L294.4 248.4M338.6 246.1L330.9 255.3M370.4 246.1L375.5 257.0M402.2 246.1L401.7 258.1M401.8 256.9L398.5 258.2M433.9 246.1L431.2 257.8M431.5 256.6L428.0 257.3M465.7 246.1L456.9 237.9M457.8 238.7L458.9 235.4M497.4 246.1L497.4 258.1M497.4 258.1L491.2 260.9M529.2 246.1L530.9 258.0M561.0 246.1L550.6 240.1M551.6 240.7L552.0 237.2M592.7 246.1L604.5 243.6M624.5 246.1L613.9 240.5M656.2 246.1L645.4 241.0M646.5 241.5L646.5 238.0M688.0 246.1L685.3 234.4M685.6 235.6L688.4 233.4M719.8 246.1L731.8 245.7M730.6 245.7L732.1 248.9M751.5 246.1L759.7 254.9M783.3 246.1L771.3 247.1M815.0 246.1L814.4 234.1M814.5 235.3L817.6 233.7M846.8 246.1L839.4 236.6M840.2 237.6L841.8 234.5M52.8 285.4L59.6 299.9M59.6 299.9L55.1 305.0M58.8 298.2L54.3 303.3M58.0 296.4L53.5 301.6M84.6 285.4L91.3 299.9M91.3 299.9L86.9 305.0M90.5 298.2L86.1 303.3M116.3 285.4L121.2 296.4M121.2 296.4L116.7 301.4M148.1 285.4L159.0 290.5M179.8 285.4L191.1 289.5M190.0 289.1L190.2 292.6M211.6 285.4L223.6 285.4M223.6 285.4L226.4 291.6M243.4 285.4L241.3 297.2M275.1 285.4L272.4 273.7M272.7 274.9L275.5 272.7M306.9 285.4L306.9 273.4M338.6 285.4L349.5 290.5M370.4 285.4L362.7 294.6M363.5 293.7L360.1 292.7M402.2 285.4L403.8 273.5M403.7 274.7L407.0 273.7M433.9 285.4L445.7 287.5M465.7 285.4L473.9 294.2M473.0 293.3L471.7 296.5M497.4 285.4L502.1 296.4M501.7 295.3L499.3 297.9M529.2 285.4L536.9 294.6M536.1 293.7L534.6 296.8M561.0 285.4L551.1 278.5M552.1 279.2L552.8 275.7M592.7 285.4L589.6 273.8M624.5 285.4L629.9 274.7M629.9 274.7L636.7 275.0M656.2 285.4L644.2 285.4M688.0 285.4L699.6 282.3M698.4 282.6L700.7 285.3M719.8 285.4L731.6 283.5M730.4 283.7L732.3 286.6M751.5 285.4L759.2 294.6M758.5 293.7L756.9 296.8M783.3 285.4L789.8 275.3M789.2 276.3L792.6 276.9M815.0 285.4L823.8 277.2M846.8 285.4L835.1 282.9M836.2 283.1L835.5 279.7M52.8 324.7L61.3 333.2M61.3 333.2L58.9 339.5M84.6 324.7L95.5 336.4M95.5 336.4L92.8 342.7M94.2 335.0L91.5 341.3M92.9 333.6L91.4 337.0M116.3 324.7L125.6 335.8M125.6 335.8L122.7 341.9M124.4 334.3L122.8 337.7M148.1 324.7L156.1 333.6M155.3 332.7L153.9 335.9M179.8 324.7L184.3 313.6M183.9 314.7L187.4 314.5M211.6 324.7L201.2 330.7M202.2 330.1L199.4 328.0M275.1 324.7L286.0 319.6M306.9 324.7L314.6 333.9M313.8 333.0L312.3 336.1M338.6 324.7L329.4 317.0M330.4 317.7L331.3 314.4M370.4 324.7L359.4 329.4M359.4 329.4L354.4 324.8M402.2 324.7L414.0 326.8M412.8 326.6L413.7 330.0M433.9 324.7L445.9 324.7M465.7 324.7L477.7 325.1M476.5 325.1L477.8 328.3M497.4 324.7L509.3 326.4M508.1 326.2L509.1 329.6M529.2 324.7L541.2 325.1M540.0 325.1L541.3 328.3M561.0 324.7L572.0 320.0M570.9 320.5L573.5 322.8M592.7 324.7L589.6 313.1M624.5 324.7L614.7 317.8M615.6 318.5L616.3 315.0M656.2 324.7L652.5 313.3M652.5 313.3L657.6 308.7M688.0 324.7L677.1 319.6M719.8 324.7L709.7 331.2M710.7 330.6L707.8 328.7M751.5 324.7L762.8 320.6M761.7 321.0L764.1 323.5M783.3 324.7L771.3 323.4M815.0 324.7L824.2 332.4M52.8 364.0L60.5 373.2M60.5 373.2L57.6 379.3M84.6 364.0L96.5 365.4M116.3 364.0L117.4 375.9M148.1 364.0L150.2 375.8M150.0 374.6L147.1 376.6M179.8 364.0L170.6 371.7M171.6 370.9L168.4 369.4M211.6 364.0L200.3 359.9M201.5 360.3L201.2 356.8M275.1 364.0L265.7 371.4M266.6 370.6L263.5 369.0M306.9 364.0L318.9 364.0M317.7 364.0L319.1 367.2M338.6 364.0L350.6 364.0M370.4 364.0L378.1 373.2M402.2 364.0L391.3 369.1M433.9 364.0L437.0 352.4M465.7 364.0L477.6 365.0M476.4 364.9L477.6 368.2M497.4 364.0L507.3 370.9M529.2 364.0L525.7 375.5M526.0 374.3L522.6 374.7M561.0 364.0L549.1 361.9M592.7 364.0L581.2 367.5M581.2 367.5L576.8 362.4M624.5 364.0L621.4 352.4M621.7 353.5L624.4 351.3M656.2 364.0L645.1 359.5M646.2 359.9L646.1 356.4M688.0 364.0L699.5 367.5M698.3 367.1L698.8 370.6M719.8 364.0L729.0 371.7M751.5 364.0L743.0 372.5M743.9 371.6L740.6 370.4M783.3 364.0L794.3 368.7M815.0 364.0L806.6 355.5M52.8 403.3L60.8 412.2M84.6 403.3L74.7 396.4M116.3 403.3L127.4 408.0M126.3 407.5L126.3 411.0M148.1 403.3L144.0 414.6M144.4 413.4L140.9 413.7M179.8 403.3L181.9 391.5M181.7 392.6L185.1 391.8M211.6 403.3L220.1 411.8M219.2 410.9L218.0 414.2M243.4 403.3L254.1 397.8M275.1 403.3L263.8 399.2M265.0 399.6L264.7 396.1M306.9 403.3L305.2 391.4M305.4 392.6L308.3 390.7M338.6 403.3L346.4 394.1M345.6 395.0L349.0 396.0M370.4 403.3L382.4 402.2M381.2 402.3L382.9 405.4M402.2 403.3L412.6 397.3M433.9 403.3L422.8 398.8M423.9 399.2L423.8 395.7M465.7 403.3L453.7 403.3M497.4 403.3L486.4 408.0M487.5 407.5L484.9 405.1M529.2 403.3L539.9 408.7M561.0 403.3L568.7 412.5M592.7 403.3L584.2 411.8M585.1 410.9L581.8 409.7M624.5 403.3L620.8 414.7M621.1 413.5L617.7 413.9M656.2 403.3L644.6 406.4M645.8 406.1L643.6 403.4M688.0 403.3L685.3 415.0M685.6 413.8L682.1 414.5M719.8 403.3L707.8 403.3M709.0 403.3L707.5 400.1M751.5 403.3L746.4 414.2M747.0 413.1L743.4 413.0M783.3 403.3L778.8 414.4M779.2 413.3L775.7 413.4M815.0 403.3L816.1 415.2M816.0 414.0L812.9 415.7M52.8 442.6L58.8 432.2M84.6 442.6L78.0 432.5M78.7 433.5L80.6 430.6M116.3 442.6L121.4 431.7M120.9 432.8L124.4 432.8M148.1 442.6L146.1 426.7M146.1 426.7L151.9 423.2M146.4 428.6L152.2 425.1M179.8 442.6L174.4 431.9M174.9 432.9L177.1 430.2M211.6 442.6L219.3 433.4M218.5 434.3L221.9 435.3M243.4 442.6L255.3 443.2M254.1 443.1L255.4 446.4M275.1 442.6L278.2 431.0M277.9 432.1L281.4 431.6M306.9 442.6L315.5 434.2M315.5 434.2L321.8 436.8M338.6 442.6L345.9 433.0M370.4 442.6L378.4 433.7M377.6 434.5L381.0 435.6M402.2 442.6L414.0 444.7M412.8 444.4L413.7 447.8M433.9 442.6L425.4 451.1M426.3 450.2L423.0 449.0M465.7 442.6L459.1 452.6M459.8 451.6L456.3 451.1M497.4 442.6L486.0 446.1M487.1 445.7L484.8 443.1M529.2 442.6L522.3 452.4M523.0 451.4L519.6 450.8M561.0 442.6L551.4 449.8M552.3 449.1L549.3 447.4M592.7 442.6L589.6 454.2M589.9 453.0L586.5 453.6M624.5 442.6L635.4 437.5M656.2 442.6L647.0 450.3M688.0 442.6L677.1 437.5M719.8 442.6L708.1 445.3M709.2 445.0L707.1 442.2M751.5 442.6L741.5 449.1M783.3 442.6L771.3 441.9M772.5 442.0L771.2 438.7M815.0 442.6L809.0 432.2M84.6 481.9L72.6 481.4M73.8 481.5L72.4 478.2M116.3 481.9L115.7 469.9M115.7 469.9L121.7 466.8M148.1 481.9L148.1 465.9M148.1 465.9L154.3 463.1M148.1 467.8L154.3 465.0M179.8 481.9L169.8 475.3M170.8 476.0L171.3 472.5M211.6 481.9L217.6 471.5M217.0 472.5L220.5 472.9M243.4 481.9L254.1 476.4M254.1 476.4L259.4 480.7M275.1 481.9L280.2 471.0M280.2 471.0L287.0 471.1M306.9 481.9L314.1 467.6M314.1 467.6L320.9 467.9M313.3 469.3L320.1 469.6M338.6 481.9L352.5 489.9M352.5 489.9L351.8 496.6M350.9 488.9L350.2 495.7M370.4 481.9L380.8 487.9M380.8 487.9L380.1 494.6M402.2 481.9L413.6 478.2M412.4 478.5L414.8 481.1M433.9 481.9L440.8 491.7M465.7 481.9L460.6 471.0M497.4 481.9L495.4 493.7M495.6 492.5L492.2 493.4M529.2 481.9L523.2 492.3M523.8 491.2L520.3 490.9M561.0 481.9L551.8 489.6M552.7 488.8L549.5 487.3M592.7 481.9L588.6 493.1M589.0 492.0L585.5 492.3M624.5 481.9L628.6 493.1M628.2 492.0L625.7 494.5M656.2 481.9L660.3 493.1M659.9 492.0L657.4 494.5M688.0 481.9L688.0 493.9M719.8 481.9L711.7 490.8M712.5 489.9L709.2 488.8M751.5 481.9L753.6 493.7M753.4 492.5L750.5 494.5M783.3 481.9L786.0 493.6M815.0 481.9L803.4 478.8M804.6 479.1L804.0 475.6M84.6 521.2L81.5 509.6M81.8 510.7L84.5 508.5M116.3 521.2L109.5 508.4M109.5 508.4L113.7 503.0M110.4 510.0L112.7 507.1M148.1 521.2L142.6 510.5M142.6 510.5L146.9 505.2M179.8 521.2L174.2 510.6M174.2 510.6L178.4 505.2M211.6 521.2L222.2 515.5M221.1 516.1L223.9 518.2M243.4 521.2L251.8 512.7M275.1 521.2L280.2 510.3M279.7 511.4L283.2 511.4M306.9 521.2L322.9 521.2M322.9 521.2L325.7 527.4M321.0 521.2L323.8 527.4M338.6 521.2L352.5 529.2M352.5 529.2L351.8 535.9M350.9 528.2L350.2 535.0M370.4 521.2L382.7 531.4M382.7 531.4L380.8 538.0M381.2 530.2L379.4 536.8M402.2 521.2L412.2 527.7M411.2 527.0L410.7 530.5M465.7 521.2L464.0 509.3M464.2 510.5L467.1 508.6M497.4 521.2L508.5 516.5M508.5 516.5L513.5 521.1M529.2 521.2L523.2 531.6M561.0 521.2L560.5 533.2M560.6 532.0L557.3 533.3M592.7 521.2L594.8 533.0M594.6 531.8L591.7 533.8M624.5 521.2L626.6 533.0M626.4 531.8L623.5 533.8M656.2 521.2L656.7 509.2M688.0 521.2L695.7 512.0M694.9 512.9L698.3 513.8M719.8 521.2L725.2 510.5M724.7 511.5L728.2 511.7M751.5 521.2L759.2 530.4M783.3 521.2L771.3 522.2M815.0 521.2L807.0 530.1M84.6 560.5L96.0 564.2M94.8 563.8L95.2 567.3M116.3 560.5L121.8 545.4M121.8 545.4L128.6 544.9M121.1 547.2L127.9 546.7M148.1 560.5L137.5 554.8M138.5 555.4L138.8 551.9M179.8 560.5L177.3 546.2M177.3 546.2L182.9 542.4M177.7 548.0L180.7 545.9M211.6 560.5L205.6 550.1M205.6 550.1L209.6 544.5M243.4 560.5L240.3 548.9M240.6 550.0L243.3 547.8M275.1 560.5L273.4 546.1M273.4 546.1L279.2 542.5M273.6 547.9L276.8 546.0M306.9 560.5L296.8 567.0M296.8 567.0L291.1 563.3M338.6 560.5L326.7 559.0M326.7 559.0L324.7 552.5M370.4 560.5L379.7 571.6M379.7 571.6L376.8 577.7M378.5 570.1L376.9 573.5M402.2 560.5L413.2 565.1M413.2 565.1L413.4 571.9M433.9 560.5L445.7 562.5M444.6 562.3L445.4 565.7M465.7 560.5L470.8 549.6M470.2 550.7L473.8 550.7M497.4 560.5L498.3 548.5M498.2 549.7L501.5 548.5M529.2 560.5L534.3 549.6M561.0 560.5L562.6 548.6M562.5 549.8L565.8 548.8M592.7 560.5L595.6 548.8M595.3 550.0L598.8 549.4M624.5 560.5L625.5 548.5M625.4 549.7L628.7 548.5M656.2 560.5L659.9 549.0M659.6 550.2L663.1 549.8M688.0 560.5L698.2 554.1M719.8 560.5L725.4 549.9M724.8 550.9L728.3 551.2M751.5 560.5L760.4 552.4M783.3 560.5L774.4 552.4M775.3 553.2L776.3 549.9M815.0 560.5L827.0 559.0M825.8 559.1L827.6 562.1M84.6 599.8L98.4 595.3M98.4 595.3L102.9 600.3M96.5 595.9L99.0 598.6M116.3 599.8L125.0 586.3M125.0 586.3L131.8 587.4M124.0 587.9L130.7 589.0M123.0 589.5L126.6 590.1M148.1 599.8L160.3 589.5M160.3 589.5L166.5 592.4M158.9 590.7L165.0 593.6M179.8 599.8L189.2 586.8M189.2 586.8L195.9 588.2M188.1 588.3L194.8 589.7M211.6 599.8L212.1 585.3M212.1 585.3L218.4 582.7M212.0 587.2L215.5 585.7M243.4 599.8L231.6 597.3M231.6 597.3L230.2 590.6M275.1 599.8L263.6 596.2M263.6 596.2L262.8 589.5M306.9 599.8L295.0 597.9M295.0 597.9L293.2 591.3M338.6 599.8L350.2 596.6M349.1 597.0L351.3 599.7M370.4 599.8L381.3 604.8M381.3 604.8L381.2 611.6M402.2 599.8L417.9 602.5M417.9 602.5L419.6 609.1M416.0 602.2L417.7 608.8M433.9 599.8L445.8 601.2M445.8 601.2L447.8 607.7M465.7 599.8L477.3 602.9M476.1 602.5L476.7 606.0M497.4 599.8L509.0 602.9M529.2 599.8L528.2 587.8M528.3 589.0L531.3 587.3M561.0 599.8L557.9 588.2M558.2 589.3L560.9 587.1M592.7 599.8L591.7 587.8M591.7 587.8L597.6 584.5M624.5 599.8L636.4 600.8M636.4 600.8L638.7 607.2M656.2 599.8L663.5 590.2M662.7 591.1L666.2 591.9M688.0 599.8L688.0 587.8M719.8 599.8L729.0 592.0M728.0 592.8L731.2 594.3M751.5 599.8L756.2 588.7M783.3 599.8L774.1 592.0M775.0 592.8L776.0 589.4M815.0 599.8L824.0 591.7M52.8 639.0L57.5 623.7M57.5 623.7L64.2 622.9M56.9 625.6L63.7 624.7M84.6 639.0L83.5 627.1M83.6 628.3L86.7 626.6M116.3 639.0L112.8 627.6M113.2 628.7L115.8 626.4M148.1 639.0L145.4 627.4M145.4 627.4L150.8 623.2M179.8 639.0L167.8 638.6M169.0 638.7L167.7 635.4M211.6 639.0L201.2 633.0M202.2 633.6L202.6 630.2M243.4 639.0L232.8 633.4M232.8 633.4L233.2 626.6M275.1 639.0L265.3 632.2M265.3 632.2L266.6 625.5M306.9 639.0L295.4 635.5M295.4 635.5L294.5 628.8M338.6 639.0L334.9 627.6M335.3 628.8L337.9 626.4M370.4 639.0L381.7 643.1M380.5 642.7L380.8 646.2M402.2 639.0L414.2 639.0M414.2 639.0L417.0 645.2M433.9 639.0L445.9 640.1M445.9 640.1L448.1 646.5M465.7 639.0L477.5 637.0M476.3 637.2L478.3 640.1M497.4 639.0L508.6 634.5M507.5 635.0L510.0 637.4M529.2 639.0L534.3 628.2M561.0 639.0L563.9 627.4M563.6 628.6L567.0 627.9M592.7 639.0L593.8 627.1M593.8 627.1L600.2 624.9M624.5 639.0L624.5 627.0M624.5 628.2L627.7 626.8M656.2 639.0L667.7 635.3M688.0 639.0L690.1 627.2M689.9 628.4L693.3 627.5M719.8 639.0L731.5 641.7M751.5 639.0L762.1 644.7M783.3 639.0L794.2 634.2M815.0 639.0L826.8 641.5M825.6 641.3L826.3 644.7M84.6 678.3L77.8 663.8M77.8 663.8L82.2 658.7M78.6 665.6L83.0 660.4M116.3 678.3L128.0 681.0M126.8 680.8L127.5 684.2M148.1 678.3L143.0 667.5M143.0 667.5L147.4 662.3M179.8 678.3L170.0 685.2M170.0 685.2L164.2 681.7M211.6 678.3L201.4 684.7M201.4 684.7L195.8 680.9M243.4 678.3L231.4 678.3M232.6 678.3L231.1 675.1M275.1 678.3L264.1 673.7M264.1 673.7L263.9 666.9M306.9 678.3L298.4 669.9M298.4 669.9L300.8 663.5M338.6 678.3L332.1 668.3M332.8 669.3L334.7 666.3M370.4 678.3L370.4 666.3M370.4 667.5L373.6 666.1M402.2 678.3L414.1 679.8M414.1 679.8L416.1 686.3M433.9 678.3L445.7 680.4M444.6 680.2L445.4 683.6M465.7 678.3L476.8 673.8M476.8 673.8L481.7 678.5M497.4 678.3L509.4 678.8M509.4 678.8L512.0 685.1M529.2 678.3L541.2 678.3M561.0 678.3L558.9 666.5M559.1 667.7L562.0 665.7M592.7 678.3L593.3 666.4M593.3 666.4L599.7 663.9M624.5 678.3L625.5 663.9M625.5 663.9L631.9 661.5M625.4 665.8L628.9 664.5M656.2 678.3L659.3 666.7M659.0 667.9L662.5 667.3M688.0 678.3L694.0 667.9M694.0 667.9L700.8 668.6M719.8 678.3L723.3 689.8M751.5 678.3L761.0 671.0M783.3 678.3L795.2 677.3M815.0 678.3L826.9 676.7M84.6 717.6L77.3 703.4M77.3 703.4L81.6 698.1M78.2 705.1L82.4 699.8M116.3 717.6L110.4 704.4M110.4 704.4L115.0 699.3M111.2 706.1L113.7 703.3M148.1 717.6L133.7 715.6M133.7 715.6L131.8 709.1M135.6 715.9L134.6 712.3M179.8 717.6L168.0 719.7M168.0 719.7L164.2 714.1M211.6 717.6L199.6 717.0M200.8 717.1L199.5 713.8M243.4 717.6L233.0 711.6M234.0 712.2L234.4 708.7M275.1 717.6L264.2 712.6M264.2 712.6L264.3 705.8M306.9 717.6L300.0 707.8M300.0 707.8L303.5 702.0M338.6 717.6L337.6 705.7M337.7 706.9L340.8 705.2M370.4 717.6L368.3 705.8M368.5 707.0L371.4 705.0M402.2 717.6L408.2 728.0M408.2 728.0L404.2 733.5M433.9 717.6L437.0 729.2M437.0 729.2L431.8 733.5M465.7 717.6L466.7 729.6M466.6 728.4L463.6 730.1M497.4 717.6L500.9 729.1M500.6 728.0L498.0 730.3M529.2 717.6L536.9 726.8M561.0 717.6L566.2 706.8M566.2 706.8L573.0 707.1M592.7 717.6L596.8 706.4M596.8 706.4L603.6 705.9M624.5 717.6L626.7 703.3M626.7 703.3L633.3 701.5M626.5 705.2L630.0 704.2M656.2 717.6L651.7 706.5M651.7 706.5L656.4 701.6M688.0 717.6L687.0 705.7M687.0 705.7L692.9 702.4M719.8 717.6L730.2 723.6M729.1 723.0L728.8 726.5M751.5 717.6L748.0 706.2M748.4 707.3L751.0 705.0M783.3 717.6L794.3 712.9M815.0 717.6L827.0 716.2M84.6 756.9L75.8 745.3M75.8 745.3L79.1 739.4M77.0 746.9L78.8 743.6M116.3 756.9L105.4 751.9M105.4 751.9L105.5 745.1M148.1 756.9L136.1 756.9M137.3 756.9L135.8 753.7M179.8 756.9L169.4 750.9M211.6 756.9L201.5 750.4M202.5 751.0L203.1 747.6M243.4 756.9L233.0 750.9M234.0 751.5L234.4 748.0M275.1 756.9L266.6 748.4M266.6 748.4L269.0 742.1M306.9 756.9L302.8 745.7M302.8 745.7L307.6 740.9M338.6 756.9L337.0 745.0M337.0 745.0L342.7 741.4M370.4 756.9L373.9 768.4M373.9 768.4L368.8 772.9M402.2 756.9L406.8 768.0M406.8 768.0L402.2 773.0M433.9 756.9L438.4 768.1M438.4 768.1L433.7 773.0M465.7 756.9L474.2 765.4M474.2 765.4L471.8 771.8M497.4 756.9L508.1 751.5M507.1 752.0L509.8 754.2M529.2 756.9L538.4 749.2M537.5 750.0L540.6 751.5M561.0 756.9L567.5 746.9M567.5 746.9L574.2 747.9M592.7 756.9L597.2 745.8M597.2 745.8L604.0 745.5M624.5 756.9L626.2 742.5M626.2 742.5L632.7 740.5M626.0 744.4L629.6 743.3M656.2 756.9L654.6 745.0M654.6 745.0L660.3 741.4M688.0 756.9L682.6 746.2M682.6 746.2L686.8 740.9M719.8 756.9L719.3 744.9M719.4 746.1L722.5 744.6M751.5 756.9L739.8 754.4M741.0 754.7L740.2 751.3M783.3 756.9L787.4 768.2M815.0 756.9L826.6 760.0M826.6 760.0L827.7 766.7M52.8 796.2L56.9 784.9M84.6 796.2L82.9 784.3M83.1 785.5L86.0 783.7M116.3 796.2L114.6 784.3M148.1 796.2L143.0 785.3M179.8 796.2L177.8 784.4M178.0 785.6L180.9 783.6M211.6 796.2L209.1 784.5M209.4 785.7L212.2 783.6M243.4 796.2L240.3 784.6M240.6 785.8L243.3 783.6M275.1 796.2L267.7 786.8M267.7 786.8L270.9 780.8M306.9 796.2L304.4 784.5M304.4 784.5L309.9 780.5M338.6 796.2L338.0 784.2M338.0 784.2L344.1 781.1M370.4 796.2L382.0 799.3M380.8 799.0L381.4 802.5M402.2 796.2L407.2 807.1M406.7 806.0L404.4 808.7M433.9 796.2L445.9 797.3M444.7 797.2L445.8 800.5M465.7 796.2L477.5 798.3M476.3 798.1L477.2 801.5M497.4 796.2L508.9 792.7M508.9 792.7L513.4 797.8M529.2 796.2L539.9 790.8M539.9 790.8L545.2 795.0M561.0 796.2L569.9 788.2M569.9 788.2L576.1 790.9M592.7 796.2L599.1 786.0M599.1 786.0L605.8 787.0M624.5 796.2L627.4 784.6M627.4 784.6L634.1 783.4M656.2 796.2L654.2 784.4M654.2 784.4L659.8 780.6M688.0 796.2L685.9 784.4M686.1 785.6L689.0 783.6M719.8 796.2L718.7 784.3M718.7 784.3L724.6 781.0M751.5 796.2L746.1 785.5M783.3 796.2L781.6 808.1M781.6 808.1L775.1 810.0M815.0 796.2L825.3 806.5M825.3 806.5L822.9 812.8M823.9 805.1L822.6 808.6M52.8 835.5L61.0 826.7M60.2 827.6L63.5 828.8M84.6 835.5L94.0 828.1M93.1 828.9L96.2 830.5M116.3 835.5L120.4 824.2M120.0 825.4L123.5 825.1M148.1 835.5L150.6 823.8M150.3 825.0L153.8 824.2M179.8 835.5L184.3 824.4M183.9 825.5L187.4 825.4M211.6 835.5L215.5 824.2M215.1 825.3L218.6 825.0M243.4 835.5L242.7 823.5M242.8 824.7L245.9 823.1M275.1 835.5L270.6 824.4M270.6 824.4L275.3 819.5M306.9 835.5L306.9 823.5M306.9 823.5L313.1 820.7M338.6 835.5L340.3 823.6M340.3 823.6L346.8 821.7M370.4 835.5L381.5 831.0M402.2 835.5L414.0 837.6M433.9 835.5L445.2 831.4M444.1 831.8L446.5 834.3M465.7 835.5L476.3 829.9M476.3 829.9L481.6 834.1M497.4 835.5L510.8 829.9M510.8 829.9L515.8 834.5M509.0 830.6L511.8 833.1M529.2 835.5L542.0 828.7M542.0 828.7L547.4 832.9M540.3 829.6L543.3 831.9M561.0 835.5L573.1 827.6M573.1 827.6L578.8 831.3M571.5 828.7L574.7 830.7M592.7 835.5L601.6 827.5M601.6 827.5L607.9 830.2M624.5 835.5L628.6 824.2M628.6 824.2L635.4 823.7M656.2 835.5L658.7 823.8M658.5 825.0L661.9 824.2M688.0 835.5L688.4 823.5M688.4 823.5L694.7 821.0M719.8 835.5L720.6 823.5M720.5 824.7L723.8 823.5M751.5 835.5L760.0 844.0M783.3 835.5L784.3 847.5M784.3 847.5L778.4 850.8M815.0 835.5L813.4 847.4M52.8 874.8L59.3 864.8M59.3 864.8L66.1 865.8M84.6 874.8L88.5 863.5M88.5 863.5L95.2 862.8M116.3 874.8L122.7 864.6M122.0 865.7L125.5 866.1M148.1 874.8L154.8 864.9M154.1 865.9L157.6 866.5M179.8 874.8L186.4 864.8M185.7 865.8L189.2 866.3M211.6 874.8L218.0 864.6M218.0 864.6L224.7 865.6M243.4 874.8L246.3 863.2M246.0 864.3L249.4 863.7M275.1 874.8L270.4 863.8M270.9 864.9L273.3 862.3M306.9 874.8L304.2 863.1M304.5 864.3L307.2 862.2M338.6 874.8L340.9 863.0M340.7 864.2L344.1 863.4M370.4 874.8L381.5 870.3M380.4 870.8L382.9 873.2M402.2 874.8L413.6 871.3M412.5 871.7L414.8 874.3M433.9 874.8L439.6 864.2M439.0 865.3L442.5 865.5M465.7 874.8L475.6 864.2M475.6 864.2L482.0 866.4M474.3 865.6L477.8 866.8M497.4 874.8L508.0 864.9M508.0 864.9L514.3 867.6M506.7 866.2L510.1 867.7M529.2 874.8L541.1 864.1M541.1 864.1L547.3 866.8M539.7 865.4L545.9 868.1M561.0 874.8L573.5 867.6M573.5 867.6L579.0 871.5M571.9 868.5L574.9 870.7M592.7 874.8L602.7 868.1M602.7 868.1L608.4 871.7M624.5 874.8L630.1 864.2M630.1 864.2L636.9 864.7M656.2 874.8L663.0 864.9M663.0 864.9L669.7 866.0M688.0 874.8L691.3 863.3M691.3 863.3L698.0 862.3M719.8 874.8L727.6 865.8M727.6 865.8L734.1 867.7M751.5 874.8L761.9 880.8M760.9 880.2L760.5 883.7M783.3 874.8L787.4 886.1M787.4 886.1L782.5 890.8M815.0 874.8L823.5 883.3M823.5 883.3L821.1 889.7M52.8 914.1L57.3 903.0M57.3 903.0L64.1 902.7M84.6 914.1L88.1 902.6M88.1 902.6L94.8 901.8M116.3 914.1L119.6 902.6M119.6 902.6L126.4 901.6M148.1 914.1L156.1 905.2M156.1 905.2L162.6 907.3M179.8 914.1L188.0 905.3M187.2 906.2L190.5 907.3M211.6 914.1L220.2 905.8M219.4 906.6L222.6 907.9M243.4 914.1L247.7 902.9M247.2 904.0L250.7 903.8M275.1 914.1L275.5 902.1M275.5 903.3L278.7 902.0M306.9 914.1L298.2 905.8M299.1 906.6L300.3 903.3M338.6 914.1L332.6 903.7M333.2 904.8L335.3 901.9M370.4 914.1L361.5 906.1M362.4 906.9L363.4 903.5M402.2 914.1L414.2 914.1M414.2 914.1L417.0 920.3M433.9 914.1L444.3 908.1M444.3 908.1L449.8 912.1M465.7 914.1L473.7 905.2M473.7 905.2L480.2 907.3M497.4 914.1L507.0 903.2M507.0 903.2L513.5 905.1M505.7 904.6L509.3 905.7M529.2 914.1L539.3 907.6M539.3 907.6L545.0 911.3M561.0 914.1L573.5 906.9M573.5 906.9L579.0 910.8M571.9 907.8L574.9 910.0M592.7 914.1L606.0 908.2M606.0 908.2L611.0 912.7M604.2 909.0L607.0 911.5M624.5 914.1L635.4 909.0M635.4 909.0L640.5 913.5M656.2 914.1L665.7 906.7M665.7 906.7L671.7 909.9M688.0 914.1L694.7 904.2M694.7 904.2L701.4 905.3M719.8 914.1L727.9 905.3M727.9 905.3L734.4 907.5M751.5 914.1L757.5 903.7M756.9 904.8L760.4 905.1M783.3 914.1L794.4 918.6M794.4 918.6L794.7 925.4M815.0 914.1L829.3 916.6M829.3 916.6L831.0 923.2M827.4 916.3L828.4 919.9M52.8 953.4L57.9 942.5M57.9 942.5L64.7 942.6M84.6 953.4L85.6 941.5M85.6 941.5L92.0 939.2M116.3 953.4L122.7 943.2M122.7 943.2L129.4 944.1M148.1 953.4L157.9 946.5M157.9 946.5L163.8 950.0M179.8 953.4L188.0 944.6M188.0 944.6L194.5 946.8M211.6 953.4L219.3 944.2M218.5 945.1L221.9 946.1M243.4 953.4L248.8 942.7M248.3 943.8L251.8 944.0M275.1 953.4L279.2 942.1M278.8 943.3L282.3 943.0M306.9 953.4L302.6 942.2M303.0 943.3L305.5 940.8M338.6 953.4L328.2 959.4M329.3 958.8L326.4 956.8M370.4 953.4L361.9 961.9M362.8 961.0L359.5 959.8M402.2 953.4L410.9 941.8M410.9 941.8L417.5 943.3M409.7 943.3L413.4 944.2M433.9 953.4L440.3 943.2M440.3 943.2L447.0 944.1M465.7 953.4L456.5 945.7M457.4 946.5L458.4 943.1M497.4 953.4L505.5 941.4M505.5 941.4L512.2 942.5M504.5 943.0L508.2 943.6M529.2 953.4L544.3 948.2M544.3 948.2L549.0 953.1M542.5 948.8L547.2 953.8M561.0 953.4L576.9 952.0M576.9 952.0L580.2 957.9M575.0 952.2L578.3 958.1M592.7 953.4L606.6 949.2M606.6 949.2L611.1 954.3M604.8 949.7L607.2 952.5M624.5 953.4L631.7 943.8M631.7 943.8L638.3 945.3M656.2 953.4L664.9 945.1M664.9 945.1L671.2 947.6M688.0 953.4L699.1 948.9M698.0 949.4L700.5 951.8M719.8 953.4L729.7 946.7M729.7 946.7L735.5 950.3M751.5 953.4L763.1 950.3M763.1 950.3L767.4 955.6M783.3 953.4L799.2 954.8M799.2 954.8L801.5 961.2M797.3 954.6L799.6 961.1M815.0 953.4L827.0 953.4M827.0 953.4L829.8 959.6M52.8 992.7L56.9 981.4M56.9 981.4L63.7 980.9M84.6 992.7L87.7 981.1M87.7 981.1L94.4 980.0M116.3 992.7L122.9 982.6M122.9 982.6L129.6 983.7M148.1 992.7L155.3 983.1M155.3 983.1L161.9 984.6M179.8 992.7L187.9 983.8M187.1 984.7L190.4 985.7M211.6 992.7L219.9 984.1M219.1 984.9L222.4 986.1M243.4 992.7L249.9 982.6M249.2 983.6L252.7 984.2M275.1 992.7L275.1 980.7M275.1 981.9L278.3 980.5M306.9 992.7L317.3 986.7M370.4 992.7L376.4 982.3M376.4 982.3L383.2 983.0M402.2 992.7L410.2 983.8M410.2 983.8L416.7 985.9M433.9 992.7L424.7 985.0M424.7 985.0L426.6 978.4M465.7 992.7L469.9 978.8M469.9 978.8L476.7 978.0M469.4 980.7L473.1 980.2M497.4 992.7L510.4 986.1M510.4 986.1L515.7 990.4M508.7 987.0L511.6 989.3M624.5 992.7L635.6 988.2M634.5 988.7L637.0 991.1M656.2 992.7L656.7 980.7M656.7 980.7L663.0 978.1M719.8 992.7L709.9 985.8M815.0 992.7L820.3 981.9" stroke="#000" stroke-width="0.78" fill="none" stroke-linecap="round"/>
<g font-size="10" fill="#111" text-anchor="middle"><text transform="translate(282.2 335) rotate(0.05) scale(0.92 1)">DHB</text><text transform="translate(396.2 316) rotate(0.05) scale(0.92 1)">KSH</text><text transform="translate(458.9 362) rotate(0.05) scale(0.92 1)">HTN</text><text transform="translate(287.8 413) rotate(0.05) scale(0.92 1)">KBL</text><text transform="translate(376.7 424) rotate(0.05) scale(0.92 1)">SRN</text><text transform="translate(420.0 421) rotate(0.05) scale(0.92 1)">LEH</text><text transform="translate(377.3 450) rotate(0.05) scale(0.92 1)">JMU</text><text transform="translate(347.3 462) rotate(0.05) scale(0.92 1)">SRG</text><text transform="translate(370.0 472) rotate(0.05) scale(0.92 1)">LHR</text><text transform="translate(404.4 494) rotate(0.05) scale(0.92 1)">CNG</text><text transform="translate(362.2 514) rotate(0.05) scale(0.92 1)">STG</text><text transform="translate(275.6 536) rotate(0.05) scale(0.92 1)">JCB</text><text transform="translate(351.1 540) rotate(0.05) scale(0.92 1)">NAL</text><text transform="translate(415.6 535) rotate(0.05) scale(0.92 1)">NDLS</text><text transform="translate(348.2 576) rotate(0.05) scale(0.92 1)">JDP</text><text transform="translate(467.8 572) rotate(0.05) scale(0.92 1)">LKN</text><text transform="translate(542.2 553) rotate(0.05) scale(0.92 1)">KTM</text><text transform="translate(593.8 566) rotate(0.05) scale(0.92 1)">BGD</text><text transform="translate(540.7 589) rotate(0.05) scale(0.92 1)">PTN</text><text transform="translate(701.6 550) rotate(0.05) scale(0.92 1)">CBA</text><text transform="translate(636.0 512) rotate(0.05) scale(0.92 1)">LSA</text><text transform="translate(645.0 575) rotate(0.05) scale(0.92 1)">GHT</text><text transform="translate(66.7 596) rotate(0.05) scale(0.92 1)">DUB</text><text transform="translate(254.9 610) rotate(0.05) scale(0.92 1)">KRC</text><text transform="translate(334.4 639) rotate(0.05) scale(0.92 1)">AHM</text><text transform="translate(418.9 635) rotate(0.05) scale(0.92 1)">BHP</text><text transform="translate(342.2 717) rotate(0.05) scale(0.92 1)">MUM</text><text transform="translate(361.8 787) rotate(0.05) scale(0.92 1)">PUM</text><text transform="translate(432.7 752) rotate(0.05) scale(0.92 1)">HYD</text><text transform="translate(446.0 676) rotate(0.05) scale(0.92 1)">NGP</text><text transform="translate(521.6 608) rotate(0.05) scale(0.92 1)">RTH</text><text transform="translate(544.4 633) rotate(0.05) scale(0.92 1)">RNC</text><text transform="translate(590.7 652) rotate(0.05) scale(0.92 1)">KOL</text><text transform="translate(485.6 674) rotate(0.05) scale(0.92 1)">RPR</text><text transform="translate(552.9 693) rotate(0.05) scale(0.92 1)">BWN</text><text transform="translate(510.0 750) rotate(0.05) scale(0.92 1)">VZG</text><text transform="translate(717.3 761) rotate(0.05) scale(0.92 1)">RNG</text><text transform="translate(418.2 844) rotate(0.05) scale(0.92 1)">BNG</text><text transform="translate(404.0 928) rotate(0.05) scale(0.92 1)">TRV</text><text transform="translate(464.9 834) rotate(0.05) scale(0.92 1)">CHN</text><text transform="translate(452.9 963) rotate(0.05) scale(0.92 1)">CLM</text><text transform="translate(282.2 335) rotate(0.05) scale(0.92 1)">DHB</text><text transform="translate(396.2 316) rotate(0.05) scale(0.92 1)">KSH</text><text transform="translate(458.9 362) rotate(0.05) scale(0.92 1)">HTN</text><text transform="translate(287.8 413) rotate(0.05) scale(0.92 1)">KBL</text><text transform="translate(376.7 424) rotate(0.05) scale(0.92 1)">SRN</text><text transform="translate(420.0 421) rotate(0.05) scale(0.92 1)">LEH</text><text transform="translate(377.3 450) rotate(0.05) scale(0.92 1)">JMU</text><text transform="translate(347.3 462) rotate(0.05) scale(0.92 1)">SRG</text><text transform="translate(370.0 472) rotate(0.05) scale(0.92 1)">LHR</text><text transform="translate(404.4 494) rotate(0.05) scale(0.92 1)">CNG</text><text transform="translate(362.2 514) rotate(0.05) scale(0.92 1)">STG</text><text transform="translate(275.6 536) rotate(0.05) scale(0.92 1)">JCB</text><text transform="translate(351.1 540) rotate(0.05) scale(0.92 1)">NAL</text><text transform="translate(415.6 535) rotate(0.05) scale(0.92 1)">NDLS</text><text transform="translate(348.2 576) rotate(0.05) scale(0.92 1)">JDP</text><text transform="translate(467.8 572) rotate(0.05) scale(0.92 1)">LKN</text><text transform="translate(542.2 553) rotate(0.05) scale(0.92 1)">KTM</text><text transform="translate(593.8 566) rotate(0.05) scale(0.92 1)">BGD</text><text transform="translate(540.7 589) rotate(0.05) scale(0.92 1)">PTN</text><text transform="translate(701.6 550) rotate(0.05) scale(0.92 1)">CBA</text><text transform="translate(636.0 512) rotate(0.05) scale(0.92 1)">LSA</text><text transform="translate(645.0 575) rotate(0.05) scale(0.92 1)">GHT</text><text transform="translate(66.7 596) rotate(0.05) scale(0.92 1)">DUB</text><text transform="translate(254.9 610) rotate(0.05) scale(0.92 1)">KRC</text><text transform="translate(334.4 639) rotate(0.05) scale(0.92 1)">AHM</text><text transform="translate(418.9 635) rotate(0.05) scale(0.92 1)">BHP</text><text transform="translate(342.2 717) rotate(0.05) scale(0.92 1)">MUM</text><text transform="translate(361.8 787) rotate(0.05) scale(0.92 1)">PUM</text><text transform="translate(432.7 752) rotate(0.05) scale(0.92 1)">HYD</text><text transform="translate(446.0 676) rotate(0.05) scale(0.92 1)">NGP</text><text transform="translate(521.6 608) rotate(0.05) scale(0.92 1)">RTH</text><text transform="translate(544.4 633) rotate(0.05) scale(0.92 1)">RNC</text><text transform="translate(590.7 652) rotate(0.05) scale(0.92 1)">KOL</text><text transform="translate(485.6 674) rotate(0.05) scale(0.92 1)">RPR</text><text transform="translate(552.9 693) rotate(0.05) scale(0.92 1)">BWN</text><text transform="translate(510.0 750) rotate(0.05) scale(0.92 1)">VZG</text><text transform="translate(717.3 761) rotate(0.05) scale(0.92 1)">RNG</text><text transform="translate(418.2 844) rotate(0.05) scale(0.92 1)">BNG</text><text transform="translate(404.0 928) rotate(0.05) scale(0.92 1)">TRV</text><text transform="translate(464.9 834) rotate(0.05) scale(0.92 1)">CHN</text><text transform="translate(452.9 963) rotate(0.05) scale(0.92 1)">CLM</text></g>
</g>
<rect x="52.8" y="206.8" width="794.0" height="785.9" fill="none" stroke="#000" stroke-width="2"/>
<path d="M52.8 993.7v4.5M132.2 993.7v4.5M211.6 993.7v4.5M291.0 993.7v4.5M370.4 993.7v4.5M449.8 993.7v4.5M529.2 993.7v4.5M608.6 993.7v4.5M688.0 993.7v4.5M767.4 993.7v4.5M846.8 993.7v4.5M51.8 992.7h-4.5M51.8 894.5h-4.5M51.8 796.2h-4.5M51.8 698.0h-4.5M51.8 599.8h-4.5M51.8 501.5h-4.5M51.8 403.3h-4.5M51.8 305.0h-4.5M51.8 206.8h-4.5" stroke="#000" stroke-width="1" fill="none"/>
<text x="53.0" y="1013.6" font-size="17" fill="#000" text-anchor="middle" textLength="26.5" lengthAdjust="spacingAndGlyphs">55E</text>
<text x="132.4" y="1013.6" font-size="17" fill="#000" text-anchor="middle" textLength="26.5" lengthAdjust="spacingAndGlyphs">60E</text>
<text x="211.8" y="1013.6" font-size="17" fill="#000" text-anchor="middle" textLength="26.5" lengthAdjust="spacingAndGlyphs">65E</text>
<text x="291.2" y="1013.6" font-size="17" fill="#000" text-anchor="middle" textLength="26.5" lengthAdjust="spacingAndGlyphs">70E</text>
<text x="370.6" y="1013.6" font-size="17" fill="#000" text-anchor="middle" textLength="26.5" lengthAdjust="spacingAndGlyphs">75E</text>
<text x="450.0" y="1013.6" font-size="17" fill="#000" text-anchor="middle" textLength="26.5" lengthAdjust="spacingAndGlyphs">80E</text>
<text x="529.4" y="1013.6" font-size="17" fill="#000" text-anchor="middle" textLength="26.5" lengthAdjust="spacingAndGlyphs">85E</text>
<text x="608.8" y="1013.6" font-size="17" fill="#000" text-anchor="middle" textLength="26.5" lengthAdjust="spacingAndGlyphs">90E</text>
<text x="688.2" y="1013.6" font-size="17" fill="#000" text-anchor="middle" textLength="26.5" lengthAdjust="spacingAndGlyphs">95E</text>
<text x="767.6" y="1013.6" font-size="17" fill="#000" text-anchor="middle" textLength="34.0" lengthAdjust="spacingAndGlyphs">100E</text>
<text x="847.0" y="1013.6" font-size="17" fill="#000" text-anchor="middle" textLength="34.0" lengthAdjust="spacingAndGlyphs">105E</text>
<text x="43.3" y="998.9" font-size="17" fill="#000" text-anchor="end" textLength="18.5" lengthAdjust="spacingAndGlyphs">5N</text>
<text x="43.3" y="900.7" font-size="17" fill="#000" text-anchor="end" textLength="27.5" lengthAdjust="spacingAndGlyphs">10N</text>
<text x="43.3" y="802.4" font-size="17" fill="#000" text-anchor="end" textLength="27.5" lengthAdjust="spacingAndGlyphs">15N</text>
<text x="43.3" y="704.2" font-size="17" fill="#000" text-anchor="end" textLength="27.5" lengthAdjust="spacingAndGlyphs">20N</text>
<text x="43.3" y="606.0" font-size="17" fill="#000" text-anchor="end" textLength="27.5" lengthAdjust="spacingAndGlyphs">25N</text>
<text x="43.3" y="507.7" font-size="17" fill="#000" text-anchor="end" textLength="27.5" lengthAdjust="spacingAndGlyphs">30N</text>
<text x="43.3" y="409.5" font-size="17" fill="#000" text-anchor="end" textLength="27.5" lengthAdjust="spacingAndGlyphs">35N</text>
<text x="43.3" y="311.2" font-size="17" fill="#000" text-anchor="end" textLength="27.5" lengthAdjust="spacingAndGlyphs">40N</text>
<text x="43.3" y="213.0" font-size="17" fill="#000" text-anchor="end" textLength="27.5" lengthAdjust="spacingAndGlyphs">45N</text>
<text x="339.0" y="140.6" font-size="31" fill="#7800DC" textLength="66.5" lengthAdjust="spacingAndGlyphs">NCEP</text>
<text x="424.0" y="140.6" font-size="31" fill="#7800DC" textLength="47.5" lengthAdjust="spacingAndGlyphs">GFS</text>
<text x="490.0" y="140.6" font-size="31" fill="#7800DC" textLength="125.5" lengthAdjust="spacingAndGlyphs">GUIDANCE</text>
<text x="146.7" y="168.4" font-size="29.6" fill="#EB0A78" textLength="145.6" lengthAdjust="spacingAndGlyphs">UPPERWINDS</text>
<text x="306.7" y="168.4" font-size="29.6" fill="#EB0A78" textLength="56.6" lengthAdjust="spacingAndGlyphs">(Kts)</text>
<text x="378.3" y="168.4" font-size="29.6" fill="#EB0A78" textLength="18.4" lengthAdjust="spacingAndGlyphs">&amp;</text>
<text x="410.0" y="168.4" font-size="29.6" fill="#EB0A78" textLength="173.3" lengthAdjust="spacingAndGlyphs">TEMPERATURES</text>
<text x="600.0" y="168.4" font-size="29.6" fill="#EB0A78" textLength="50.0" lengthAdjust="spacingAndGlyphs">(Deg</text>
<text x="665.0" y="168.4" font-size="29.6" fill="#EB0A78" textLength="28.3" lengthAdjust="spacingAndGlyphs">C)</text>
<text x="706.7" y="168.4" font-size="29.6" fill="#EB0A78" textLength="21.6" lengthAdjust="spacingAndGlyphs">at</text>
<text x="745.0" y="168.4" font-size="29.6" fill="#EB0A78" textLength="61.0" lengthAdjust="spacingAndGlyphs">120m</text>
<text x="154.0" y="194.6" font-size="26.6" fill="#000" textLength="66.0" lengthAdjust="spacingAndGlyphs">VALID</text>
<text x="241.7" y="194.6" font-size="26.6" fill="#000" textLength="48.3" lengthAdjust="spacingAndGlyphs">For:</text>
<text x="310.0" y="194.6" font-size="26.6" fill="#000" textLength="143.3" lengthAdjust="spacingAndGlyphs">17FEB2026</text>
<text x="473.3" y="194.6" font-size="26.6" fill="#000" textLength="22.7" lengthAdjust="spacingAndGlyphs">at</text>
<text x="513.3" y="194.6" font-size="26.6" fill="#000" textLength="63.4" lengthAdjust="spacingAndGlyphs">0530</text>
<text x="596.7" y="194.6" font-size="26.6" fill="#000" textLength="40.0" lengthAdjust="spacingAndGlyphs">IST</text>
<text x="669.0" y="194.6" font-size="26.6" fill="#000" textLength="62.7" lengthAdjust="spacingAndGlyphs">0000</text>
<text x="751.7" y="194.6" font-size="26.6" fill="#000" textLength="46.6" lengthAdjust="spacingAndGlyphs">UTC</text>
<text transform="translate(648.3 199.6) skewX(-21)" font-size="33" fill="#000">/</text>
<text x="247.5" y="1040.0" font-size="25.2" fill="#2D4BFF" textLength="79.0" lengthAdjust="spacingAndGlyphs" stroke="#fff" stroke-width="0.55">INITIAL</text>
<text x="345.5" y="1040.0" font-size="25.2" fill="#2D4BFF" textLength="159.0" lengthAdjust="spacingAndGlyphs" stroke="#fff" stroke-width="0.55">CONDITIONS:</text>
<text x="505.5" y="1040.0" font-size="25.2" fill="#2D4BFF" textLength="200.5" lengthAdjust="spacingAndGlyphs" stroke="#fff" stroke-width="0.55">00Z16FEB2026</text>
<rect x="11.2" y="1020" width="94.6" height="21.7" fill="#2A3CFF"/>
<circle cx="21.4" cy="1030.8" r="7.9" fill="none" stroke="#fff" stroke-width="2.4"/>
<path d="M25.2 1027.6a4.9 4.9 0 1 0 0 6.4" fill="none" stroke="#fff" stroke-width="0.9"/>
<text x="35.0" y="1036.7" font-size="16.3" fill="#fff" textLength="67.5" lengthAdjust="spacingAndGlyphs" fill-opacity="0.95" stroke="#2A3CFF" stroke-width="0.75">WEACLIM</text>
<path d="M370 1046.7L327.7 1058.0L370 1069.3Z" fill="#fff" stroke="#000" stroke-width="1"/>
<rect x="370" y="1046.7" width="42.3" height="22.6" fill="#FFA00A" stroke="#000" stroke-width="1"/>
<rect x="412.3" y="1046.7" width="42.3" height="22.6" fill="#FF6400" stroke="#000" stroke-width="1"/>
<rect x="454.6" y="1046.7" width="42.4" height="22.6" fill="#FF3200" stroke="#000" stroke-width="1"/>
<rect x="497" y="1046.7" width="42.3" height="22.6" fill="#E11400" stroke="#000" stroke-width="1"/>
<rect x="539.3" y="1046.7" width="42.3" height="22.6" fill="#C00000" stroke="#000" stroke-width="1"/>
<path d="M581.6 1046.7L626 1058.0L581.6 1069.3Z" fill="#A50000" stroke="#000" stroke-width="1"/>
<text x="371.0" y="1089.3" font-size="20" fill="#000" text-anchor="middle" textLength="23.5" lengthAdjust="spacingAndGlyphs">10</text>
<text x="413.3" y="1089.3" font-size="20" fill="#000" text-anchor="middle" textLength="23.5" lengthAdjust="spacingAndGlyphs">20</text>
<text x="455.6" y="1089.3" font-size="20" fill="#000" text-anchor="middle" textLength="23.5" lengthAdjust="spacingAndGlyphs">40</text>
<text x="498.0" y="1089.3" font-size="20" fill="#000" text-anchor="middle" textLength="23.5" lengthAdjust="spacingAndGlyphs">60</text>
<text x="540.3" y="1089.3" font-size="20" fill="#000" text-anchor="middle" textLength="23.5" lengthAdjust="spacingAndGlyphs">80</text>
<text x="582.6" y="1089.3" font-size="20" fill="#000" text-anchor="middle" textLength="35.5" lengthAdjust="spacingAndGlyphs">100</text>
<text x="241.7" y="1190.0" font-size="16.6" fill="#FF1290" textLength="109.0" lengthAdjust="spacingAndGlyphs" stroke="#fff" stroke-width="0.25">BACKGROUND</text>
<text x="362.3" y="1190.0" font-size="16.6" fill="#FF1290" textLength="41.7" lengthAdjust="spacingAndGlyphs" stroke="#fff" stroke-width="0.25">DOES</text>
<text x="415.7" y="1190.0" font-size="16.6" fill="#FF1290" textLength="29.3" lengthAdjust="spacingAndGlyphs" stroke="#fff" stroke-width="0.25">NOT</text>
<text x="456.7" y="1190.0" font-size="16.6" fill="#FF1290" textLength="55.0" lengthAdjust="spacingAndGlyphs" stroke="#fff" stroke-width="0.25">DEPICT</text>
<text x="522.7" y="1190.0" font-size="16.6" fill="#FF1290" textLength="74.6" lengthAdjust="spacingAndGlyphs" stroke="#fff" stroke-width="0.25">POLITICAL</text>
<text x="610.0" y="1190.0" font-size="16.6" fill="#FF1290" textLength="101.7" lengthAdjust="spacingAndGlyphs" stroke="#fff" stroke-width="0.25">BOUNDARIES</text>
</svg>
</body></html>
